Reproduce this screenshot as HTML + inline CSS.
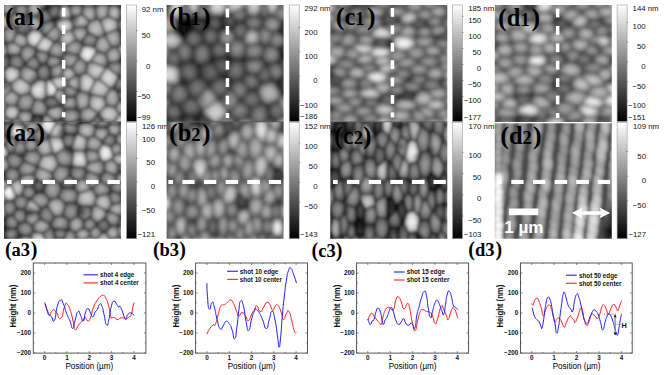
<!DOCTYPE html>
<html><head><meta charset="utf-8"><style>
html,body{margin:0;padding:0;background:#fff;}
svg{display:block;}
text{font-family:"Liberation Sans",sans-serif;}
.lab{font-family:"Liberation Serif",serif;font-weight:bold;font-size:24px;fill:#000;}
.cb{font-size:7.8px;fill:#111;}
.lab3{font-family:"Liberation Serif",serif;font-weight:bold;font-size:19px;fill:#000;}
</style></head><body>
<svg width="665" height="375" viewBox="0 0 665 375">
<defs>
<linearGradient id="cbg" x1="0" y1="0" x2="0" y2="1">
<stop offset="0" stop-color="#fff"/><stop offset="1" stop-color="#000"/>
</linearGradient>
<radialGradient id="gw"><stop offset="0" stop-color="#fff" stop-opacity="1"/><stop offset="0.5" stop-color="#fff" stop-opacity="0.7"/><stop offset="1" stop-color="#fff" stop-opacity="0"/></radialGradient>
<radialGradient id="gk"><stop offset="0" stop-color="#000" stop-opacity="1"/><stop offset="1" stop-color="#000" stop-opacity="0"/></radialGradient>
<filter id="bl" x="-5%" y="-5%" width="110%" height="110%"><feGaussianBlur stdDeviation="1.1"/></filter>
</defs>
<rect width="665" height="375" fill="#fff"/>

<text class="cb" x="150.4" y="12.0" text-anchor="end">92</text>
<text class="cb" x="150.4" y="12.0">&#160;nm</text>
<text class="cb" x="150.4" y="38.3" text-anchor="end">50</text>
<text class="cb" x="150.4" y="68.5" text-anchor="end">0</text>
<text class="cb" x="150.4" y="99.0" text-anchor="end">−50</text>
<text class="cb" x="150.4" y="120.0" text-anchor="end">−99</text>
<text class="cb" x="155.0" y="129.1" text-anchor="end">126</text>
<text class="cb" x="155.0" y="129.1">&#160;nm</text>
<text class="cb" x="155.0" y="142.0" text-anchor="end">100</text>
<text class="cb" x="155.0" y="165.3" text-anchor="end">50</text>
<text class="cb" x="155.0" y="189.0" text-anchor="end">0</text>
<text class="cb" x="155.0" y="212.8" text-anchor="end">−50</text>
<text class="cb" x="155.0" y="237.1" text-anchor="end">−121</text>
<text class="cb" x="317.5" y="11.4" text-anchor="end">292</text>
<text class="cb" x="317.5" y="11.4">&#160;nm</text>
<text class="cb" x="317.5" y="34.5" text-anchor="end">200</text>
<text class="cb" x="317.5" y="58.8" text-anchor="end">100</text>
<text class="cb" x="317.5" y="83.3" text-anchor="end">0</text>
<text class="cb" x="317.5" y="107.5" text-anchor="end">−100</text>
<text class="cb" x="317.5" y="119.1" text-anchor="end">−186</text>
<text class="cb" x="317.5" y="128.7" text-anchor="end">152</text>
<text class="cb" x="317.5" y="128.7">&#160;nm</text>
<text class="cb" x="317.5" y="149.1" text-anchor="end">100</text>
<text class="cb" x="317.5" y="169.2" text-anchor="end">50</text>
<text class="cb" x="317.5" y="189.1" text-anchor="end">0</text>
<text class="cb" x="317.5" y="209.1" text-anchor="end">−50</text>
<text class="cb" x="317.5" y="237.3" text-anchor="end">−143</text>
<text class="cb" x="481.2" y="11.4" text-anchor="end">185</text>
<text class="cb" x="481.2" y="11.4">&#160;nm</text>
<text class="cb" x="481.2" y="22.8" text-anchor="end">150</text>
<text class="cb" x="481.2" y="39.3" text-anchor="end">100</text>
<text class="cb" x="481.2" y="55.3" text-anchor="end">50</text>
<text class="cb" x="481.2" y="71.1" text-anchor="end">0</text>
<text class="cb" x="481.2" y="87.1" text-anchor="end">−50</text>
<text class="cb" x="481.2" y="102.8" text-anchor="end">−100</text>
<text class="cb" x="481.2" y="119.5" text-anchor="end">−177</text>
<text class="cb" x="481.4" y="128.7" text-anchor="end">170</text>
<text class="cb" x="481.4" y="128.7">&#160;nm</text>
<text class="cb" x="481.4" y="158.3" text-anchor="end">100</text>
<text class="cb" x="481.4" y="180.0" text-anchor="end">50</text>
<text class="cb" x="481.4" y="201.0" text-anchor="end">0</text>
<text class="cb" x="481.4" y="222.8" text-anchor="end">−50</text>
<text class="cb" x="481.4" y="236.9" text-anchor="end">−103</text>
<text class="cb" x="645.6" y="11.4" text-anchor="end">144</text>
<text class="cb" x="645.6" y="11.4">&#160;nm</text>
<text class="cb" x="645.6" y="28.8" text-anchor="end">100</text>
<text class="cb" x="645.6" y="48.8" text-anchor="end">50</text>
<text class="cb" x="645.6" y="68.9" text-anchor="end">0</text>
<text class="cb" x="645.6" y="88.8" text-anchor="end">−50</text>
<text class="cb" x="645.6" y="108.2" text-anchor="end">−100</text>
<text class="cb" x="645.6" y="119.6" text-anchor="end">−151</text>
<text class="cb" x="646.0" y="129.3" text-anchor="end">109</text>
<text class="cb" x="646.0" y="129.3">&#160;nm</text>
<text class="cb" x="646.0" y="159.3" text-anchor="end">50</text>
<text class="cb" x="646.0" y="183.3" text-anchor="end">0</text>
<text class="cb" x="646.0" y="208.1" text-anchor="end">−50</text>
<text class="cb" x="646.0" y="237.3" text-anchor="end">−127</text>
<rect x="126.6" y="5.0" width="10.0" height="116.5" fill="url(#cbg)" stroke="#999" stroke-width="0.6"/>
<path d="M136.0,30.6h1.6M136.0,61.1h1.6M136.0,91.6h1.6" stroke="#555" stroke-width="0.6"/>
<rect x="126.6" y="122.5" width="10.0" height="116.2" fill="url(#cbg)" stroke="#999" stroke-width="0.6"/>
<path d="M136.0,134.7h1.6M136.0,158.3h1.6M136.0,181.8h1.6M136.0,205.3h1.6" stroke="#555" stroke-width="0.6"/>
<rect x="289.2" y="5.0" width="10.0" height="116.5" fill="url(#cbg)" stroke="#999" stroke-width="0.6"/>
<path d="M298.6,27.4h1.6M298.6,51.8h1.6M298.6,76.2h1.6M298.6,100.5h1.6" stroke="#555" stroke-width="0.6"/>
<rect x="289.2" y="122.5" width="10.0" height="116.2" fill="url(#cbg)" stroke="#999" stroke-width="0.6"/>
<path d="M298.6,143.0h1.6M298.6,162.7h1.6M298.6,182.4h1.6M298.6,202.1h1.6" stroke="#555" stroke-width="0.6"/>
<rect x="452.5" y="5.0" width="10.0" height="116.5" fill="url(#cbg)" stroke="#999" stroke-width="0.6"/>
<path d="M461.9,16.3h1.6M461.9,32.4h1.6M461.9,48.4h1.6M461.9,64.5h1.6M461.9,80.6h1.6M461.9,96.7h1.6" stroke="#555" stroke-width="0.6"/>
<rect x="452.5" y="122.5" width="10.0" height="116.2" fill="url(#cbg)" stroke="#999" stroke-width="0.6"/>
<path d="M461.9,152.3h1.6M461.9,173.6h1.6M461.9,194.9h1.6M461.9,216.1h1.6" stroke="#555" stroke-width="0.6"/>
<rect x="617.1" y="5.0" width="10.0" height="116.5" fill="url(#cbg)" stroke="#999" stroke-width="0.6"/>
<path d="M626.5,22.4h1.6M626.5,42.1h1.6M626.5,61.9h1.6M626.5,81.6h1.6M626.5,101.4h1.6" stroke="#555" stroke-width="0.6"/>
<rect x="617.1" y="122.5" width="10.0" height="116.2" fill="url(#cbg)" stroke="#999" stroke-width="0.6"/>
<path d="M626.5,151.6h1.6M626.5,176.2h1.6M626.5,200.8h1.6" stroke="#555" stroke-width="0.6"/>
<clipPath id="cpa1"><rect x="4.0" y="5.0" width="117.0" height="117.0"/></clipPath>
<g clip-path="url(#cpa1)">
<filter id="bla1" x="-5%" y="-5%" width="110%" height="110%"><feGaussianBlur stdDeviation="1.7"/></filter>
<g filter="url(#bla1)" style="isolation:isolate">
<rect x="0.0" y="1.0" width="125.0" height="125.0" fill="rgb(87,87,87)"/>
<path d="M4.5,14.4L0.8,6.6L7.9,0.3L14.7,7.1L14.4,12.2L10.3,16.1Z" fill="url(#v80)" stroke="#000" stroke-opacity="0.72" stroke-width="1.3" stroke-linejoin="round"/>
<path d="M14.4,12.2L27.7,17.5L28.3,16.9L27.5,6.1L21.3,3.2L14.7,7.1Z" fill="url(#v74)" stroke="#000" stroke-opacity="0.72" stroke-width="1.3" stroke-linejoin="round"/>
<path d="M42.7,8.8L33.4,1.1L27.5,6.1L28.3,16.9L36.3,15.9Z" fill="url(#v86)" stroke="#000" stroke-opacity="0.72" stroke-width="1.3" stroke-linejoin="round"/>
<path d="M57.8,19.1L61.2,6.2L57.9,3.5L46.0,8.4L53.3,19.8L55.4,20.6Z" fill="url(#v64)" stroke="#000" stroke-opacity="0.72" stroke-width="1.3" stroke-linejoin="round"/>
<path d="M57.8,19.1L71.1,19.0L73.4,26.9L71.8,29.9L61.7,33.1L56.1,25.0L55.4,20.6Z" fill="url(#v104)" stroke="#000" stroke-opacity="0.72" stroke-width="1.3" stroke-linejoin="round"/>
<path d="M82.2,4.1L69.1,5.6L69.1,5.6L71.7,17.8L81.8,14.3L83.1,5.3Z" fill="url(#v80)" stroke="#000" stroke-opacity="0.72" stroke-width="1.3" stroke-linejoin="round"/>
<path d="M83.1,5.3L81.8,14.3L89.6,21.8L96.5,19.0L94.9,6.5L94.8,6.4Z" fill="url(#v86)" stroke="#000" stroke-opacity="0.72" stroke-width="1.3" stroke-linejoin="round"/>
<path d="M108.1,3.0L94.9,6.5L96.5,19.0L100.0,20.3L107.9,16.4L109.5,5.2Z" fill="url(#v86)" stroke="#000" stroke-opacity="0.72" stroke-width="1.3" stroke-linejoin="round"/>
<path d="M120.2,7.2L109.5,5.2L107.9,16.4L118.1,20.7L120.2,18.7Z" fill="url(#v92)" stroke="#000" stroke-opacity="0.72" stroke-width="1.3" stroke-linejoin="round"/>
<path d="M118.1,29.2L105.2,34.0L100.0,20.3L107.9,16.4L118.1,20.7Z" fill="url(#v98)" stroke="#000" stroke-opacity="0.72" stroke-width="1.3" stroke-linejoin="round"/>
<path d="M96.5,19.0L100.0,20.3L105.2,34.0L104.7,35.0L98.4,37.8L87.8,32.4L86.6,27.2L89.6,21.8Z" fill="url(#v92)" stroke="#000" stroke-opacity="0.72" stroke-width="1.3" stroke-linejoin="round"/>
<path d="M71.8,29.9L76.0,39.8L81.4,41.8L87.8,32.4L86.6,27.2L73.4,26.9Z" fill="url(#v86)" stroke="#000" stroke-opacity="0.72" stroke-width="1.3" stroke-linejoin="round"/>
<path d="M79.1,55.9L83.0,45.6L94.5,47.1L96.7,51.5L90.1,61.4L87.2,62.7L79.9,57.4Z" fill="url(#v115)" stroke="#000" stroke-opacity="0.72" stroke-width="1.3" stroke-linejoin="round"/>
<path d="M79.1,55.9L65.3,52.4L64.3,46.8L76.0,39.8L81.4,41.8L83.0,45.6Z" fill="url(#v80)" stroke="#000" stroke-opacity="0.72" stroke-width="1.3" stroke-linejoin="round"/>
<path d="M94.5,47.1L98.4,37.8L104.7,35.0L111.7,47.2L106.0,53.8L96.7,51.5Z" fill="url(#v86)" stroke="#000" stroke-opacity="0.72" stroke-width="1.3" stroke-linejoin="round"/>
<path d="M118.1,29.2L105.2,34.0L104.7,35.0L111.7,47.2L117.4,47.2L121.0,44.1L119.8,30.6Z" fill="url(#v86)" stroke="#000" stroke-opacity="0.72" stroke-width="1.3" stroke-linejoin="round"/>
<path d="M111.7,47.2L106.0,53.8L108.2,63.7L119.1,60.8L121.3,55.6L117.4,47.2Z" fill="url(#v86)" stroke="#000" stroke-opacity="0.72" stroke-width="1.3" stroke-linejoin="round"/>
<path d="M28.4,44.7L35.5,47.5L43.5,36.3L40.1,31.0L32.1,29.8L26.4,36.4Z" fill="url(#v109)" stroke="#000" stroke-opacity="0.72" stroke-width="1.3" stroke-linejoin="round"/>
<path d="M36.3,49.3L35.5,47.5L43.5,36.3L44.7,36.4L54.3,41.9L47.9,52.6Z" fill="url(#v104)" stroke="#000" stroke-opacity="0.72" stroke-width="1.3" stroke-linejoin="round"/>
<path d="M22.4,47.7L12.5,41.7L17.2,32.2L26.4,36.4L28.4,44.7Z" fill="url(#v86)" stroke="#000" stroke-opacity="0.72" stroke-width="1.3" stroke-linejoin="round"/>
<path d="M2.9,29.3L11.4,26.0L15.7,28.3L17.2,32.2L12.5,41.7L6.3,44.1L5.0,43.3Z" fill="url(#v80)" stroke="#000" stroke-opacity="0.72" stroke-width="1.3" stroke-linejoin="round"/>
<path d="M22.4,47.7L19.5,54.4L8.8,55.5L7.2,54.1L6.3,44.1L12.5,41.7Z" fill="url(#v86)" stroke="#000" stroke-opacity="0.72" stroke-width="1.3" stroke-linejoin="round"/>
<path d="M22.4,47.7L19.5,54.4L24.8,63.4L35.0,55.1L36.3,49.3L35.5,47.5L28.4,44.7Z" fill="url(#v80)" stroke="#000" stroke-opacity="0.72" stroke-width="1.3" stroke-linejoin="round"/>
<path d="M46.0,63.8L49.4,55.2L47.9,52.6L36.3,49.3L35.0,55.1L41.0,64.5Z" fill="url(#v74)" stroke="#000" stroke-opacity="0.72" stroke-width="1.3" stroke-linejoin="round"/>
<path d="M59.2,41.4L54.3,41.9L47.9,52.6L49.4,55.2L61.6,58.0L65.3,52.4L64.3,46.8Z" fill="url(#v80)" stroke="#000" stroke-opacity="0.72" stroke-width="1.3" stroke-linejoin="round"/>
<path d="M55.4,20.6L53.3,19.8L42.5,24.0L40.1,31.0L43.5,36.3L44.7,36.4L56.1,25.0Z" fill="url(#v74)" stroke="#000" stroke-opacity="0.72" stroke-width="1.3" stroke-linejoin="round"/>
<path d="M56.1,25.0L44.7,36.4L54.3,41.9L59.2,41.4L61.7,33.1Z" fill="url(#v80)" stroke="#000" stroke-opacity="0.72" stroke-width="1.3" stroke-linejoin="round"/>
<path d="M79.1,55.9L65.3,52.4L61.6,58.0L61.7,62.7L64.2,66.5L71.3,68.0L79.9,57.4Z" fill="url(#v80)" stroke="#000" stroke-opacity="0.72" stroke-width="1.3" stroke-linejoin="round"/>
<path d="M90.1,61.4L106.1,67.5L106.9,67.0L108.2,63.7L106.0,53.8L96.7,51.5Z" fill="url(#v86)" stroke="#000" stroke-opacity="0.72" stroke-width="1.3" stroke-linejoin="round"/>
<path d="M3.8,70.4L5.7,80.7L11.0,83.4L19.8,77.1L19.8,69.7L10.1,66.2Z" fill="url(#v104)" stroke="#000" stroke-opacity="0.72" stroke-width="1.3" stroke-linejoin="round"/>
<path d="M19.8,77.1L31.3,85.3L30.1,92.9L20.1,95.9L12.1,90.1L11.0,83.4Z" fill="url(#v98)" stroke="#000" stroke-opacity="0.72" stroke-width="1.3" stroke-linejoin="round"/>
<path d="M19.8,77.1L31.3,85.3L38.2,79.5L36.3,71.1L24.6,65.1L19.8,69.7Z" fill="url(#v86)" stroke="#000" stroke-opacity="0.72" stroke-width="1.3" stroke-linejoin="round"/>
<path d="M46.2,80.6L38.2,79.5L31.3,85.3L30.1,92.9L35.1,98.8L42.7,99.9L46.2,96.8Z" fill="url(#v109)" stroke="#000" stroke-opacity="0.72" stroke-width="1.3" stroke-linejoin="round"/>
<path d="M57.6,89.5L50.3,79.3L46.2,80.6L46.2,96.8L53.8,95.6Z" fill="url(#v115)" stroke="#000" stroke-opacity="0.72" stroke-width="1.3" stroke-linejoin="round"/>
<path d="M46.0,63.8L50.6,68.0L50.6,79.0L50.3,79.3L46.2,80.6L38.2,79.5L36.3,71.1L41.0,64.5Z" fill="url(#v68)" stroke="#000" stroke-opacity="0.72" stroke-width="1.3" stroke-linejoin="round"/>
<path d="M7.2,105.7L16.4,105.7L20.1,95.9L12.1,90.1L1.8,98.1Z" fill="url(#v86)" stroke="#000" stroke-opacity="0.72" stroke-width="1.3" stroke-linejoin="round"/>
<path d="M12.1,119.9L6.0,117.6L4.1,112.2L7.2,105.7L16.4,105.7L19.7,111.0L17.4,117.3Z" fill="url(#v98)" stroke="#000" stroke-opacity="0.72" stroke-width="1.3" stroke-linejoin="round"/>
<path d="M19.7,111.0L30.5,111.0L35.1,98.8L30.1,92.9L20.1,95.9L16.4,105.7Z" fill="url(#v80)" stroke="#000" stroke-opacity="0.72" stroke-width="1.3" stroke-linejoin="round"/>
<path d="M43.6,116.0L46.4,114.3L47.6,108.8L42.7,99.9L35.1,98.8L30.5,111.0L32.7,114.5Z" fill="url(#v80)" stroke="#000" stroke-opacity="0.72" stroke-width="1.3" stroke-linejoin="round"/>
<path d="M54.3,120.3L62.1,118.2L64.1,109.2L61.7,105.6L61.6,105.5L47.6,108.8L46.4,114.3Z" fill="url(#v86)" stroke="#000" stroke-opacity="0.72" stroke-width="1.3" stroke-linejoin="round"/>
<path d="M31.0,121.1L24.0,124.8L17.4,117.3L19.7,111.0L30.5,111.0L32.7,114.5Z" fill="url(#v86)" stroke="#000" stroke-opacity="0.72" stroke-width="1.3" stroke-linejoin="round"/>
<path d="M61.7,62.7L64.2,66.5L61.4,76.0L50.6,79.0L50.6,68.0Z" fill="url(#v80)" stroke="#000" stroke-opacity="0.72" stroke-width="1.3" stroke-linejoin="round"/>
<path d="M67.3,84.6L78.6,91.4L79.7,90.9L79.7,75.7L76.2,75.0L67.3,81.1Z" fill="url(#v86)" stroke="#000" stroke-opacity="0.72" stroke-width="1.3" stroke-linejoin="round"/>
<path d="M79.7,90.9L89.3,92.9L95.5,79.8L86.2,72.8L79.7,75.7Z" fill="url(#v104)" stroke="#000" stroke-opacity="0.72" stroke-width="1.3" stroke-linejoin="round"/>
<path d="M87.2,62.7L86.2,72.8L95.5,79.8L98.8,79.1L106.1,67.5L90.1,61.4Z" fill="url(#v98)" stroke="#000" stroke-opacity="0.72" stroke-width="1.3" stroke-linejoin="round"/>
<path d="M119.0,76.4L106.9,67.0L106.1,67.5L98.8,79.1L110.4,88.3L112.6,87.9Z" fill="url(#v104)" stroke="#000" stroke-opacity="0.72" stroke-width="1.3" stroke-linejoin="round"/>
<path d="M106.3,105.5L98.8,113.0L88.7,106.7L90.1,94.3L104.5,97.3Z" fill="url(#v98)" stroke="#000" stroke-opacity="0.72" stroke-width="1.3" stroke-linejoin="round"/>
<path d="M78.6,91.4L75.3,96.0L77.5,109.2L79.7,110.7L88.7,106.7L90.1,94.3L89.3,92.9L79.7,90.9Z" fill="url(#v86)" stroke="#000" stroke-opacity="0.72" stroke-width="1.3" stroke-linejoin="round"/>
<path d="M75.3,96.0L77.5,109.2L64.1,109.2L61.7,105.6L66.5,97.5Z" fill="url(#v80)" stroke="#000" stroke-opacity="0.72" stroke-width="1.3" stroke-linejoin="round"/>
<path d="M117.0,91.1L112.6,87.9L110.4,88.3L104.5,97.3L106.3,105.5L115.3,107.5L119.7,100.4Z" fill="url(#v86)" stroke="#000" stroke-opacity="0.72" stroke-width="1.3" stroke-linejoin="round"/>
<path d="M106.3,105.5L98.8,113.0L98.8,113.5L103.2,119.8L114.2,122.4L119.3,114.1L115.3,107.5Z" fill="url(#v98)" stroke="#000" stroke-opacity="0.72" stroke-width="1.3" stroke-linejoin="round"/>
<path d="M79.7,119.6L79.7,110.7L88.7,106.7L98.8,113.0L98.8,113.5L90.1,122.3L80.2,120.3Z" fill="url(#v86)" stroke="#000" stroke-opacity="0.72" stroke-width="1.3" stroke-linejoin="round"/>
<path d="M67.0,123.9L79.7,119.6L79.7,110.7L77.5,109.2L64.1,109.2L62.1,118.2Z" fill="url(#v80)" stroke="#000" stroke-opacity="0.72" stroke-width="1.3" stroke-linejoin="round"/>
<path d="M79.9,57.4L71.3,68.0L76.2,75.0L79.7,75.7L86.2,72.8L87.2,62.7Z" fill="url(#v80)" stroke="#000" stroke-opacity="0.72" stroke-width="1.3" stroke-linejoin="round"/>
<path d="M67.3,84.6L62.6,89.4L66.5,97.5L75.3,96.0L78.6,91.4Z" fill="url(#v74)" stroke="#000" stroke-opacity="0.72" stroke-width="1.3" stroke-linejoin="round"/>
<path d="M61.7,33.1L59.2,41.4L64.3,46.8L76.0,39.8L71.8,29.9Z" fill="url(#v95)" stroke="#000" stroke-opacity="0.72" stroke-width="1.3" stroke-linejoin="round"/>
<path d="M120.2,18.7L118.1,20.7L118.1,29.2L119.8,30.6L131.0,31.1L131.0,17.7Z" fill="url(#v78)" stroke="#000" stroke-opacity="0.72" stroke-width="1.3" stroke-linejoin="round"/>
<path d="M5.7,80.7L11.0,83.4L12.1,90.1L1.8,98.1L-6.0,96.3L-6.0,85.6Z" fill="url(#v95)" stroke="#000" stroke-opacity="0.72" stroke-width="1.3" stroke-linejoin="round"/>
<path d="M36.3,15.9L28.3,16.9L27.7,17.5L27.2,19.6L32.1,29.8L40.1,31.0L42.5,24.0Z" fill="url(#v85)" stroke="#000" stroke-opacity="0.72" stroke-width="1.3" stroke-linejoin="round"/>
<path d="M43.6,116.0L46.4,114.3L54.3,120.3L50.9,132.0L40.6,132.0Z" fill="url(#v88)" stroke="#000" stroke-opacity="0.72" stroke-width="1.3" stroke-linejoin="round"/>
<path d="M42.7,8.8L33.4,1.1L33.7,-5.0L46.2,-5.0L45.5,8.2Z" fill="url(#v89)" stroke="#000" stroke-opacity="0.72" stroke-width="1.3" stroke-linejoin="round"/>
<path d="M-6.0,22.0L4.5,14.4L10.3,16.1L11.4,26.0L2.9,29.3L-6.0,26.3Z" fill="url(#v89)" stroke="#000" stroke-opacity="0.72" stroke-width="1.3" stroke-linejoin="round"/>
<path d="M7.2,54.1L8.8,55.5L10.1,66.2L3.8,70.4L-6.0,67.0L-6.0,58.9Z" fill="url(#v65)" stroke="#000" stroke-opacity="0.72" stroke-width="1.3" stroke-linejoin="round"/>
<path d="M31.0,121.1L24.0,124.8L22.5,132.0L40.3,132.0Z" fill="url(#v68)" stroke="#000" stroke-opacity="0.72" stroke-width="1.3" stroke-linejoin="round"/>
<path d="M119.1,60.8L121.3,55.6L131.0,56.0L131.0,65.0L123.5,66.1Z" fill="url(#v44)" stroke="#000" stroke-opacity="0.72" stroke-width="1.3" stroke-linejoin="round"/>
<path d="M117.4,47.2L121.3,55.6L131.0,56.0L131.0,44.3L121.0,44.1Z" fill="url(#v92)" stroke="#000" stroke-opacity="0.72" stroke-width="1.3" stroke-linejoin="round"/>
<path d="M114.2,122.4L116.6,132.0L131.0,132.0L131.0,114.8L119.3,114.1Z" fill="url(#v104)" stroke="#000" stroke-opacity="0.72" stroke-width="1.3" stroke-linejoin="round"/>
<path d="M117.0,91.1L112.6,87.9L119.0,76.4L119.3,76.4L131.0,79.6L131.0,89.2Z" fill="url(#v66)" stroke="#000" stroke-opacity="0.72" stroke-width="1.3" stroke-linejoin="round"/>
<path d="M33.4,1.1L27.5,6.1L21.3,3.2L20.9,-5.0L33.7,-5.0Z" fill="url(#v79)" stroke="#000" stroke-opacity="0.72" stroke-width="1.3" stroke-linejoin="round"/>
<path d="M122.1,5.8L121.7,-5.0L108.6,-5.0L108.1,3.0L109.5,5.2L120.2,7.2Z" fill="url(#v63)" stroke="#000" stroke-opacity="0.72" stroke-width="1.3" stroke-linejoin="round"/>
<path d="M-6.0,111.8L-6.0,96.3L1.8,98.1L7.2,105.7L4.1,112.2Z" fill="url(#v82)" stroke="#000" stroke-opacity="0.72" stroke-width="1.3" stroke-linejoin="round"/>
<path d="M61.6,105.5L53.8,95.6L46.2,96.8L42.7,99.9L47.6,108.8Z" fill="url(#v60)" stroke="#000" stroke-opacity="0.72" stroke-width="1.3" stroke-linejoin="round"/>
<path d="M94.5,-5.0L94.8,6.4L83.1,5.3L82.2,4.1L82.3,-5.0Z" fill="url(#v92)" stroke="#000" stroke-opacity="0.72" stroke-width="1.3" stroke-linejoin="round"/>
<path d="M98.8,113.5L90.1,122.3L93.3,132.0L99.2,132.0L103.2,119.8Z" fill="url(#v61)" stroke="#000" stroke-opacity="0.72" stroke-width="1.3" stroke-linejoin="round"/>
<path d="M46.0,8.4L57.9,3.5L56.8,-5.0L46.2,-5.0L45.5,8.2Z" fill="url(#v67)" stroke="#000" stroke-opacity="0.72" stroke-width="1.3" stroke-linejoin="round"/>
<path d="M-6.0,129.7L6.0,117.6L12.1,119.9L11.6,132.0L-6.0,132.0Z" fill="url(#v86)" stroke="#000" stroke-opacity="0.72" stroke-width="1.3" stroke-linejoin="round"/>
<path d="M10.3,16.1L11.4,26.0L15.7,28.3L27.2,19.6L27.7,17.5L14.4,12.2Z" fill="url(#v82)" stroke="#000" stroke-opacity="0.72" stroke-width="1.3" stroke-linejoin="round"/>
<path d="M119.7,100.4L131.0,100.6L131.0,114.8L119.3,114.1L115.3,107.5Z" fill="url(#v89)" stroke="#000" stroke-opacity="0.72" stroke-width="1.3" stroke-linejoin="round"/>
<path d="M69.1,5.6L69.1,5.6L61.2,6.2L57.9,3.5L56.8,-5.0L69.4,-5.0Z" fill="url(#v84)" stroke="#000" stroke-opacity="0.72" stroke-width="1.3" stroke-linejoin="round"/>
<path d="M104.5,97.3L90.1,94.3L89.3,92.9L95.5,79.8L98.8,79.1L110.4,88.3Z" fill="url(#v98)" stroke="#000" stroke-opacity="0.72" stroke-width="1.3" stroke-linejoin="round"/>
<path d="M8.8,55.5L10.1,66.2L19.8,69.7L24.6,65.1L24.8,63.4L19.5,54.4Z" fill="url(#v69)" stroke="#000" stroke-opacity="0.72" stroke-width="1.3" stroke-linejoin="round"/>
<path d="M89.6,21.8L86.6,27.2L73.4,26.9L71.1,19.0L71.7,17.8L81.8,14.3Z" fill="url(#v91)" stroke="#000" stroke-opacity="0.72" stroke-width="1.3" stroke-linejoin="round"/>
<path d="M131.0,-5.0L131.0,6.7L122.1,5.8L121.7,-5.0Z" fill="url(#v78)" stroke="#000" stroke-opacity="0.72" stroke-width="1.3" stroke-linejoin="round"/>
<path d="M2.9,29.3L5.0,43.3L-6.0,43.7L-6.0,26.3Z" fill="url(#v93)" stroke="#000" stroke-opacity="0.72" stroke-width="1.3" stroke-linejoin="round"/>
<path d="M67.3,84.6L62.6,89.4L57.6,89.5L50.3,79.3L50.6,79.0L61.4,76.0L67.3,81.1Z" fill="url(#v100)" stroke="#000" stroke-opacity="0.72" stroke-width="1.3" stroke-linejoin="round"/>
<path d="M67.3,81.1L61.4,76.0L64.2,66.5L71.3,68.0L76.2,75.0Z" fill="url(#v90)" stroke="#000" stroke-opacity="0.72" stroke-width="1.3" stroke-linejoin="round"/>
<path d="M5.0,43.3L-6.0,43.7L-6.0,58.9L7.2,54.1L6.3,44.1Z" fill="url(#v91)" stroke="#000" stroke-opacity="0.72" stroke-width="1.3" stroke-linejoin="round"/>
<path d="M54.3,120.3L50.9,132.0L66.4,132.0L67.0,123.9L62.1,118.2Z" fill="url(#v54)" stroke="#000" stroke-opacity="0.72" stroke-width="1.3" stroke-linejoin="round"/>
<path d="M26.4,36.4L32.1,29.8L27.2,19.6L15.7,28.3L17.2,32.2Z" fill="url(#v68)" stroke="#000" stroke-opacity="0.72" stroke-width="1.3" stroke-linejoin="round"/>
<path d="M114.2,122.4L103.2,119.8L99.2,132.0L116.6,132.0Z" fill="url(#v102)" stroke="#000" stroke-opacity="0.72" stroke-width="1.3" stroke-linejoin="round"/>
<path d="M119.3,76.4L123.5,66.1L131.0,65.0L131.0,79.6Z" fill="url(#v85)" stroke="#000" stroke-opacity="0.72" stroke-width="1.3" stroke-linejoin="round"/>
<path d="M41.0,64.5L36.3,71.1L24.6,65.1L24.8,63.4L35.0,55.1Z" fill="url(#v69)" stroke="#000" stroke-opacity="0.72" stroke-width="1.3" stroke-linejoin="round"/>
<path d="M46.0,8.4L53.3,19.8L42.5,24.0L36.3,15.9L42.7,8.8L45.5,8.2Z" fill="url(#v65)" stroke="#000" stroke-opacity="0.72" stroke-width="1.3" stroke-linejoin="round"/>
<path d="M117.0,91.1L131.0,89.2L131.0,100.6L119.7,100.4Z" fill="url(#v67)" stroke="#000" stroke-opacity="0.72" stroke-width="1.3" stroke-linejoin="round"/>
<path d="M24.0,124.8L17.4,117.3L12.1,119.9L11.6,132.0L22.5,132.0Z" fill="url(#v79)" stroke="#000" stroke-opacity="0.72" stroke-width="1.3" stroke-linejoin="round"/>
<path d="M94.5,-5.0L108.6,-5.0L108.1,3.0L94.9,6.5L94.8,6.4Z" fill="url(#v84)" stroke="#000" stroke-opacity="0.72" stroke-width="1.3" stroke-linejoin="round"/>
<path d="M-6.0,-5.0L-6.0,5.8L0.8,6.6L7.9,0.3L8.0,-5.0Z" fill="url(#v55)" stroke="#000" stroke-opacity="0.72" stroke-width="1.3" stroke-linejoin="round"/>
<path d="M119.8,30.6L131.0,31.1L131.0,44.3L121.0,44.1Z" fill="url(#v61)" stroke="#000" stroke-opacity="0.72" stroke-width="1.3" stroke-linejoin="round"/>
<path d="M67.0,123.9L66.4,132.0L80.6,132.0L80.2,120.3L79.7,119.6Z" fill="url(#v76)" stroke="#000" stroke-opacity="0.72" stroke-width="1.3" stroke-linejoin="round"/>
<path d="M14.7,7.1L21.3,3.2L20.9,-5.0L8.0,-5.0L7.9,0.3Z" fill="url(#v82)" stroke="#000" stroke-opacity="0.72" stroke-width="1.3" stroke-linejoin="round"/>
<path d="M82.3,-5.0L69.4,-5.0L69.1,5.6L82.2,4.1Z" fill="url(#v69)" stroke="#000" stroke-opacity="0.72" stroke-width="1.3" stroke-linejoin="round"/>
<path d="M57.8,19.1L61.2,6.2L69.1,5.6L71.7,17.8L71.1,19.0Z" fill="url(#v95)" stroke="#000" stroke-opacity="0.72" stroke-width="1.3" stroke-linejoin="round"/>
<path d="M80.2,120.3L80.6,132.0L93.3,132.0L90.1,122.3Z" fill="url(#v71)" stroke="#000" stroke-opacity="0.72" stroke-width="1.3" stroke-linejoin="round"/>
<path d="M122.1,5.8L120.2,7.2L120.2,18.7L131.0,17.7L131.0,6.7Z" fill="url(#v84)" stroke="#000" stroke-opacity="0.72" stroke-width="1.3" stroke-linejoin="round"/>
<path d="M3.8,70.4L5.7,80.7L-6.0,85.6L-6.0,67.0Z" fill="url(#v59)" stroke="#000" stroke-opacity="0.72" stroke-width="1.3" stroke-linejoin="round"/>
<path d="M66.5,97.5L61.7,105.6L61.6,105.5L53.8,95.6L57.6,89.5L62.6,89.4Z" fill="url(#v96)" stroke="#000" stroke-opacity="0.72" stroke-width="1.3" stroke-linejoin="round"/>
<path d="M119.0,76.4L106.9,67.0L108.2,63.7L119.1,60.8L123.5,66.1L119.3,76.4Z" fill="url(#v74)" stroke="#000" stroke-opacity="0.72" stroke-width="1.3" stroke-linejoin="round"/>
<path d="M-6.0,129.7L-6.0,111.8L4.1,112.2L6.0,117.6Z" fill="url(#v85)" stroke="#000" stroke-opacity="0.72" stroke-width="1.3" stroke-linejoin="round"/>
<path d="M46.0,63.8L50.6,68.0L61.7,62.7L61.6,58.0L49.4,55.2Z" fill="url(#v76)" stroke="#000" stroke-opacity="0.72" stroke-width="1.3" stroke-linejoin="round"/>
<path d="M40.3,132.0L31.0,121.1L32.7,114.5L43.6,116.0L40.6,132.0Z" fill="url(#v49)" stroke="#000" stroke-opacity="0.72" stroke-width="1.3" stroke-linejoin="round"/>
<path d="M94.5,47.1L98.4,37.8L87.8,32.4L81.4,41.8L83.0,45.6Z" fill="url(#v71)" stroke="#000" stroke-opacity="0.72" stroke-width="1.3" stroke-linejoin="round"/>
<path d="M-6.0,22.0L4.5,14.4L0.8,6.6L-6.0,5.8Z" fill="url(#v74)" stroke="#000" stroke-opacity="0.72" stroke-width="1.3" stroke-linejoin="round"/>
<ellipse cx="48.0" cy="6.8" rx="8.0" ry="8.0" fill="url(#gk)" opacity="0.5"/>
<ellipse cx="56.8" cy="19.1" rx="6.9" ry="6.9" fill="url(#gk)" opacity="0.5"/>
<ellipse cx="74.4" cy="19.1" rx="6.9" ry="6.9" fill="url(#gk)" opacity="0.45"/>
<ellipse cx="25.1" cy="31.4" rx="6.9" ry="6.9" fill="url(#gk)" opacity="0.3"/>
<ellipse cx="4.0" cy="86.4" rx="8.0" ry="8.0" fill="url(#gk)" opacity="0.6"/>
<ellipse cx="33.9" cy="81.1" rx="6.9" ry="6.9" fill="url(#gk)" opacity="0.4"/>
<ellipse cx="62.1" cy="98.7" rx="6.9" ry="6.9" fill="url(#gk)" opacity="0.4"/>
</g></g>
<clipPath id="cpa2"><rect x="4.0" y="122.0" width="117.0" height="116.7"/></clipPath>
<g clip-path="url(#cpa2)">
<filter id="bla2" x="-5%" y="-5%" width="110%" height="110%"><feGaussianBlur stdDeviation="1.7"/></filter>
<g filter="url(#bla2)" style="isolation:isolate">
<rect x="0.0" y="118.0" width="125.0" height="124.7" fill="rgb(86,86,86)"/>
<path d="M40.4,124.9L40.5,127.4L49.0,135.5L56.4,123.1L49.0,112.5Z" fill="url(#v115)" stroke="#000" stroke-opacity="0.72" stroke-width="1.3" stroke-linejoin="round"/>
<path d="M65.1,147.7L54.3,154.5L53.2,154.0L48.5,137.6L49.1,136.3L61.4,137.9Z" fill="url(#v103)" stroke="#000" stroke-opacity="0.72" stroke-width="1.3" stroke-linejoin="round"/>
<path d="M37.8,142.6L36.9,150.2L42.0,156.3L53.2,154.0L48.5,137.6Z" fill="url(#v91)" stroke="#000" stroke-opacity="0.72" stroke-width="1.3" stroke-linejoin="round"/>
<path d="M86.0,149.3L84.3,151.0L73.5,151.0L71.1,148.6L76.5,134.5L77.9,133.4L87.4,138.2Z" fill="url(#v97)" stroke="#000" stroke-opacity="0.72" stroke-width="1.3" stroke-linejoin="round"/>
<path d="M78.3,124.1L77.9,124.7L77.9,133.4L87.4,138.2L93.6,135.5L95.4,127.4L94.7,125.8L89.8,122.6Z" fill="url(#v91)" stroke="#000" stroke-opacity="0.72" stroke-width="1.3" stroke-linejoin="round"/>
<path d="M101.8,141.3L109.4,133.5L107.7,127.5L95.4,127.4L93.6,135.5Z" fill="url(#v85)" stroke="#000" stroke-opacity="0.72" stroke-width="1.3" stroke-linejoin="round"/>
<path d="M107.7,127.5L109.9,123.6L120.3,124.1L120.6,132.9L115.9,135.9L109.4,133.5Z" fill="url(#v85)" stroke="#000" stroke-opacity="0.72" stroke-width="1.3" stroke-linejoin="round"/>
<path d="M102.5,143.9L110.2,146.9L113.3,156.0L111.8,158.8L104.3,162.2L100.7,159.8L98.3,151.2Z" fill="url(#v115)" stroke="#000" stroke-opacity="0.72" stroke-width="1.3" stroke-linejoin="round"/>
<path d="M87.4,163.7L85.2,167.6L71.6,166.1L73.5,151.0L84.3,151.0Z" fill="url(#v109)" stroke="#000" stroke-opacity="0.72" stroke-width="1.3" stroke-linejoin="round"/>
<path d="M101.8,141.3L93.6,135.5L87.4,138.2L86.0,149.3L98.3,151.2L102.5,143.9Z" fill="url(#v85)" stroke="#000" stroke-opacity="0.72" stroke-width="1.3" stroke-linejoin="round"/>
<path d="M71.1,148.6L73.5,151.0L71.6,166.1L70.0,167.2L58.5,164.9L54.3,154.5L65.1,147.7Z" fill="url(#v79)" stroke="#000" stroke-opacity="0.72" stroke-width="1.3" stroke-linejoin="round"/>
<path d="M58.5,164.9L52.3,173.1L37.4,166.7L37.4,166.7L42.0,156.3L53.2,154.0L54.3,154.5Z" fill="url(#v97)" stroke="#000" stroke-opacity="0.72" stroke-width="1.3" stroke-linejoin="round"/>
<path d="M36.9,150.2L26.9,151.7L22.9,156.9L23.7,160.9L37.4,166.7L42.0,156.3Z" fill="url(#v79)" stroke="#000" stroke-opacity="0.72" stroke-width="1.3" stroke-linejoin="round"/>
<path d="M9.4,166.9L5.8,157.0L8.1,153.8L13.3,152.7L22.9,156.9L23.7,160.9L17.9,169.0Z" fill="url(#v73)" stroke="#000" stroke-opacity="0.72" stroke-width="1.3" stroke-linejoin="round"/>
<path d="M17.9,169.0L23.7,160.9L37.4,166.7L37.4,166.7L34.4,173.9L20.3,176.3Z" fill="url(#v79)" stroke="#000" stroke-opacity="0.72" stroke-width="1.3" stroke-linejoin="round"/>
<path d="M10.1,183.6L19.5,178.7L20.3,176.3L17.9,169.0L9.4,166.9L4.8,171.6L5.6,179.3Z" fill="url(#v73)" stroke="#000" stroke-opacity="0.72" stroke-width="1.3" stroke-linejoin="round"/>
<path d="M70.0,167.2L58.5,164.9L52.3,173.1L52.7,178.9L60.0,184.2L70.0,174.5Z" fill="url(#v79)" stroke="#000" stroke-opacity="0.72" stroke-width="1.3" stroke-linejoin="round"/>
<path d="M71.6,166.1L85.2,167.6L86.4,170.6L84.3,178.3L76.2,181.4L70.0,174.5L70.0,167.2Z" fill="url(#v73)" stroke="#000" stroke-opacity="0.72" stroke-width="1.3" stroke-linejoin="round"/>
<path d="M104.3,162.2L100.7,159.8L87.4,163.7L85.2,167.6L86.4,170.6L100.2,175.7L104.3,171.1Z" fill="url(#v85)" stroke="#000" stroke-opacity="0.72" stroke-width="1.3" stroke-linejoin="round"/>
<path d="M116.1,175.6L104.3,171.1L104.3,162.2L111.8,158.8L118.6,165.2L118.2,173.3Z" fill="url(#v85)" stroke="#000" stroke-opacity="0.72" stroke-width="1.3" stroke-linejoin="round"/>
<path d="M116.3,142.3L122.8,146.2L120.3,153.4L113.3,156.0L110.2,146.9Z" fill="url(#v79)" stroke="#000" stroke-opacity="0.72" stroke-width="1.3" stroke-linejoin="round"/>
<path d="M64.9,122.8L62.2,124.3L64.4,133.6L76.5,134.5L77.9,133.4L77.9,124.7Z" fill="url(#v73)" stroke="#000" stroke-opacity="0.72" stroke-width="1.3" stroke-linejoin="round"/>
<path d="M32.0,137.6L23.9,142.4L26.9,151.7L36.9,150.2L37.8,142.6Z" fill="url(#v79)" stroke="#000" stroke-opacity="0.72" stroke-width="1.3" stroke-linejoin="round"/>
<path d="M4.8,146.2L8.1,153.8L13.3,152.7L17.9,140.1L16.6,138.1L10.0,135.8L8.8,136.0Z" fill="url(#v73)" stroke="#000" stroke-opacity="0.72" stroke-width="1.3" stroke-linejoin="round"/>
<path d="M10.1,183.9L16.1,196.4L13.1,200.2L7.0,200.5L1.5,192.0Z" fill="url(#v119)" stroke="#000" stroke-opacity="0.72" stroke-width="1.3" stroke-linejoin="round"/>
<path d="M95.1,204.7L92.0,206.6L79.3,205.4L76.6,202.4L78.4,193.7L91.4,188.8L92.2,189.0L96.4,196.6Z" fill="url(#v97)" stroke="#000" stroke-opacity="0.72" stroke-width="1.3" stroke-linejoin="round"/>
<path d="M55.1,217.0L47.1,205.7L50.1,199.8L58.5,197.5L65.5,203.5L62.5,215.4Z" fill="url(#v91)" stroke="#000" stroke-opacity="0.72" stroke-width="1.3" stroke-linejoin="round"/>
<path d="M30.6,199.1L35.9,192.8L43.6,192.3L50.1,199.8L47.1,205.7L40.8,208.5Z" fill="url(#v79)" stroke="#000" stroke-opacity="0.72" stroke-width="1.3" stroke-linejoin="round"/>
<path d="M16.1,196.4L21.8,195.0L29.4,199.3L24.7,209.8L16.7,208.7L13.1,200.2Z" fill="url(#v73)" stroke="#000" stroke-opacity="0.72" stroke-width="1.3" stroke-linejoin="round"/>
<path d="M6.6,215.8L12.4,215.1L16.7,208.7L13.1,200.2L7.0,200.5L2.0,205.7Z" fill="url(#v73)" stroke="#000" stroke-opacity="0.72" stroke-width="1.3" stroke-linejoin="round"/>
<path d="M24.7,209.8L16.7,208.7L12.4,215.1L19.2,223.6L25.4,221.3L26.7,212.8Z" fill="url(#v73)" stroke="#000" stroke-opacity="0.72" stroke-width="1.3" stroke-linejoin="round"/>
<path d="M5.6,217.2L5.5,228.6L16.8,228.6L19.2,223.6L12.4,215.1L6.6,215.8Z" fill="url(#v73)" stroke="#000" stroke-opacity="0.72" stroke-width="1.3" stroke-linejoin="round"/>
<path d="M29.4,199.3L21.8,195.0L24.2,185.6L32.1,185.7L35.9,192.8L30.6,199.1Z" fill="url(#v73)" stroke="#000" stroke-opacity="0.72" stroke-width="1.3" stroke-linejoin="round"/>
<path d="M61.4,188.1L58.5,197.5L50.1,199.8L43.6,192.3L45.8,183.5L52.7,178.9L60.0,184.2Z" fill="url(#v79)" stroke="#000" stroke-opacity="0.72" stroke-width="1.3" stroke-linejoin="round"/>
<path d="M61.4,188.1L58.5,197.5L65.5,203.5L76.6,202.4L78.4,193.7L74.6,188.5Z" fill="url(#v79)" stroke="#000" stroke-opacity="0.72" stroke-width="1.3" stroke-linejoin="round"/>
<path d="M110.5,190.9L108.4,193.8L96.4,196.6L92.2,189.0L100.0,180.6L110.1,187.1Z" fill="url(#v79)" stroke="#000" stroke-opacity="0.72" stroke-width="1.3" stroke-linejoin="round"/>
<path d="M110.5,190.9L108.4,193.8L111.7,204.8L122.6,201.9L120.0,193.8Z" fill="url(#v73)" stroke="#000" stroke-opacity="0.72" stroke-width="1.3" stroke-linejoin="round"/>
<path d="M106.5,210.9L95.1,204.7L92.0,206.6L91.0,217.7L96.5,223.0L105.1,217.6Z" fill="url(#v91)" stroke="#000" stroke-opacity="0.72" stroke-width="1.3" stroke-linejoin="round"/>
<path d="M107.9,210.3L106.5,210.9L105.1,217.6L111.0,225.9L117.8,225.9L117.8,225.9L120.3,216.9L120.1,216.4Z" fill="url(#v79)" stroke="#000" stroke-opacity="0.72" stroke-width="1.3" stroke-linejoin="round"/>
<path d="M77.5,216.2L69.1,221.0L69.1,229.1L75.3,232.5L83.5,228.2L83.4,220.6Z" fill="url(#v85)" stroke="#000" stroke-opacity="0.72" stroke-width="1.3" stroke-linejoin="round"/>
<path d="M69.1,221.0L62.5,215.4L55.1,217.0L50.6,224.4L50.8,226.7L53.2,228.8L67.8,230.0L69.1,229.1Z" fill="url(#v79)" stroke="#000" stroke-opacity="0.72" stroke-width="1.3" stroke-linejoin="round"/>
<path d="M34.0,232.0L42.6,233.5L50.8,226.7L50.6,224.4L39.7,218.7L32.6,225.6Z" fill="url(#v85)" stroke="#000" stroke-opacity="0.72" stroke-width="1.3" stroke-linejoin="round"/>
<path d="M34.0,232.0L30.9,235.9L19.6,236.3L16.8,228.6L19.2,223.6L25.4,221.3L32.6,225.6Z" fill="url(#v73)" stroke="#000" stroke-opacity="0.72" stroke-width="1.3" stroke-linejoin="round"/>
<path d="M17.3,240.6L19.6,236.3L16.8,228.6L5.5,228.6L5.1,229.0L5.2,238.5Z" fill="url(#v73)" stroke="#000" stroke-opacity="0.72" stroke-width="1.3" stroke-linejoin="round"/>
<path d="M53.2,228.8L50.8,226.7L42.6,233.5L47.4,248.7L47.6,248.7L55.4,239.2Z" fill="url(#v73)" stroke="#000" stroke-opacity="0.72" stroke-width="1.3" stroke-linejoin="round"/>
<path d="M90.0,236.4L89.0,231.0L96.3,225.6L102.5,232.6L95.7,240.6Z" fill="url(#v79)" stroke="#000" stroke-opacity="0.72" stroke-width="1.3" stroke-linejoin="round"/>
<path d="M117.8,225.9L119.3,236.2L110.9,240.3L105.7,232.7L111.0,225.9Z" fill="url(#v85)" stroke="#000" stroke-opacity="0.72" stroke-width="1.3" stroke-linejoin="round"/>
<path d="M77.5,216.2L79.3,205.4L76.6,202.4L65.5,203.5L62.5,215.4L69.1,221.0Z" fill="url(#v73)" stroke="#000" stroke-opacity="0.72" stroke-width="1.3" stroke-linejoin="round"/>
<path d="M4.8,171.6L9.4,166.9L5.8,157.0L-6.0,158.5L-6.0,169.4Z" fill="url(#v88)" stroke="#000" stroke-opacity="0.72" stroke-width="1.3" stroke-linejoin="round"/>
<path d="M63.4,239.5L55.4,239.2L47.6,248.7L67.8,248.7Z" fill="url(#v98)" stroke="#000" stroke-opacity="0.72" stroke-width="1.3" stroke-linejoin="round"/>
<path d="M50.6,224.4L55.1,217.0L47.1,205.7L40.8,208.5L38.9,211.9L39.7,218.7Z" fill="url(#v70)" stroke="#000" stroke-opacity="0.72" stroke-width="1.3" stroke-linejoin="round"/>
<path d="M69.1,229.1L67.8,230.0L63.4,239.5L67.8,248.7L70.6,248.7L76.8,237.6L75.3,232.5Z" fill="url(#v78)" stroke="#000" stroke-opacity="0.72" stroke-width="1.3" stroke-linejoin="round"/>
<path d="M32.6,225.6L25.4,221.3L26.7,212.8L38.9,211.9L39.7,218.7Z" fill="url(#v81)" stroke="#000" stroke-opacity="0.72" stroke-width="1.3" stroke-linejoin="round"/>
<path d="M5.6,217.2L-6.0,218.1L-6.0,205.8L2.0,205.7L6.6,215.8Z" fill="url(#v89)" stroke="#000" stroke-opacity="0.72" stroke-width="1.3" stroke-linejoin="round"/>
<path d="M45.8,183.5L52.7,178.9L52.3,173.1L37.4,166.7L34.4,173.9L35.9,178.6Z" fill="url(#v87)" stroke="#000" stroke-opacity="0.72" stroke-width="1.3" stroke-linejoin="round"/>
<path d="M98.3,151.2L100.7,159.8L87.4,163.7L84.3,151.0L86.0,149.3Z" fill="url(#v80)" stroke="#000" stroke-opacity="0.72" stroke-width="1.3" stroke-linejoin="round"/>
<path d="M109.9,123.6L106.5,112.0L118.7,112.0L120.9,123.5L120.3,124.1Z" fill="url(#v85)" stroke="#000" stroke-opacity="0.72" stroke-width="1.3" stroke-linejoin="round"/>
<path d="M107.7,127.5L109.9,123.6L106.5,112.0L103.6,112.0L94.7,125.8L95.4,127.4Z" fill="url(#v75)" stroke="#000" stroke-opacity="0.72" stroke-width="1.3" stroke-linejoin="round"/>
<path d="M11.9,122.2L5.0,121.1L2.1,127.1L6.3,134.9L8.8,136.0L10.0,135.8L13.2,124.1Z" fill="url(#v61)" stroke="#000" stroke-opacity="0.72" stroke-width="1.3" stroke-linejoin="round"/>
<path d="M100.2,175.7L86.4,170.6L84.3,178.3L91.4,188.8L92.2,189.0L100.0,180.6Z" fill="url(#v80)" stroke="#000" stroke-opacity="0.72" stroke-width="1.3" stroke-linejoin="round"/>
<path d="M70.0,174.5L60.0,184.2L61.4,188.1L74.6,188.5L76.2,181.4Z" fill="url(#v65)" stroke="#000" stroke-opacity="0.72" stroke-width="1.3" stroke-linejoin="round"/>
<path d="M110.5,190.9L120.0,193.8L126.0,185.9L116.5,179.8L110.1,187.1Z" fill="url(#v72)" stroke="#000" stroke-opacity="0.72" stroke-width="1.3" stroke-linejoin="round"/>
<path d="M131.0,203.6L131.0,218.5L120.3,216.9L120.1,216.4L125.6,203.6Z" fill="url(#v100)" stroke="#000" stroke-opacity="0.72" stroke-width="1.3" stroke-linejoin="round"/>
<path d="M-6.0,144.4L-6.0,158.5L5.8,157.0L8.1,153.8L4.8,146.2Z" fill="url(#v114)" stroke="#000" stroke-opacity="0.72" stroke-width="1.3" stroke-linejoin="round"/>
<path d="M117.8,225.9L131.0,227.6L131.0,218.5L120.3,216.9Z" fill="url(#v68)" stroke="#000" stroke-opacity="0.72" stroke-width="1.3" stroke-linejoin="round"/>
<path d="M120.3,124.1L120.9,123.5L131.0,121.9L131.0,137.0L120.6,132.9Z" fill="url(#v98)" stroke="#000" stroke-opacity="0.72" stroke-width="1.3" stroke-linejoin="round"/>
<path d="M10.1,183.9L10.1,183.6L5.6,179.3L-6.0,182.0L-6.0,190.8L1.5,192.0Z" fill="url(#v83)" stroke="#000" stroke-opacity="0.72" stroke-width="1.3" stroke-linejoin="round"/>
<path d="M131.0,172.9L118.2,173.3L118.6,165.2L130.8,160.8L131.0,160.8Z" fill="url(#v71)" stroke="#000" stroke-opacity="0.72" stroke-width="1.3" stroke-linejoin="round"/>
<path d="M17.3,240.6L18.0,248.7L33.6,248.7L30.9,235.9L19.6,236.3Z" fill="url(#v83)" stroke="#000" stroke-opacity="0.72" stroke-width="1.3" stroke-linejoin="round"/>
<path d="M10.1,183.9L10.1,183.6L19.5,178.7L24.2,185.6L21.8,195.0L16.1,196.4Z" fill="url(#v95)" stroke="#000" stroke-opacity="0.72" stroke-width="1.3" stroke-linejoin="round"/>
<path d="M2.1,127.1L6.3,134.9L-6.0,137.8L-6.0,127.3Z" fill="url(#v74)" stroke="#000" stroke-opacity="0.72" stroke-width="1.3" stroke-linejoin="round"/>
<path d="M13.2,124.1L10.0,135.8L16.6,138.1L24.6,127.2L24.5,126.7L23.2,125.4Z" fill="url(#v115)" stroke="#000" stroke-opacity="0.72" stroke-width="1.3" stroke-linejoin="round"/>
<path d="M40.4,124.9L40.5,127.4L31.9,133.4L24.6,127.2L24.5,126.7L32.4,120.7Z" fill="url(#v81)" stroke="#000" stroke-opacity="0.72" stroke-width="1.3" stroke-linejoin="round"/>
<path d="M110.1,187.1L100.0,180.6L100.2,175.7L104.3,171.1L116.1,175.6L116.5,179.8Z" fill="url(#v76)" stroke="#000" stroke-opacity="0.72" stroke-width="1.3" stroke-linejoin="round"/>
<path d="M116.5,179.8L116.1,175.6L118.2,173.3L131.0,172.9L131.0,185.2L126.0,185.9Z" fill="url(#v87)" stroke="#000" stroke-opacity="0.72" stroke-width="1.3" stroke-linejoin="round"/>
<path d="M115.9,135.9L116.3,142.3L122.8,146.2L131.0,143.1L131.0,137.0L120.6,132.9Z" fill="url(#v86)" stroke="#000" stroke-opacity="0.72" stroke-width="1.3" stroke-linejoin="round"/>
<path d="M120.9,123.5L118.7,112.0L131.0,112.0L131.0,121.9Z" fill="url(#v68)" stroke="#000" stroke-opacity="0.72" stroke-width="1.3" stroke-linejoin="round"/>
<path d="M11.9,122.2L5.0,121.1L-0.3,112.0L16.2,112.0Z" fill="url(#v70)" stroke="#000" stroke-opacity="0.72" stroke-width="1.3" stroke-linejoin="round"/>
<path d="M122.6,201.9L125.6,203.6L120.1,216.4L107.9,210.3L111.7,204.8Z" fill="url(#v85)" stroke="#000" stroke-opacity="0.72" stroke-width="1.3" stroke-linejoin="round"/>
<path d="M19.5,178.7L24.2,185.6L32.1,185.7L35.9,178.6L34.4,173.9L20.3,176.3Z" fill="url(#v85)" stroke="#000" stroke-opacity="0.72" stroke-width="1.3" stroke-linejoin="round"/>
<path d="M108.4,193.8L96.4,196.6L95.1,204.7L106.5,210.9L107.9,210.3L111.7,204.8Z" fill="url(#v94)" stroke="#000" stroke-opacity="0.72" stroke-width="1.3" stroke-linejoin="round"/>
<path d="M-0.3,112.0L5.0,121.1L2.1,127.1L-6.0,127.3L-6.0,112.0Z" fill="url(#v54)" stroke="#000" stroke-opacity="0.72" stroke-width="1.3" stroke-linejoin="round"/>
<path d="M29.4,199.3L24.7,209.8L26.7,212.8L38.9,211.9L40.8,208.5L30.6,199.1Z" fill="url(#v92)" stroke="#000" stroke-opacity="0.72" stroke-width="1.3" stroke-linejoin="round"/>
<path d="M76.8,237.6L83.2,240.7L84.7,248.7L70.6,248.7Z" fill="url(#v90)" stroke="#000" stroke-opacity="0.72" stroke-width="1.3" stroke-linejoin="round"/>
<path d="M4.3,239.5L-6.0,239.7L-6.0,228.2L5.1,229.0L5.2,238.5Z" fill="url(#v56)" stroke="#000" stroke-opacity="0.72" stroke-width="1.3" stroke-linejoin="round"/>
<path d="M77.6,112.0L89.8,112.0L89.8,122.6L78.3,124.1Z" fill="url(#v22)" stroke="#000" stroke-opacity="0.72" stroke-width="1.3" stroke-linejoin="round"/>
<path d="M64.9,122.8L67.2,112.0L48.9,112.0L49.0,112.5L56.4,123.1L62.2,124.3Z" fill="url(#v83)" stroke="#000" stroke-opacity="0.72" stroke-width="1.3" stroke-linejoin="round"/>
<path d="M121.1,237.2L123.9,248.7L108.9,248.7L110.9,240.3L119.3,236.2Z" fill="url(#v80)" stroke="#000" stroke-opacity="0.72" stroke-width="1.3" stroke-linejoin="round"/>
<path d="M34.0,232.0L30.9,235.9L33.6,248.7L47.4,248.7L42.6,233.5Z" fill="url(#v103)" stroke="#000" stroke-opacity="0.72" stroke-width="1.3" stroke-linejoin="round"/>
<path d="M32.4,120.7L24.5,126.7L23.2,125.4L21.6,112.0L31.7,112.0Z" fill="url(#v83)" stroke="#000" stroke-opacity="0.72" stroke-width="1.3" stroke-linejoin="round"/>
<path d="M64.4,133.6L61.4,137.9L65.1,147.7L71.1,148.6L76.5,134.5Z" fill="url(#v68)" stroke="#000" stroke-opacity="0.72" stroke-width="1.3" stroke-linejoin="round"/>
<path d="M40.5,127.4L31.9,133.4L32.0,137.6L37.8,142.6L48.5,137.6L49.1,136.3L49.0,135.5Z" fill="url(#v71)" stroke="#000" stroke-opacity="0.72" stroke-width="1.3" stroke-linejoin="round"/>
<path d="M118.6,165.2L130.8,160.8L120.3,153.4L113.3,156.0L111.8,158.8Z" fill="url(#v94)" stroke="#000" stroke-opacity="0.72" stroke-width="1.3" stroke-linejoin="round"/>
<path d="M67.8,230.0L53.2,228.8L55.4,239.2L63.4,239.5Z" fill="url(#v68)" stroke="#000" stroke-opacity="0.72" stroke-width="1.3" stroke-linejoin="round"/>
<path d="M84.7,248.7L83.2,240.7L90.0,236.4L95.7,240.6L97.4,248.7Z" fill="url(#v90)" stroke="#000" stroke-opacity="0.72" stroke-width="1.3" stroke-linejoin="round"/>
<path d="M5.6,179.3L-6.0,182.0L-6.0,169.4L4.8,171.6Z" fill="url(#v39)" stroke="#000" stroke-opacity="0.72" stroke-width="1.3" stroke-linejoin="round"/>
<path d="M5.6,217.2L5.5,228.6L5.1,229.0L-6.0,228.2L-6.0,218.1Z" fill="url(#v52)" stroke="#000" stroke-opacity="0.72" stroke-width="1.3" stroke-linejoin="round"/>
<path d="M78.3,124.1L77.9,124.7L64.9,122.8L67.2,112.0L77.6,112.0Z" fill="url(#v89)" stroke="#000" stroke-opacity="0.72" stroke-width="1.3" stroke-linejoin="round"/>
<path d="M131.0,248.7L131.0,234.8L121.1,237.2L123.9,248.7Z" fill="url(#v67)" stroke="#000" stroke-opacity="0.72" stroke-width="1.3" stroke-linejoin="round"/>
<path d="M4.5,248.7L-6.0,248.7L-6.0,239.7L4.3,239.5Z" fill="url(#v85)" stroke="#000" stroke-opacity="0.72" stroke-width="1.3" stroke-linejoin="round"/>
<path d="M105.7,232.7L102.5,232.6L95.7,240.6L97.4,248.7L108.9,248.7L110.9,240.3Z" fill="url(#v94)" stroke="#000" stroke-opacity="0.72" stroke-width="1.3" stroke-linejoin="round"/>
<path d="M120.0,193.8L122.6,201.9L125.6,203.6L131.0,203.6L131.0,185.2L126.0,185.9Z" fill="url(#v64)" stroke="#000" stroke-opacity="0.72" stroke-width="1.3" stroke-linejoin="round"/>
<path d="M26.9,151.7L22.9,156.9L13.3,152.7L17.9,140.1L23.9,142.4Z" fill="url(#v78)" stroke="#000" stroke-opacity="0.72" stroke-width="1.3" stroke-linejoin="round"/>
<path d="M62.2,124.3L56.4,123.1L49.0,135.5L49.1,136.3L61.4,137.9L64.4,133.6Z" fill="url(#v99)" stroke="#000" stroke-opacity="0.72" stroke-width="1.3" stroke-linejoin="round"/>
<path d="M101.8,141.3L109.4,133.5L115.9,135.9L116.3,142.3L110.2,146.9L102.5,143.9Z" fill="url(#v69)" stroke="#000" stroke-opacity="0.72" stroke-width="1.3" stroke-linejoin="round"/>
<path d="M131.0,160.8L131.0,143.1L122.8,146.2L120.3,153.4L130.8,160.8Z" fill="url(#v95)" stroke="#000" stroke-opacity="0.72" stroke-width="1.3" stroke-linejoin="round"/>
<path d="M83.4,220.6L91.0,217.7L96.5,223.0L96.3,225.6L89.0,231.0L83.5,228.2Z" fill="url(#v75)" stroke="#000" stroke-opacity="0.72" stroke-width="1.3" stroke-linejoin="round"/>
<path d="M4.3,239.5L5.2,238.5L17.3,240.6L18.0,248.7L4.5,248.7Z" fill="url(#v55)" stroke="#000" stroke-opacity="0.72" stroke-width="1.3" stroke-linejoin="round"/>
<path d="M2.0,205.7L7.0,200.5L1.5,192.0L-6.0,190.8L-6.0,205.8Z" fill="url(#v80)" stroke="#000" stroke-opacity="0.72" stroke-width="1.3" stroke-linejoin="round"/>
<path d="M35.9,192.8L32.1,185.7L35.9,178.6L45.8,183.5L43.6,192.3Z" fill="url(#v54)" stroke="#000" stroke-opacity="0.72" stroke-width="1.3" stroke-linejoin="round"/>
<path d="M121.1,237.2L119.3,236.2L117.8,225.9L117.8,225.9L131.0,227.6L131.0,234.8Z" fill="url(#v94)" stroke="#000" stroke-opacity="0.72" stroke-width="1.3" stroke-linejoin="round"/>
<path d="M83.5,228.2L89.0,231.0L90.0,236.4L83.2,240.7L76.8,237.6L75.3,232.5Z" fill="url(#v86)" stroke="#000" stroke-opacity="0.72" stroke-width="1.3" stroke-linejoin="round"/>
<path d="M31.9,133.4L24.6,127.2L16.6,138.1L17.9,140.1L23.9,142.4L32.0,137.6Z" fill="url(#v95)" stroke="#000" stroke-opacity="0.72" stroke-width="1.3" stroke-linejoin="round"/>
<path d="M77.5,216.2L79.3,205.4L92.0,206.6L91.0,217.7L83.4,220.6Z" fill="url(#v75)" stroke="#000" stroke-opacity="0.72" stroke-width="1.3" stroke-linejoin="round"/>
<path d="M76.2,181.4L74.6,188.5L78.4,193.7L91.4,188.8L84.3,178.3Z" fill="url(#v87)" stroke="#000" stroke-opacity="0.72" stroke-width="1.3" stroke-linejoin="round"/>
<path d="M32.4,120.7L40.4,124.9L49.0,112.5L48.9,112.0L31.7,112.0Z" fill="url(#v88)" stroke="#000" stroke-opacity="0.72" stroke-width="1.3" stroke-linejoin="round"/>
<path d="M111.0,225.9L105.7,232.7L102.5,232.6L96.3,225.6L96.5,223.0L105.1,217.6Z" fill="url(#v60)" stroke="#000" stroke-opacity="0.72" stroke-width="1.3" stroke-linejoin="round"/>
<path d="M89.8,122.6L94.7,125.8L103.6,112.0L89.8,112.0Z" fill="url(#v92)" stroke="#000" stroke-opacity="0.72" stroke-width="1.3" stroke-linejoin="round"/>
<path d="M-6.0,137.8L6.3,134.9L8.8,136.0L4.8,146.2L-6.0,144.4Z" fill="url(#v69)" stroke="#000" stroke-opacity="0.72" stroke-width="1.3" stroke-linejoin="round"/>
<path d="M21.6,112.0L16.2,112.0L11.9,122.2L13.2,124.1L23.2,125.4Z" fill="url(#v82)" stroke="#000" stroke-opacity="0.72" stroke-width="1.3" stroke-linejoin="round"/>
<ellipse cx="62.1" cy="132.6" rx="6.9" ry="6.9" fill="url(#gk)" opacity="0.5"/>
<ellipse cx="21.6" cy="153.7" rx="6.9" ry="6.9" fill="url(#gk)" opacity="0.45"/>
<ellipse cx="69.1" cy="150.1" rx="6.9" ry="6.9" fill="url(#gk)" opacity="0.45"/>
<ellipse cx="81.4" cy="211.9" rx="6.9" ry="6.9" fill="url(#gk)" opacity="0.55"/>
<ellipse cx="30.4" cy="211.9" rx="6.9" ry="6.9" fill="url(#gk)" opacity="0.45"/>
<ellipse cx="18.1" cy="236.5" rx="6.9" ry="6.9" fill="url(#gk)" opacity="0.45"/>
</g></g>
<clipPath id="cpb1"><rect x="166.6" y="5.0" width="117.0" height="117.0"/></clipPath>
<g clip-path="url(#cpb1)">
<filter id="blb1" x="-5%" y="-5%" width="110%" height="110%"><feGaussianBlur stdDeviation="2.2"/></filter>
<g filter="url(#blb1)" style="isolation:isolate">
<rect x="162.6" y="1.0" width="125.0" height="125.0" fill="rgb(47,47,47)"/>
<path d="M177.2,-5.0L166.7,13.8L177.6,19.3L180.6,18.4L185.1,-4.0L185.1,-5.0Z" fill="url(#v105)" stroke="#000" stroke-opacity="0.72" stroke-width="1.3" stroke-linejoin="round"/>
<path d="M199.9,4.4L193.1,-5.0L185.1,-5.0L185.1,-4.0L193.9,18.1Z" fill="url(#v101)" stroke="#000" stroke-opacity="0.72" stroke-width="1.3" stroke-linejoin="round"/>
<path d="M229.9,13.7L226.3,11.6L226.7,-5.0L245.8,-5.0L245.8,6.5Z" fill="url(#v101)" stroke="#000" stroke-opacity="0.72" stroke-width="1.3" stroke-linejoin="round"/>
<path d="M247.9,15.4L258.6,15.4L262.7,-5.0L245.8,-5.0L245.8,6.5Z" fill="url(#v101)" stroke="#000" stroke-opacity="0.72" stroke-width="1.3" stroke-linejoin="round"/>
<path d="M272.3,16.3L270.8,16.3L264.4,-5.0L274.9,-5.0L279.1,3.8Z" fill="url(#v101)" stroke="#000" stroke-opacity="0.72" stroke-width="1.3" stroke-linejoin="round"/>
<path d="M169.7,49.3L175.7,48.7L183.4,40.9L183.4,40.4L174.8,31.7L156.6,36.2L156.6,38.3Z" fill="url(#v98)" stroke="#000" stroke-opacity="0.72" stroke-width="1.3" stroke-linejoin="round"/>
<path d="M226.3,11.6L221.6,15.4L210.5,15.2L207.9,6.8L217.7,-5.0L226.7,-5.0Z" fill="url(#v107)" stroke="#000" stroke-opacity="0.72" stroke-width="1.3" stroke-linejoin="round"/>
<path d="M193.9,18.1L190.8,20.8L180.6,18.4L185.1,-4.0L193.9,18.1Z" fill="url(#v65)" stroke="#000" stroke-opacity="0.72" stroke-width="1.3" stroke-linejoin="round"/>
<path d="M207.9,6.8L210.5,15.2L207.4,19.1L193.9,18.1L193.9,18.1L199.9,4.4Z" fill="url(#v65)" stroke="#000" stroke-opacity="0.72" stroke-width="1.3" stroke-linejoin="round"/>
<path d="M229.9,13.7L245.8,6.5L247.9,15.4L244.0,21.3L238.0,21.9Z" fill="url(#v65)" stroke="#000" stroke-opacity="0.72" stroke-width="1.3" stroke-linejoin="round"/>
<path d="M257.9,30.5L263.1,25.9L263.7,19.8L258.6,15.4L247.9,15.4L244.0,21.3L248.9,29.2Z" fill="url(#v65)" stroke="#000" stroke-opacity="0.72" stroke-width="1.3" stroke-linejoin="round"/>
<path d="M282.0,21.8L277.3,31.4L273.3,32.8L263.1,25.9L263.7,19.8L270.8,16.3L272.3,16.3Z" fill="url(#v77)" stroke="#000" stroke-opacity="0.72" stroke-width="1.3" stroke-linejoin="round"/>
<path d="M282.0,21.8L293.6,17.6L293.6,13.9L279.1,3.8L272.3,16.3Z" fill="url(#v71)" stroke="#000" stroke-opacity="0.72" stroke-width="1.3" stroke-linejoin="round"/>
<path d="M263.7,19.8L258.6,15.4L262.7,-5.0L264.4,-5.0L270.8,16.3Z" fill="url(#v65)" stroke="#000" stroke-opacity="0.72" stroke-width="1.3" stroke-linejoin="round"/>
<path d="M243.6,40.4L235.8,38.7L232.3,29.9L238.0,21.9L244.0,21.3L248.9,29.2Z" fill="url(#v59)" stroke="#000" stroke-opacity="0.72" stroke-width="1.3" stroke-linejoin="round"/>
<path d="M260.0,42.9L257.9,30.5L263.1,25.9L273.3,32.8L268.2,44.7L264.7,46.0Z" fill="url(#v71)" stroke="#000" stroke-opacity="0.72" stroke-width="1.3" stroke-linejoin="round"/>
<path d="M268.2,44.7L277.9,48.4L287.0,40.6L277.3,31.4L273.3,32.8Z" fill="url(#v71)" stroke="#000" stroke-opacity="0.72" stroke-width="1.3" stroke-linejoin="round"/>
<path d="M208.7,27.1L219.4,31.6L218.5,40.9L210.0,45.6L204.0,42.6L202.0,33.8Z" fill="url(#v59)" stroke="#000" stroke-opacity="0.72" stroke-width="1.3" stroke-linejoin="round"/>
<path d="M183.4,40.9L193.0,48.1L204.0,42.6L202.0,33.8L192.6,29.4L183.4,40.4Z" fill="url(#v59)" stroke="#000" stroke-opacity="0.72" stroke-width="1.3" stroke-linejoin="round"/>
<path d="M183.4,40.9L193.0,48.1L193.0,61.1L182.8,63.0L175.7,48.7Z" fill="url(#v65)" stroke="#000" stroke-opacity="0.72" stroke-width="1.3" stroke-linejoin="round"/>
<path d="M210.0,45.6L211.3,59.0L210.5,60.5L199.1,65.5L193.0,61.1L193.0,48.1L204.0,42.6Z" fill="url(#v65)" stroke="#000" stroke-opacity="0.72" stroke-width="1.3" stroke-linejoin="round"/>
<path d="M227.6,46.1L218.5,40.9L210.0,45.6L211.3,59.0L229.5,55.6Z" fill="url(#v59)" stroke="#000" stroke-opacity="0.72" stroke-width="1.3" stroke-linejoin="round"/>
<path d="M246.6,45.0L243.8,58.9L233.1,58.9L229.5,55.6L227.6,46.1L235.8,38.7L243.6,40.4Z" fill="url(#v71)" stroke="#000" stroke-opacity="0.72" stroke-width="1.3" stroke-linejoin="round"/>
<path d="M260.0,42.9L246.6,45.0L243.8,58.9L262.1,58.9L264.7,46.0Z" fill="url(#v71)" stroke="#000" stroke-opacity="0.72" stroke-width="1.3" stroke-linejoin="round"/>
<path d="M264.7,46.0L268.2,44.7L277.9,48.4L280.6,57.3L278.1,61.5L266.2,64.1L265.7,63.9L262.1,58.9Z" fill="url(#v71)" stroke="#000" stroke-opacity="0.72" stroke-width="1.3" stroke-linejoin="round"/>
<path d="M164.0,64.2L178.3,67.3L182.8,63.0L175.7,48.7L169.7,49.3Z" fill="url(#v59)" stroke="#000" stroke-opacity="0.72" stroke-width="1.3" stroke-linejoin="round"/>
<path d="M229.9,13.7L226.3,11.6L221.6,15.4L222.1,29.3L232.3,29.9L238.0,21.9Z" fill="url(#v47)" stroke="#000" stroke-opacity="0.72" stroke-width="1.3" stroke-linejoin="round"/>
<path d="M156.6,78.8L174.1,84.5L179.9,82.5L178.3,67.3L164.0,64.2L156.6,67.4Z" fill="url(#v107)" stroke="#000" stroke-opacity="0.72" stroke-width="1.3" stroke-linejoin="round"/>
<path d="M218.1,100.0L202.7,110.1L202.5,112.1L215.7,124.1L228.2,112.8L228.2,111.8Z" fill="url(#v101)" stroke="#000" stroke-opacity="0.72" stroke-width="1.3" stroke-linejoin="round"/>
<path d="M275.5,82.2L273.5,81.5L261.1,85.0L257.8,90.1L262.8,102.5L267.7,104.4L277.5,100.4L281.1,95.4Z" fill="url(#v89)" stroke="#000" stroke-opacity="0.72" stroke-width="1.3" stroke-linejoin="round"/>
<path d="M262.1,58.9L265.7,63.9L256.3,74.7L246.6,72.7L243.8,58.9Z" fill="url(#v71)" stroke="#000" stroke-opacity="0.72" stroke-width="1.3" stroke-linejoin="round"/>
<path d="M230.5,81.7L225.3,76.5L233.1,58.9L243.8,58.9L246.6,72.7L241.6,79.7Z" fill="url(#v59)" stroke="#000" stroke-opacity="0.72" stroke-width="1.3" stroke-linejoin="round"/>
<path d="M208.8,83.6L222.3,76.2L210.5,60.5L199.1,65.5L199.1,76.1Z" fill="url(#v53)" stroke="#000" stroke-opacity="0.72" stroke-width="1.3" stroke-linejoin="round"/>
<path d="M199.1,76.1L199.1,65.5L193.0,61.1L182.8,63.0L178.3,67.3L179.9,82.5L185.6,85.2Z" fill="url(#v59)" stroke="#000" stroke-opacity="0.72" stroke-width="1.3" stroke-linejoin="round"/>
<path d="M189.4,96.8L185.6,85.2L199.1,76.1L208.8,83.6L208.8,87.2L195.6,99.4Z" fill="url(#v59)" stroke="#000" stroke-opacity="0.72" stroke-width="1.3" stroke-linejoin="round"/>
<path d="M171.1,103.1L180.2,104.9L189.4,96.8L185.6,85.2L179.9,82.5L174.1,84.5L169.0,98.2Z" fill="url(#v65)" stroke="#000" stroke-opacity="0.72" stroke-width="1.3" stroke-linejoin="round"/>
<path d="M230.5,81.7L225.3,76.5L222.3,76.2L208.8,83.6L208.8,87.2L218.1,99.2L229.9,88.9Z" fill="url(#v59)" stroke="#000" stroke-opacity="0.72" stroke-width="1.3" stroke-linejoin="round"/>
<path d="M230.5,81.7L241.6,79.7L249.5,89.8L240.6,100.4L239.8,100.4L229.9,88.9Z" fill="url(#v65)" stroke="#000" stroke-opacity="0.72" stroke-width="1.3" stroke-linejoin="round"/>
<path d="M197.8,115.9L202.5,112.1L202.7,110.1L195.6,99.4L189.4,96.8L180.2,104.9L182.5,115.3Z" fill="url(#v59)" stroke="#000" stroke-opacity="0.72" stroke-width="1.3" stroke-linejoin="round"/>
<path d="M171.2,120.2L163.7,111.7L171.1,103.1L180.2,104.9L182.5,115.3L180.8,118.2Z" fill="url(#v59)" stroke="#000" stroke-opacity="0.72" stroke-width="1.3" stroke-linejoin="round"/>
<path d="M239.8,100.4L228.2,111.8L228.2,112.8L237.1,120.2L249.3,117.5L250.8,109.2L240.6,100.4Z" fill="url(#v65)" stroke="#000" stroke-opacity="0.72" stroke-width="1.3" stroke-linejoin="round"/>
<path d="M262.8,102.5L250.8,109.2L249.3,117.5L257.1,127.2L269.0,117.5L267.7,104.4Z" fill="url(#v65)" stroke="#000" stroke-opacity="0.72" stroke-width="1.3" stroke-linejoin="round"/>
<path d="M267.7,104.4L269.0,117.5L275.2,120.7L286.7,116.1L277.5,100.4Z" fill="url(#v59)" stroke="#000" stroke-opacity="0.72" stroke-width="1.3" stroke-linejoin="round"/>
<path d="M285.6,73.6L278.1,61.5L266.2,64.1L273.5,81.5L275.5,82.2Z" fill="url(#v65)" stroke="#000" stroke-opacity="0.72" stroke-width="1.3" stroke-linejoin="round"/>
<path d="M249.5,89.8L257.8,90.1L262.8,102.5L250.8,109.2L240.6,100.4Z" fill="url(#v59)" stroke="#000" stroke-opacity="0.72" stroke-width="1.3" stroke-linejoin="round"/>
<path d="M156.6,36.2L156.6,14.8L166.7,13.8L177.6,19.3L174.8,31.7Z" fill="url(#v83)" stroke="#000" stroke-opacity="0.72" stroke-width="1.3" stroke-linejoin="round"/>
<path d="M257.1,132.0L257.1,127.2L249.3,117.5L237.1,120.2L235.7,132.0Z" fill="url(#v78)" stroke="#000" stroke-opacity="0.72" stroke-width="1.3" stroke-linejoin="round"/>
<path d="M183.4,40.4L192.6,29.4L190.8,20.8L180.6,18.4L177.6,19.3L174.8,31.7Z" fill="url(#v15)" stroke="#000" stroke-opacity="0.72" stroke-width="1.3" stroke-linejoin="round"/>
<path d="M156.6,67.4L156.6,38.3L169.7,49.3L164.0,64.2Z" fill="url(#v85)" stroke="#000" stroke-opacity="0.72" stroke-width="1.3" stroke-linejoin="round"/>
<path d="M269.0,117.5L275.2,120.7L277.3,132.0L257.1,132.0L257.1,127.2Z" fill="url(#v57)" stroke="#000" stroke-opacity="0.72" stroke-width="1.3" stroke-linejoin="round"/>
<path d="M171.2,120.2L163.7,111.7L156.6,112.6L156.6,132.0L167.2,132.0Z" fill="url(#v43)" stroke="#000" stroke-opacity="0.72" stroke-width="1.3" stroke-linejoin="round"/>
<path d="M228.2,112.8L237.1,120.2L235.7,132.0L215.7,132.0L215.7,124.1Z" fill="url(#v66)" stroke="#000" stroke-opacity="0.72" stroke-width="1.3" stroke-linejoin="round"/>
<path d="M229.9,88.9L218.1,99.2L218.1,100.0L228.2,111.8L239.8,100.4Z" fill="url(#v74)" stroke="#000" stroke-opacity="0.72" stroke-width="1.3" stroke-linejoin="round"/>
<path d="M287.0,40.6L277.9,48.4L280.6,57.3L293.6,56.0L293.6,40.6Z" fill="url(#v35)" stroke="#000" stroke-opacity="0.72" stroke-width="1.3" stroke-linejoin="round"/>
<path d="M293.6,73.7L293.6,94.8L281.1,95.4L275.5,82.2L285.6,73.6Z" fill="url(#v40)" stroke="#000" stroke-opacity="0.72" stroke-width="1.3" stroke-linejoin="round"/>
<path d="M169.0,98.2L171.1,103.1L163.7,111.7L156.6,112.6L156.6,94.3Z" fill="url(#v70)" stroke="#000" stroke-opacity="0.72" stroke-width="1.3" stroke-linejoin="round"/>
<path d="M180.8,118.2L182.5,115.3L197.8,115.9L193.6,132.0L185.3,132.0Z" fill="url(#v50)" stroke="#000" stroke-opacity="0.72" stroke-width="1.3" stroke-linejoin="round"/>
<path d="M281.1,95.4L293.6,94.8L293.6,118.3L286.7,116.1L277.5,100.4Z" fill="url(#v82)" stroke="#000" stroke-opacity="0.72" stroke-width="1.3" stroke-linejoin="round"/>
<path d="M241.6,79.7L246.6,72.7L256.3,74.7L261.1,85.0L257.8,90.1L249.5,89.8Z" fill="url(#v62)" stroke="#000" stroke-opacity="0.72" stroke-width="1.3" stroke-linejoin="round"/>
<path d="M233.1,58.9L229.5,55.6L211.3,59.0L210.5,60.5L222.3,76.2L225.3,76.5Z" fill="url(#v50)" stroke="#000" stroke-opacity="0.72" stroke-width="1.3" stroke-linejoin="round"/>
<path d="M177.2,-5.0L166.7,13.8L156.6,14.8L156.6,-5.0Z" fill="url(#v38)" stroke="#000" stroke-opacity="0.72" stroke-width="1.3" stroke-linejoin="round"/>
<path d="M156.6,94.3L169.0,98.2L174.1,84.5L156.6,78.8Z" fill="url(#v68)" stroke="#000" stroke-opacity="0.72" stroke-width="1.3" stroke-linejoin="round"/>
<path d="M282.0,21.8L277.3,31.4L287.0,40.6L293.6,40.6L293.6,17.6Z" fill="url(#v32)" stroke="#000" stroke-opacity="0.72" stroke-width="1.3" stroke-linejoin="round"/>
<path d="M197.8,115.9L193.6,132.0L215.7,132.0L215.7,124.1L202.5,112.1Z" fill="url(#v39)" stroke="#000" stroke-opacity="0.72" stroke-width="1.3" stroke-linejoin="round"/>
<path d="M193.9,18.1L190.8,20.8L192.6,29.4L202.0,33.8L208.7,27.1L207.4,19.1Z" fill="url(#v39)" stroke="#000" stroke-opacity="0.72" stroke-width="1.3" stroke-linejoin="round"/>
<path d="M286.7,116.1L275.2,120.7L277.3,132.0L293.6,132.0L293.6,118.3Z" fill="url(#v85)" stroke="#000" stroke-opacity="0.72" stroke-width="1.3" stroke-linejoin="round"/>
<path d="M218.1,100.0L202.7,110.1L195.6,99.4L208.8,87.2L218.1,99.2Z" fill="url(#v85)" stroke="#000" stroke-opacity="0.72" stroke-width="1.3" stroke-linejoin="round"/>
<path d="M171.2,120.2L180.8,118.2L185.3,132.0L167.2,132.0Z" fill="url(#v56)" stroke="#000" stroke-opacity="0.72" stroke-width="1.3" stroke-linejoin="round"/>
<path d="M222.1,29.3L219.4,31.6L208.7,27.1L207.4,19.1L210.5,15.2L221.6,15.4Z" fill="url(#v53)" stroke="#000" stroke-opacity="0.72" stroke-width="1.3" stroke-linejoin="round"/>
<path d="M279.1,3.8L293.6,13.9L293.6,-5.0L274.9,-5.0Z" fill="url(#v70)" stroke="#000" stroke-opacity="0.72" stroke-width="1.3" stroke-linejoin="round"/>
<path d="M207.9,6.8L217.7,-5.0L193.1,-5.0L199.9,4.4Z" fill="url(#v78)" stroke="#000" stroke-opacity="0.72" stroke-width="1.3" stroke-linejoin="round"/>
<path d="M285.6,73.6L293.6,73.7L293.6,56.0L280.6,57.3L278.1,61.5Z" fill="url(#v46)" stroke="#000" stroke-opacity="0.72" stroke-width="1.3" stroke-linejoin="round"/>
<path d="M260.0,42.9L257.9,30.5L248.9,29.2L243.6,40.4L246.6,45.0Z" fill="url(#v93)" stroke="#000" stroke-opacity="0.72" stroke-width="1.3" stroke-linejoin="round"/>
<path d="M261.1,85.0L256.3,74.7L265.7,63.9L266.2,64.1L273.5,81.5Z" fill="url(#v56)" stroke="#000" stroke-opacity="0.72" stroke-width="1.3" stroke-linejoin="round"/>
<path d="M227.6,46.1L218.5,40.9L219.4,31.6L222.1,29.3L232.3,29.9L235.8,38.7Z" fill="url(#v77)" stroke="#000" stroke-opacity="0.72" stroke-width="1.3" stroke-linejoin="round"/>
<ellipse cx="184.2" cy="81.1" rx="8.0" ry="8.0" fill="url(#gk)" opacity="0.5"/>
<ellipse cx="224.7" cy="98.7" rx="6.9" ry="6.9" fill="url(#gk)" opacity="0.5"/>
<ellipse cx="279.2" cy="84.6" rx="8.0" ry="8.0" fill="url(#gk)" opacity="0.5"/>
<ellipse cx="201.8" cy="98.7" rx="6.9" ry="6.9" fill="url(#gk)" opacity="0.3"/>
</g></g>
<clipPath id="cpb2"><rect x="166.6" y="122.0" width="117.0" height="116.7"/></clipPath>
<g clip-path="url(#cpb2)">
<filter id="blb2" x="-5%" y="-5%" width="110%" height="110%"><feGaussianBlur stdDeviation="1.9"/></filter>
<g filter="url(#blb2)" style="isolation:isolate">
<rect x="162.6" y="118.0" width="125.0" height="124.7" fill="rgb(89,89,89)"/>
<path d="M259.9,115.4L254.4,125.9L254.8,134.5L263.9,143.7L268.5,126.5Z" fill="url(#v110)" stroke="#000" stroke-opacity="0.72" stroke-width="1.3" stroke-linejoin="round"/>
<path d="M268.5,126.5L263.9,143.7L264.0,144.0L276.2,144.0L278.3,132.3L268.7,126.4Z" fill="url(#v98)" stroke="#000" stroke-opacity="0.72" stroke-width="1.3" stroke-linejoin="round"/>
<path d="M254.4,125.9L247.4,121.8L241.9,125.6L239.6,131.7L241.2,137.9L247.7,142.4L254.8,134.5Z" fill="url(#v87)" stroke="#000" stroke-opacity="0.72" stroke-width="1.3" stroke-linejoin="round"/>
<path d="M234.2,152.3L230.7,150.1L226.6,137.5L234.2,129.7L239.6,131.7L241.2,137.9L234.4,152.2Z" fill="url(#v93)" stroke="#000" stroke-opacity="0.72" stroke-width="1.3" stroke-linejoin="round"/>
<path d="M225.2,136.8L223.0,124.5L219.5,121.9L212.5,130.2L213.1,137.2L217.0,142.1Z" fill="url(#v81)" stroke="#000" stroke-opacity="0.72" stroke-width="1.3" stroke-linejoin="round"/>
<path d="M217.2,151.7L207.1,161.2L204.9,158.4L206.1,142.6L213.1,137.2L217.0,142.1Z" fill="url(#v81)" stroke="#000" stroke-opacity="0.72" stroke-width="1.3" stroke-linejoin="round"/>
<path d="M194.5,143.0L196.4,157.6L192.7,162.6L181.8,150.9L188.1,139.8Z" fill="url(#v87)" stroke="#000" stroke-opacity="0.72" stroke-width="1.3" stroke-linejoin="round"/>
<path d="M174.8,143.8L168.3,151.3L167.5,158.3L168.5,161.1L177.6,164.0L181.0,151.2Z" fill="url(#v87)" stroke="#000" stroke-opacity="0.72" stroke-width="1.3" stroke-linejoin="round"/>
<path d="M181.0,151.2L181.8,150.9L192.7,162.6L192.1,165.8L185.9,173.9L178.4,167.5L177.6,164.0Z" fill="url(#v81)" stroke="#000" stroke-opacity="0.72" stroke-width="1.3" stroke-linejoin="round"/>
<path d="M192.7,162.6L192.1,165.8L200.2,181.8L207.9,165.6L207.1,161.2L204.9,158.4L196.4,157.6Z" fill="url(#v104)" stroke="#000" stroke-opacity="0.72" stroke-width="1.3" stroke-linejoin="round"/>
<path d="M222.1,163.9L221.8,157.7L217.2,151.7L207.1,161.2L207.9,165.6L210.2,168.6L219.5,168.6Z" fill="url(#v81)" stroke="#000" stroke-opacity="0.72" stroke-width="1.3" stroke-linejoin="round"/>
<path d="M234.2,152.3L230.7,150.1L221.8,157.7L222.1,163.9L228.9,169.6L232.5,166.1Z" fill="url(#v87)" stroke="#000" stroke-opacity="0.72" stroke-width="1.3" stroke-linejoin="round"/>
<path d="M244.8,160.8L249.5,157.8L247.7,142.4L241.2,137.9L234.4,152.2Z" fill="url(#v81)" stroke="#000" stroke-opacity="0.72" stroke-width="1.3" stroke-linejoin="round"/>
<path d="M253.7,160.9L262.9,153.2L264.0,144.0L263.9,143.7L254.8,134.5L247.7,142.4L249.5,157.8Z" fill="url(#v87)" stroke="#000" stroke-opacity="0.72" stroke-width="1.3" stroke-linejoin="round"/>
<path d="M272.1,163.5L278.8,149.9L276.2,144.0L264.0,144.0L262.9,153.2L268.6,162.7Z" fill="url(#v93)" stroke="#000" stroke-opacity="0.72" stroke-width="1.3" stroke-linejoin="round"/>
<path d="M273.9,166.7L281.6,168.6L284.8,159.9L280.0,150.4L278.8,149.9L272.1,163.5Z" fill="url(#v93)" stroke="#000" stroke-opacity="0.72" stroke-width="1.3" stroke-linejoin="round"/>
<path d="M268.6,162.7L262.9,153.2L253.7,160.9L255.2,175.7L259.5,178.6L264.1,176.2Z" fill="url(#v98)" stroke="#000" stroke-opacity="0.72" stroke-width="1.3" stroke-linejoin="round"/>
<path d="M240.6,174.0L241.2,179.8L250.3,181.8L255.2,175.7L253.7,160.9L249.5,157.8L244.8,160.8Z" fill="url(#v81)" stroke="#000" stroke-opacity="0.72" stroke-width="1.3" stroke-linejoin="round"/>
<path d="M168.5,161.1L166.2,173.1L170.5,180.1L172.4,180.1L178.4,167.5L177.6,164.0Z" fill="url(#v81)" stroke="#000" stroke-opacity="0.72" stroke-width="1.3" stroke-linejoin="round"/>
<path d="M240.6,174.0L241.2,179.8L237.4,187.1L228.2,182.9L228.9,169.6L232.5,166.1Z" fill="url(#v75)" stroke="#000" stroke-opacity="0.72" stroke-width="1.3" stroke-linejoin="round"/>
<path d="M220.1,177.8L215.0,183.8L212.7,181.9L210.2,168.6L219.5,168.6Z" fill="url(#v81)" stroke="#000" stroke-opacity="0.72" stroke-width="1.3" stroke-linejoin="round"/>
<path d="M199.7,127.7L199.4,136.0L194.5,143.0L188.1,139.8L186.8,133.5L192.4,124.4L198.7,125.7Z" fill="url(#v75)" stroke="#000" stroke-opacity="0.72" stroke-width="1.3" stroke-linejoin="round"/>
<path d="M282.1,221.4L283.2,228.7L280.4,235.6L276.9,236.9L271.9,231.1L272.7,220.4L279.4,218.6Z" fill="url(#v119)" stroke="#000" stroke-opacity="0.72" stroke-width="1.3" stroke-linejoin="round"/>
<path d="M237.4,187.1L237.7,191.1L234.8,201.2L225.5,205.5L221.8,198.4L227.9,183.2L228.2,182.9Z" fill="url(#v98)" stroke="#000" stroke-opacity="0.72" stroke-width="1.3" stroke-linejoin="round"/>
<path d="M225.2,213.8L225.5,205.5L221.8,198.4L217.8,197.1L212.2,201.8L213.1,216.3L218.1,219.8Z" fill="url(#v93)" stroke="#000" stroke-opacity="0.72" stroke-width="1.3" stroke-linejoin="round"/>
<path d="M248.5,208.7L251.2,216.5L244.1,225.8L238.5,224.3L236.6,218.3L238.6,210.4Z" fill="url(#v93)" stroke="#000" stroke-opacity="0.72" stroke-width="1.3" stroke-linejoin="round"/>
<path d="M208.6,200.6L204.3,187.9L200.2,184.7L198.2,187.1L196.1,202.8L200.4,209.6Z" fill="url(#v87)" stroke="#000" stroke-opacity="0.72" stroke-width="1.3" stroke-linejoin="round"/>
<path d="M185.8,178.5L189.7,186.5L185.3,202.4L178.4,195.5L177.9,187.9Z" fill="url(#v81)" stroke="#000" stroke-opacity="0.72" stroke-width="1.3" stroke-linejoin="round"/>
<path d="M165.2,192.5L171.3,201.4L178.4,195.5L177.9,187.9L172.4,180.1L170.5,180.1Z" fill="url(#v75)" stroke="#000" stroke-opacity="0.72" stroke-width="1.3" stroke-linejoin="round"/>
<path d="M176.7,218.1L170.7,206.7L171.3,201.4L178.4,195.5L185.3,202.4L185.8,204.0L184.3,214.9Z" fill="url(#v75)" stroke="#000" stroke-opacity="0.72" stroke-width="1.3" stroke-linejoin="round"/>
<path d="M200.4,209.6L196.1,202.8L185.8,204.0L184.3,214.9L186.9,219.9L195.3,221.7L200.5,212.5Z" fill="url(#v75)" stroke="#000" stroke-opacity="0.72" stroke-width="1.3" stroke-linejoin="round"/>
<path d="M185.7,232.4L186.9,219.9L184.3,214.9L176.7,218.1L174.6,223.4L177.4,234.9L180.6,236.7Z" fill="url(#v93)" stroke="#000" stroke-opacity="0.72" stroke-width="1.3" stroke-linejoin="round"/>
<path d="M207.7,221.5L200.5,212.5L195.3,221.7L197.9,233.0L198.9,233.7L207.3,229.8Z" fill="url(#v81)" stroke="#000" stroke-opacity="0.72" stroke-width="1.3" stroke-linejoin="round"/>
<path d="M225.2,213.8L218.1,219.8L218.0,234.7L224.2,236.6L228.1,232.0L227.5,217.7Z" fill="url(#v81)" stroke="#000" stroke-opacity="0.72" stroke-width="1.3" stroke-linejoin="round"/>
<path d="M238.5,224.3L234.4,234.3L237.8,244.7L245.4,236.7L244.1,225.8Z" fill="url(#v75)" stroke="#000" stroke-opacity="0.72" stroke-width="1.3" stroke-linejoin="round"/>
<path d="M251.3,216.6L260.3,214.7L262.4,218.6L262.6,231.4L257.8,234.8L254.4,232.2Z" fill="url(#v81)" stroke="#000" stroke-opacity="0.72" stroke-width="1.3" stroke-linejoin="round"/>
<path d="M248.9,201.8L248.5,208.7L251.2,216.5L251.3,216.6L260.3,214.7L263.7,202.9L262.6,197.2L261.9,196.5L251.6,196.8Z" fill="url(#v87)" stroke="#000" stroke-opacity="0.72" stroke-width="1.3" stroke-linejoin="round"/>
<path d="M262.6,197.2L263.7,202.9L271.2,206.3L277.3,200.2L272.4,186.6Z" fill="url(#v87)" stroke="#000" stroke-opacity="0.72" stroke-width="1.3" stroke-linejoin="round"/>
<path d="M241.2,179.8L250.3,181.8L251.6,196.8L248.9,201.8L237.7,191.1L237.4,187.1Z" fill="url(#v81)" stroke="#000" stroke-opacity="0.72" stroke-width="1.3" stroke-linejoin="round"/>
<path d="M272.5,185.7L272.4,186.6L262.6,197.2L261.9,196.5L259.5,178.6L264.1,176.2Z" fill="url(#v81)" stroke="#000" stroke-opacity="0.72" stroke-width="1.3" stroke-linejoin="round"/>
<path d="M168.7,225.6L174.6,223.4L177.4,234.9L170.1,243.7L166.7,235.4Z" fill="url(#v75)" stroke="#000" stroke-opacity="0.72" stroke-width="1.3" stroke-linejoin="round"/>
<path d="M210.8,235.6L204.6,251.7L216.2,251.7L215.9,236.7Z" fill="url(#v94)" stroke="#000" stroke-opacity="0.72" stroke-width="1.3" stroke-linejoin="round"/>
<path d="M192.4,124.4L187.7,112.1L180.9,125.6L180.8,127.8L186.8,133.5Z" fill="url(#v53)" stroke="#000" stroke-opacity="0.72" stroke-width="1.3" stroke-linejoin="round"/>
<path d="M258.0,251.7L257.8,234.8L262.6,231.4L266.8,234.9L266.7,251.7Z" fill="url(#v71)" stroke="#000" stroke-opacity="0.72" stroke-width="1.3" stroke-linejoin="round"/>
<path d="M259.9,115.4L259.9,109.0L247.1,109.0L247.4,121.8L254.4,125.9Z" fill="url(#v74)" stroke="#000" stroke-opacity="0.72" stroke-width="1.3" stroke-linejoin="round"/>
<path d="M170.6,132.0L174.0,135.3L174.8,143.8L168.3,151.3L158.4,139.3L158.4,138.1Z" fill="url(#v71)" stroke="#000" stroke-opacity="0.72" stroke-width="1.3" stroke-linejoin="round"/>
<path d="M170.6,132.0L174.0,135.3L180.8,127.8L180.9,125.6L172.9,109.6L168.9,120.9Z" fill="url(#v87)" stroke="#000" stroke-opacity="0.72" stroke-width="1.3" stroke-linejoin="round"/>
<path d="M168.5,161.1L166.2,173.1L158.4,174.2L158.4,159.2L167.5,158.3Z" fill="url(#v90)" stroke="#000" stroke-opacity="0.72" stroke-width="1.3" stroke-linejoin="round"/>
<path d="M273.8,183.7L281.6,181.4L284.3,190.5L279.9,201.3L277.3,200.2L272.4,186.6L272.5,185.7Z" fill="url(#v78)" stroke="#000" stroke-opacity="0.72" stroke-width="1.3" stroke-linejoin="round"/>
<path d="M160.9,215.5L170.7,206.7L176.7,218.1L174.6,223.4L168.7,225.6Z" fill="url(#v74)" stroke="#000" stroke-opacity="0.72" stroke-width="1.3" stroke-linejoin="round"/>
<path d="M248.6,238.5L254.4,232.2L257.8,234.8L258.0,251.7L251.7,251.7Z" fill="url(#v83)" stroke="#000" stroke-opacity="0.72" stroke-width="1.3" stroke-linejoin="round"/>
<path d="M279.0,131.6L281.4,116.9L291.8,124.3L291.8,137.5Z" fill="url(#v44)" stroke="#000" stroke-opacity="0.72" stroke-width="1.3" stroke-linejoin="round"/>
<path d="M219.5,121.9L217.7,109.0L209.6,109.0L209.0,125.1L212.5,130.2Z" fill="url(#v74)" stroke="#000" stroke-opacity="0.72" stroke-width="1.3" stroke-linejoin="round"/>
<path d="M191.1,239.6L197.9,233.0L198.9,233.7L202.6,251.7L190.3,251.7Z" fill="url(#v79)" stroke="#000" stroke-opacity="0.72" stroke-width="1.3" stroke-linejoin="round"/>
<path d="M230.2,117.1L234.2,129.7L239.6,131.7L241.9,125.6L237.4,109.0L231.3,109.0Z" fill="url(#v59)" stroke="#000" stroke-opacity="0.72" stroke-width="1.3" stroke-linejoin="round"/>
<path d="M199.4,136.0L206.1,142.6L204.9,158.4L196.4,157.6L194.5,143.0Z" fill="url(#v90)" stroke="#000" stroke-opacity="0.72" stroke-width="1.3" stroke-linejoin="round"/>
<path d="M186.8,133.5L180.8,127.8L174.0,135.3L174.8,143.8L181.0,151.2L181.8,150.9L188.1,139.8Z" fill="url(#v75)" stroke="#000" stroke-opacity="0.72" stroke-width="1.3" stroke-linejoin="round"/>
<path d="M282.1,221.4L291.8,212.1L291.8,208.0L280.1,201.7L279.4,218.6Z" fill="url(#v86)" stroke="#000" stroke-opacity="0.72" stroke-width="1.3" stroke-linejoin="round"/>
<path d="M158.4,138.1L170.6,132.0L168.9,120.9L158.4,120.1Z" fill="url(#v56)" stroke="#000" stroke-opacity="0.72" stroke-width="1.3" stroke-linejoin="round"/>
<path d="M280.4,235.6L288.8,251.7L274.0,251.7L276.9,236.9Z" fill="url(#v59)" stroke="#000" stroke-opacity="0.72" stroke-width="1.3" stroke-linejoin="round"/>
<path d="M280.0,150.4L291.8,138.6L291.8,159.2L284.8,159.9Z" fill="url(#v83)" stroke="#000" stroke-opacity="0.72" stroke-width="1.3" stroke-linejoin="round"/>
<path d="M230.7,150.1L226.6,137.5L225.2,136.8L217.0,142.1L217.2,151.7L221.8,157.7Z" fill="url(#v78)" stroke="#000" stroke-opacity="0.72" stroke-width="1.3" stroke-linejoin="round"/>
<path d="M284.3,190.5L281.6,181.4L283.7,175.8L291.8,176.2L291.8,190.6Z" fill="url(#v72)" stroke="#000" stroke-opacity="0.72" stroke-width="1.3" stroke-linejoin="round"/>
<path d="M166.7,235.4L170.1,243.7L169.7,251.7L158.4,251.7L158.4,235.1Z" fill="url(#v80)" stroke="#000" stroke-opacity="0.72" stroke-width="1.3" stroke-linejoin="round"/>
<path d="M185.7,232.4L191.1,239.6L190.3,251.7L182.1,251.7L180.6,236.7Z" fill="url(#v87)" stroke="#000" stroke-opacity="0.72" stroke-width="1.3" stroke-linejoin="round"/>
<path d="M268.7,126.4L276.6,109.0L279.3,109.0L281.4,116.9L279.0,131.6L278.3,132.3Z" fill="url(#v90)" stroke="#000" stroke-opacity="0.72" stroke-width="1.3" stroke-linejoin="round"/>
<path d="M215.0,183.8L217.8,197.1L212.2,201.8L208.6,200.6L204.3,187.9L212.7,181.9Z" fill="url(#v65)" stroke="#000" stroke-opacity="0.72" stroke-width="1.3" stroke-linejoin="round"/>
<path d="M199.7,127.7L209.0,125.1L212.5,130.2L213.1,137.2L206.1,142.6L199.4,136.0Z" fill="url(#v90)" stroke="#000" stroke-opacity="0.72" stroke-width="1.3" stroke-linejoin="round"/>
<path d="M280.4,235.6L288.8,251.7L291.8,251.7L291.8,231.9L283.2,228.7Z" fill="url(#v80)" stroke="#000" stroke-opacity="0.72" stroke-width="1.3" stroke-linejoin="round"/>
<path d="M185.8,178.5L189.7,186.5L198.2,187.1L200.2,184.7L200.2,181.8L192.1,165.8L185.9,173.9Z" fill="url(#v64)" stroke="#000" stroke-opacity="0.72" stroke-width="1.3" stroke-linejoin="round"/>
<path d="M165.2,192.5L158.4,193.2L158.4,215.2L160.9,215.5L170.7,206.7L171.3,201.4Z" fill="url(#v109)" stroke="#000" stroke-opacity="0.72" stroke-width="1.3" stroke-linejoin="round"/>
<path d="M260.3,214.7L263.7,202.9L271.2,206.3L272.4,219.9L262.4,218.6Z" fill="url(#v87)" stroke="#000" stroke-opacity="0.72" stroke-width="1.3" stroke-linejoin="round"/>
<path d="M251.6,196.8L261.9,196.5L259.5,178.6L255.2,175.7L250.3,181.8Z" fill="url(#v108)" stroke="#000" stroke-opacity="0.72" stroke-width="1.3" stroke-linejoin="round"/>
<path d="M223.0,124.5L219.5,121.9L217.7,109.0L231.3,109.0L230.2,117.1Z" fill="url(#v69)" stroke="#000" stroke-opacity="0.72" stroke-width="1.3" stroke-linejoin="round"/>
<path d="M225.2,213.8L225.5,205.5L234.8,201.2L238.6,210.4L236.6,218.3L227.5,217.7Z" fill="url(#v73)" stroke="#000" stroke-opacity="0.72" stroke-width="1.3" stroke-linejoin="round"/>
<path d="M228.1,232.0L234.4,234.3L237.8,244.7L237.2,251.7L226.8,251.7L224.2,236.6Z" fill="url(#v73)" stroke="#000" stroke-opacity="0.72" stroke-width="1.3" stroke-linejoin="round"/>
<path d="M160.9,215.5L168.7,225.6L166.7,235.4L158.4,235.1L158.4,215.2Z" fill="url(#v73)" stroke="#000" stroke-opacity="0.72" stroke-width="1.3" stroke-linejoin="round"/>
<path d="M273.9,166.7L273.8,183.7L272.5,185.7L264.1,176.2L268.6,162.7L272.1,163.5Z" fill="url(#v67)" stroke="#000" stroke-opacity="0.72" stroke-width="1.3" stroke-linejoin="round"/>
<path d="M228.9,169.6L222.1,163.9L219.5,168.6L220.1,177.8L227.9,183.2L228.2,182.9Z" fill="url(#v85)" stroke="#000" stroke-opacity="0.72" stroke-width="1.3" stroke-linejoin="round"/>
<path d="M166.2,173.1L170.5,180.1L165.2,192.5L158.4,193.2L158.4,174.2Z" fill="url(#v54)" stroke="#000" stroke-opacity="0.72" stroke-width="1.3" stroke-linejoin="round"/>
<path d="M224.2,236.6L226.8,251.7L216.2,251.7L215.9,236.7L218.0,234.7Z" fill="url(#v87)" stroke="#000" stroke-opacity="0.72" stroke-width="1.3" stroke-linejoin="round"/>
<path d="M198.7,125.7L200.1,109.0L187.8,109.0L187.7,112.1L192.4,124.4Z" fill="url(#v44)" stroke="#000" stroke-opacity="0.72" stroke-width="1.3" stroke-linejoin="round"/>
<path d="M280.0,150.4L291.8,138.6L291.8,137.5L279.0,131.6L278.3,132.3L276.2,144.0L278.8,149.9Z" fill="url(#v104)" stroke="#000" stroke-opacity="0.72" stroke-width="1.3" stroke-linejoin="round"/>
<path d="M218.1,219.8L213.1,216.3L207.7,221.5L207.3,229.8L210.8,235.6L215.9,236.7L218.0,234.7Z" fill="url(#v59)" stroke="#000" stroke-opacity="0.72" stroke-width="1.3" stroke-linejoin="round"/>
<path d="M240.6,174.0L232.5,166.1L234.2,152.3L234.4,152.2L244.8,160.8Z" fill="url(#v86)" stroke="#000" stroke-opacity="0.72" stroke-width="1.3" stroke-linejoin="round"/>
<path d="M185.8,178.5L177.9,187.9L172.4,180.1L178.4,167.5L185.9,173.9Z" fill="url(#v72)" stroke="#000" stroke-opacity="0.72" stroke-width="1.3" stroke-linejoin="round"/>
<path d="M280.1,201.7L291.8,208.0L291.8,190.6L284.3,190.5L279.9,201.3Z" fill="url(#v63)" stroke="#000" stroke-opacity="0.72" stroke-width="1.3" stroke-linejoin="round"/>
<path d="M273.9,166.7L281.6,168.6L283.7,175.8L281.6,181.4L273.8,183.7Z" fill="url(#v40)" stroke="#000" stroke-opacity="0.72" stroke-width="1.3" stroke-linejoin="round"/>
<path d="M207.7,221.5L200.5,212.5L200.4,209.6L208.6,200.6L212.2,201.8L213.1,216.3Z" fill="url(#v92)" stroke="#000" stroke-opacity="0.72" stroke-width="1.3" stroke-linejoin="round"/>
<path d="M244.1,225.8L245.4,236.7L248.6,238.5L254.4,232.2L251.3,216.6L251.2,216.5Z" fill="url(#v85)" stroke="#000" stroke-opacity="0.72" stroke-width="1.3" stroke-linejoin="round"/>
<path d="M198.2,187.1L196.1,202.8L185.8,204.0L185.3,202.4L189.7,186.5Z" fill="url(#v75)" stroke="#000" stroke-opacity="0.72" stroke-width="1.3" stroke-linejoin="round"/>
<path d="M207.3,229.8L198.9,233.7L202.6,251.7L204.6,251.7L210.8,235.6Z" fill="url(#v87)" stroke="#000" stroke-opacity="0.72" stroke-width="1.3" stroke-linejoin="round"/>
<path d="M199.7,127.7L209.0,125.1L209.6,109.0L200.1,109.0L198.7,125.7Z" fill="url(#v49)" stroke="#000" stroke-opacity="0.72" stroke-width="1.3" stroke-linejoin="round"/>
<path d="M227.9,183.2L221.8,198.4L217.8,197.1L215.0,183.8L220.1,177.8Z" fill="url(#v78)" stroke="#000" stroke-opacity="0.72" stroke-width="1.3" stroke-linejoin="round"/>
<path d="M248.9,201.8L248.5,208.7L238.6,210.4L234.8,201.2L237.7,191.1Z" fill="url(#v43)" stroke="#000" stroke-opacity="0.72" stroke-width="1.3" stroke-linejoin="round"/>
<path d="M227.5,217.7L236.6,218.3L238.5,224.3L234.4,234.3L228.1,232.0Z" fill="url(#v79)" stroke="#000" stroke-opacity="0.72" stroke-width="1.3" stroke-linejoin="round"/>
<path d="M284.8,159.9L291.8,159.2L291.8,176.2L283.7,175.8L281.6,168.6Z" fill="url(#v75)" stroke="#000" stroke-opacity="0.72" stroke-width="1.3" stroke-linejoin="round"/>
<path d="M262.4,218.6L262.6,231.4L266.8,234.9L271.9,231.1L272.7,220.4L272.4,219.9Z" fill="url(#v72)" stroke="#000" stroke-opacity="0.72" stroke-width="1.3" stroke-linejoin="round"/>
<path d="M259.9,115.4L268.5,126.5L268.7,126.4L276.6,109.0L259.9,109.0Z" fill="url(#v79)" stroke="#000" stroke-opacity="0.72" stroke-width="1.3" stroke-linejoin="round"/>
<path d="M167.5,158.3L158.4,159.2L158.4,139.3L168.3,151.3Z" fill="url(#v89)" stroke="#000" stroke-opacity="0.72" stroke-width="1.3" stroke-linejoin="round"/>
<path d="M180.6,236.7L177.4,234.9L170.1,243.7L169.7,251.7L182.1,251.7Z" fill="url(#v49)" stroke="#000" stroke-opacity="0.72" stroke-width="1.3" stroke-linejoin="round"/>
<path d="M282.1,221.4L283.2,228.7L291.8,231.9L291.8,212.1Z" fill="url(#v28)" stroke="#000" stroke-opacity="0.72" stroke-width="1.3" stroke-linejoin="round"/>
<path d="M185.7,232.4L186.9,219.9L195.3,221.7L197.9,233.0L191.1,239.6Z" fill="url(#v69)" stroke="#000" stroke-opacity="0.72" stroke-width="1.3" stroke-linejoin="round"/>
<path d="M247.4,121.8L241.9,125.6L237.4,109.0L247.1,109.0Z" fill="url(#v67)" stroke="#000" stroke-opacity="0.72" stroke-width="1.3" stroke-linejoin="round"/>
<path d="M237.8,244.7L245.4,236.7L248.6,238.5L251.7,251.7L237.2,251.7Z" fill="url(#v87)" stroke="#000" stroke-opacity="0.72" stroke-width="1.3" stroke-linejoin="round"/>
<path d="M276.9,236.9L274.0,251.7L266.7,251.7L266.8,234.9L271.9,231.1Z" fill="url(#v62)" stroke="#000" stroke-opacity="0.72" stroke-width="1.3" stroke-linejoin="round"/>
<path d="M281.4,116.9L279.3,109.0L291.8,109.0L291.8,124.3Z" fill="url(#v74)" stroke="#000" stroke-opacity="0.72" stroke-width="1.3" stroke-linejoin="round"/>
<path d="M279.4,218.6L272.7,220.4L272.4,219.9L271.2,206.3L277.3,200.2L279.9,201.3L280.1,201.7Z" fill="url(#v71)" stroke="#000" stroke-opacity="0.72" stroke-width="1.3" stroke-linejoin="round"/>
<path d="M210.2,168.6L207.9,165.6L200.2,181.8L200.2,184.7L204.3,187.9L212.7,181.9Z" fill="url(#v77)" stroke="#000" stroke-opacity="0.72" stroke-width="1.3" stroke-linejoin="round"/>
<path d="M168.9,120.9L172.9,109.6L172.9,109.0L158.4,109.0L158.4,120.1Z" fill="url(#v65)" stroke="#000" stroke-opacity="0.72" stroke-width="1.3" stroke-linejoin="round"/>
<path d="M225.2,136.8L223.0,124.5L230.2,117.1L234.2,129.7L226.6,137.5Z" fill="url(#v48)" stroke="#000" stroke-opacity="0.72" stroke-width="1.3" stroke-linejoin="round"/>
<path d="M187.7,112.1L187.8,109.0L172.9,109.0L172.9,109.6L180.9,125.6Z" fill="url(#v75)" stroke="#000" stroke-opacity="0.72" stroke-width="1.3" stroke-linejoin="round"/>
<ellipse cx="219.4" cy="136.1" rx="6.9" ry="6.9" fill="url(#gk)" opacity="0.5"/>
<ellipse cx="229.9" cy="151.9" rx="6.9" ry="6.9" fill="url(#gk)" opacity="0.5"/>
<ellipse cx="237.0" cy="166.0" rx="6.9" ry="6.9" fill="url(#gk)" opacity="0.45"/>
<ellipse cx="194.7" cy="220.7" rx="6.9" ry="6.9" fill="url(#gk)" opacity="0.5"/>
<ellipse cx="275.7" cy="203.1" rx="6.9" ry="6.9" fill="url(#gk)" opacity="0.45"/>
</g></g>
<clipPath id="cpc1"><rect x="330.3" y="5.0" width="117.0" height="117.0"/></clipPath>
<g clip-path="url(#cpc1)">
<filter id="blc1" x="-5%" y="-5%" width="110%" height="110%"><feGaussianBlur stdDeviation="1.9"/></filter>
<g filter="url(#blc1)" style="isolation:isolate">
<rect x="326.3" y="1.0" width="125.0" height="125.0" fill="rgb(83,83,83)"/>
<path d="M393.0,48.5L393.0,38.2L395.7,36.1L397.4,35.8L414.0,38.1L415.0,46.0L404.7,50.6L393.2,48.7Z" fill="url(#v119)" stroke="#000" stroke-opacity="0.72" stroke-width="1.3" stroke-linejoin="round"/>
<path d="M393.0,38.2L395.7,36.1L382.2,26.7L376.0,28.1L370.3,34.7L375.2,38.5Z" fill="url(#v110)" stroke="#000" stroke-opacity="0.72" stroke-width="1.3" stroke-linejoin="round"/>
<path d="M369.1,53.7L374.4,47.2L393.0,48.5L393.2,48.7L386.9,56.1L375.1,57.4Z" fill="url(#v116)" stroke="#000" stroke-opacity="0.72" stroke-width="1.3" stroke-linejoin="round"/>
<path d="M408.3,11.1L399.6,17.3L401.1,22.1L406.7,24.4L408.3,24.4L418.2,18.7L415.8,12.1Z" fill="url(#v98)" stroke="#000" stroke-opacity="0.72" stroke-width="1.3" stroke-linejoin="round"/>
<path d="M415.8,12.1L418.2,18.7L427.0,20.2L434.6,16.6L428.7,9.3L425.1,9.0Z" fill="url(#v80)" stroke="#000" stroke-opacity="0.72" stroke-width="1.3" stroke-linejoin="round"/>
<path d="M442.6,17.7L434.6,16.6L428.7,9.3L440.5,5.2L447.2,8.4L446.9,16.5Z" fill="url(#v86)" stroke="#000" stroke-opacity="0.72" stroke-width="1.3" stroke-linejoin="round"/>
<path d="M404.6,8.0L393.3,6.2L385.7,10.2L385.7,13.2L399.6,17.3L408.3,11.1Z" fill="url(#v80)" stroke="#000" stroke-opacity="0.72" stroke-width="1.3" stroke-linejoin="round"/>
<path d="M371.7,5.8L385.7,10.2L385.7,13.2L379.9,17.3L366.2,16.4L365.0,8.5Z" fill="url(#v86)" stroke="#000" stroke-opacity="0.72" stroke-width="1.3" stroke-linejoin="round"/>
<path d="M347.6,32.1L347.7,32.2L350.9,32.3L362.1,23.7L360.4,19.5L348.7,17.8L341.5,19.7Z" fill="url(#v74)" stroke="#000" stroke-opacity="0.72" stroke-width="1.3" stroke-linejoin="round"/>
<path d="M318.3,36.3L337.8,44.3L347.7,32.2L347.6,32.1L330.4,31.3Z" fill="url(#v74)" stroke="#000" stroke-opacity="0.72" stroke-width="1.3" stroke-linejoin="round"/>
<path d="M338.0,44.7L347.4,47.5L351.2,47.2L357.6,44.0L357.6,35.1L350.9,32.3L347.7,32.2L337.8,44.3Z" fill="url(#v80)" stroke="#000" stroke-opacity="0.72" stroke-width="1.3" stroke-linejoin="round"/>
<path d="M371.9,44.8L357.6,44.0L357.6,35.1L370.3,34.7L375.2,38.5Z" fill="url(#v86)" stroke="#000" stroke-opacity="0.72" stroke-width="1.3" stroke-linejoin="round"/>
<path d="M339.2,59.5L343.4,58.5L347.4,47.5L338.0,44.7L325.0,52.2Z" fill="url(#v86)" stroke="#000" stroke-opacity="0.72" stroke-width="1.3" stroke-linejoin="round"/>
<path d="M351.2,47.2L363.1,54.1L354.7,60.5L343.4,58.5L347.4,47.5Z" fill="url(#v80)" stroke="#000" stroke-opacity="0.72" stroke-width="1.3" stroke-linejoin="round"/>
<path d="M416.5,28.0L416.5,37.0L433.0,36.3L429.1,26.8Z" fill="url(#v80)" stroke="#000" stroke-opacity="0.72" stroke-width="1.3" stroke-linejoin="round"/>
<path d="M450.2,29.5L434.7,36.9L433.0,36.3L429.1,26.8L429.4,26.4L441.3,25.2Z" fill="url(#v80)" stroke="#000" stroke-opacity="0.72" stroke-width="1.3" stroke-linejoin="round"/>
<path d="M423.7,47.7L426.9,55.6L417.7,59.9L408.6,56.3L404.7,50.6L415.0,46.0Z" fill="url(#v80)" stroke="#000" stroke-opacity="0.72" stroke-width="1.3" stroke-linejoin="round"/>
<path d="M442.4,49.4L433.2,45.2L423.7,47.7L426.9,55.6L436.4,56.0L442.5,53.2Z" fill="url(#v86)" stroke="#000" stroke-opacity="0.72" stroke-width="1.3" stroke-linejoin="round"/>
<path d="M435.5,37.8L433.2,45.2L442.4,49.4L458.0,42.8Z" fill="url(#v74)" stroke="#000" stroke-opacity="0.72" stroke-width="1.3" stroke-linejoin="round"/>
<path d="M416.5,28.0L408.3,24.4L406.7,24.4L397.4,35.8L414.0,38.1L416.5,37.0Z" fill="url(#v86)" stroke="#000" stroke-opacity="0.72" stroke-width="1.3" stroke-linejoin="round"/>
<path d="M395.7,36.1L382.2,26.7L383.5,25.2L401.1,22.1L406.7,24.4L397.4,35.8Z" fill="url(#v74)" stroke="#000" stroke-opacity="0.72" stroke-width="1.3" stroke-linejoin="round"/>
<path d="M364.8,77.0L375.6,83.4L385.5,81.5L388.4,74.7L377.9,71.2L367.3,73.7Z" fill="url(#v116)" stroke="#000" stroke-opacity="0.72" stroke-width="1.3" stroke-linejoin="round"/>
<path d="M373.3,87.9L359.3,89.8L359.3,96.0L364.2,98.4L378.1,98.0L381.8,94.2Z" fill="url(#v104)" stroke="#000" stroke-opacity="0.72" stroke-width="1.3" stroke-linejoin="round"/>
<path d="M364.8,77.0L358.2,78.7L347.9,77.5L347.9,69.7L358.2,66.2L367.3,73.7Z" fill="url(#v92)" stroke="#000" stroke-opacity="0.72" stroke-width="1.3" stroke-linejoin="round"/>
<path d="M334.4,66.2L347.9,69.7L347.9,77.5L343.8,78.6L330.0,73.7Z" fill="url(#v80)" stroke="#000" stroke-opacity="0.72" stroke-width="1.3" stroke-linejoin="round"/>
<path d="M318.6,95.1L333.2,85.7L338.9,85.5L343.2,88.4L340.6,95.6L324.1,96.6Z" fill="url(#v74)" stroke="#000" stroke-opacity="0.72" stroke-width="1.3" stroke-linejoin="round"/>
<path d="M346.1,99.0L340.6,95.6L343.2,88.4L357.5,88.9L359.3,89.8L359.3,96.0Z" fill="url(#v86)" stroke="#000" stroke-opacity="0.72" stroke-width="1.3" stroke-linejoin="round"/>
<path d="M375.3,113.3L373.6,108.1L380.9,103.2L393.1,106.0L396.5,110.1L390.4,115.6L381.2,115.7Z" fill="url(#v98)" stroke="#000" stroke-opacity="0.72" stroke-width="1.3" stroke-linejoin="round"/>
<path d="M358.9,116.6L352.8,113.1L355.7,107.9L361.5,106.0L373.6,108.1L375.3,113.3Z" fill="url(#v80)" stroke="#000" stroke-opacity="0.72" stroke-width="1.3" stroke-linejoin="round"/>
<path d="M345.5,101.8L333.1,106.4L332.3,107.9L333.7,110.0L346.2,113.8L352.8,113.1L355.7,107.9Z" fill="url(#v80)" stroke="#000" stroke-opacity="0.72" stroke-width="1.3" stroke-linejoin="round"/>
<path d="M326.3,117.0L333.7,110.0L346.2,113.8L339.8,120.6L331.4,120.7Z" fill="url(#v74)" stroke="#000" stroke-opacity="0.72" stroke-width="1.3" stroke-linejoin="round"/>
<path d="M416.7,108.2L418.6,106.6L413.2,100.5L399.8,99.1L393.1,106.0L396.5,110.1L411.1,110.2Z" fill="url(#v92)" stroke="#000" stroke-opacity="0.72" stroke-width="1.3" stroke-linejoin="round"/>
<path d="M424.1,106.0L434.9,99.2L426.3,91.3L423.2,90.7L418.4,92.2L413.2,100.5L418.6,106.6Z" fill="url(#v92)" stroke="#000" stroke-opacity="0.72" stroke-width="1.3" stroke-linejoin="round"/>
<path d="M434.9,99.2L426.3,91.3L442.9,87.1L444.5,87.7L449.0,95.9L440.7,99.6Z" fill="url(#v86)" stroke="#000" stroke-opacity="0.72" stroke-width="1.3" stroke-linejoin="round"/>
<path d="M429.1,78.7L441.6,80.1L443.5,79.0L445.2,71.4L437.9,67.0L429.9,67.9L425.5,74.7Z" fill="url(#v86)" stroke="#000" stroke-opacity="0.72" stroke-width="1.3" stroke-linejoin="round"/>
<path d="M425.5,74.7L429.9,67.9L418.5,63.3L408.1,68.5L413.2,74.7Z" fill="url(#v80)" stroke="#000" stroke-opacity="0.72" stroke-width="1.3" stroke-linejoin="round"/>
<path d="M413.2,74.7L408.1,68.5L399.5,68.2L392.8,73.9L407.1,80.3Z" fill="url(#v74)" stroke="#000" stroke-opacity="0.72" stroke-width="1.3" stroke-linejoin="round"/>
<path d="M401.4,84.7L407.1,80.4L421.4,84.5L423.2,90.7L418.4,92.2L406.1,90.5Z" fill="url(#v74)" stroke="#000" stroke-opacity="0.72" stroke-width="1.3" stroke-linejoin="round"/>
<path d="M435.9,118.4L428.7,119.3L416.7,108.2L418.6,106.6L424.1,106.0L435.9,110.1Z" fill="url(#v86)" stroke="#000" stroke-opacity="0.72" stroke-width="1.3" stroke-linejoin="round"/>
<path d="M435.9,118.4L435.9,110.1L445.8,107.7L453.3,115.5L441.1,119.5Z" fill="url(#v80)" stroke="#000" stroke-opacity="0.72" stroke-width="1.3" stroke-linejoin="round"/>
<path d="M392.9,85.1L387.3,93.4L396.9,95.6L406.1,90.5L401.4,84.7Z" fill="url(#v74)" stroke="#000" stroke-opacity="0.72" stroke-width="1.3" stroke-linejoin="round"/>
<path d="M416.7,108.2L428.7,119.3L421.6,123.1L411.2,119.8L411.1,110.2Z" fill="url(#v80)" stroke="#000" stroke-opacity="0.72" stroke-width="1.3" stroke-linejoin="round"/>
<path d="M442.5,53.2L436.4,56.0L439.9,64.8L460.3,59.9L460.3,58.0Z" fill="url(#v79)" stroke="#000" stroke-opacity="0.72" stroke-width="1.3" stroke-linejoin="round"/>
<path d="M333.8,65.1L334.4,66.2L347.9,69.7L358.2,66.2L358.7,64.5L354.7,60.5L343.4,58.5L339.2,59.5Z" fill="url(#v73)" stroke="#000" stroke-opacity="0.72" stroke-width="1.3" stroke-linejoin="round"/>
<path d="M404.6,8.0L414.4,-2.2L417.1,-2.2L425.1,9.0L415.8,12.1L408.3,11.1Z" fill="url(#v82)" stroke="#000" stroke-opacity="0.72" stroke-width="1.3" stroke-linejoin="round"/>
<path d="M441.1,119.5L446.5,129.2L460.3,129.2L460.3,115.9L453.3,115.5Z" fill="url(#v102)" stroke="#000" stroke-opacity="0.72" stroke-width="1.3" stroke-linejoin="round"/>
<path d="M352.7,6.7L352.5,-2.2L334.1,-2.2L332.6,3.0L337.7,7.2L349.4,8.0Z" fill="url(#v78)" stroke="#000" stroke-opacity="0.72" stroke-width="1.3" stroke-linejoin="round"/>
<path d="M333.8,65.1L317.3,63.1L317.3,52.6L325.0,52.2L339.2,59.5Z" fill="url(#v103)" stroke="#000" stroke-opacity="0.72" stroke-width="1.3" stroke-linejoin="round"/>
<path d="M350.9,32.3L362.1,23.7L376.0,28.1L370.3,34.7L357.6,35.1Z" fill="url(#v73)" stroke="#000" stroke-opacity="0.72" stroke-width="1.3" stroke-linejoin="round"/>
<path d="M329.4,22.8L330.4,31.3L318.3,36.3L317.3,36.3L317.3,21.9Z" fill="url(#v112)" stroke="#000" stroke-opacity="0.72" stroke-width="1.3" stroke-linejoin="round"/>
<path d="M458.0,42.8L442.4,49.4L442.5,53.2L460.3,58.0L460.3,42.6Z" fill="url(#v81)" stroke="#000" stroke-opacity="0.72" stroke-width="1.3" stroke-linejoin="round"/>
<path d="M330.0,73.7L343.8,78.6L338.9,85.5L333.2,85.7L317.3,78.4L317.3,77.1Z" fill="url(#v62)" stroke="#000" stroke-opacity="0.72" stroke-width="1.3" stroke-linejoin="round"/>
<path d="M393.3,62.8L386.9,56.1L393.2,48.7L404.7,50.6L408.6,56.3L394.2,63.0Z" fill="url(#v79)" stroke="#000" stroke-opacity="0.72" stroke-width="1.3" stroke-linejoin="round"/>
<path d="M460.3,104.3L460.3,96.9L449.0,95.9L440.7,99.6L446.8,106.4Z" fill="url(#v75)" stroke="#000" stroke-opacity="0.72" stroke-width="1.3" stroke-linejoin="round"/>
<path d="M331.4,120.7L324.5,129.2L349.8,129.2L349.9,128.6L339.8,120.6Z" fill="url(#v101)" stroke="#000" stroke-opacity="0.72" stroke-width="1.3" stroke-linejoin="round"/>
<path d="M416.5,37.0L414.0,38.1L415.0,46.0L423.7,47.7L433.2,45.2L435.5,37.8L434.7,36.9L433.0,36.3Z" fill="url(#v82)" stroke="#000" stroke-opacity="0.72" stroke-width="1.3" stroke-linejoin="round"/>
<path d="M358.9,116.6L352.8,113.1L346.2,113.8L339.8,120.6L349.9,128.6L359.8,120.6Z" fill="url(#v83)" stroke="#000" stroke-opacity="0.72" stroke-width="1.3" stroke-linejoin="round"/>
<path d="M443.5,79.0L441.6,80.1L442.9,87.1L444.5,87.7L460.3,86.5L460.3,79.4Z" fill="url(#v92)" stroke="#000" stroke-opacity="0.72" stroke-width="1.3" stroke-linejoin="round"/>
<path d="M359.8,120.6L349.9,128.6L349.8,129.2L377.8,129.2L374.0,123.9Z" fill="url(#v65)" stroke="#000" stroke-opacity="0.72" stroke-width="1.3" stroke-linejoin="round"/>
<path d="M411.1,110.2L396.5,110.1L390.4,115.6L394.4,119.8L401.2,121.6L411.2,119.8Z" fill="url(#v90)" stroke="#000" stroke-opacity="0.72" stroke-width="1.3" stroke-linejoin="round"/>
<path d="M394.2,63.0L408.6,56.3L417.7,59.9L418.5,63.3L408.1,68.5L399.5,68.2Z" fill="url(#v80)" stroke="#000" stroke-opacity="0.72" stroke-width="1.3" stroke-linejoin="round"/>
<path d="M329.4,22.8L317.3,21.9L317.3,12.2L331.3,13.5L337.6,19.4Z" fill="url(#v89)" stroke="#000" stroke-opacity="0.72" stroke-width="1.3" stroke-linejoin="round"/>
<path d="M371.7,5.8L385.7,10.2L393.3,6.2L391.2,-2.2L373.4,-2.2Z" fill="url(#v71)" stroke="#000" stroke-opacity="0.72" stroke-width="1.3" stroke-linejoin="round"/>
<path d="M369.1,53.7L363.1,54.1L351.2,47.2L357.6,44.0L371.9,44.8L374.4,47.2Z" fill="url(#v106)" stroke="#000" stroke-opacity="0.72" stroke-width="1.3" stroke-linejoin="round"/>
<path d="M445.2,71.4L460.3,70.2L460.3,59.9L439.9,64.8L437.9,67.0Z" fill="url(#v86)" stroke="#000" stroke-opacity="0.72" stroke-width="1.3" stroke-linejoin="round"/>
<path d="M365.0,8.5L366.2,16.4L360.4,19.5L348.7,17.8L349.4,8.0L352.7,6.7Z" fill="url(#v70)" stroke="#000" stroke-opacity="0.72" stroke-width="1.3" stroke-linejoin="round"/>
<path d="M435.9,118.4L428.7,119.3L421.6,123.1L421.5,129.2L446.5,129.2L441.1,119.5Z" fill="url(#v87)" stroke="#000" stroke-opacity="0.72" stroke-width="1.3" stroke-linejoin="round"/>
<path d="M369.1,53.7L363.1,54.1L354.7,60.5L358.7,64.5L373.6,62.2L375.1,57.4Z" fill="url(#v92)" stroke="#000" stroke-opacity="0.72" stroke-width="1.3" stroke-linejoin="round"/>
<path d="M414.4,-2.2L404.6,8.0L393.3,6.2L391.2,-2.2Z" fill="url(#v63)" stroke="#000" stroke-opacity="0.72" stroke-width="1.3" stroke-linejoin="round"/>
<path d="M318.3,36.3L317.3,36.3L317.3,52.6L325.0,52.2L338.0,44.7L337.8,44.3Z" fill="url(#v77)" stroke="#000" stroke-opacity="0.72" stroke-width="1.3" stroke-linejoin="round"/>
<path d="M440.5,5.2L441.4,-2.2L460.3,-2.2L460.3,7.3L447.2,8.4Z" fill="url(#v70)" stroke="#000" stroke-opacity="0.72" stroke-width="1.3" stroke-linejoin="round"/>
<path d="M373.4,-2.2L352.5,-2.2L352.7,6.7L365.0,8.5L371.7,5.8Z" fill="url(#v51)" stroke="#000" stroke-opacity="0.72" stroke-width="1.3" stroke-linejoin="round"/>
<path d="M332.6,3.0L337.7,7.2L331.3,13.5L317.3,12.2L317.3,6.2Z" fill="url(#v101)" stroke="#000" stroke-opacity="0.72" stroke-width="1.3" stroke-linejoin="round"/>
<path d="M392.9,85.1L385.5,81.5L388.4,74.7L392.8,73.9L407.1,80.3L407.1,80.4L401.4,84.7Z" fill="url(#v81)" stroke="#000" stroke-opacity="0.72" stroke-width="1.3" stroke-linejoin="round"/>
<path d="M411.2,119.8L401.2,121.6L403.3,129.2L421.5,129.2L421.6,123.1Z" fill="url(#v85)" stroke="#000" stroke-opacity="0.72" stroke-width="1.3" stroke-linejoin="round"/>
<path d="M357.5,88.9L343.2,88.4L338.9,85.5L343.8,78.6L347.9,77.5L358.2,78.7Z" fill="url(#v81)" stroke="#000" stroke-opacity="0.72" stroke-width="1.3" stroke-linejoin="round"/>
<path d="M377.9,71.2L379.1,66.0L393.3,62.8L394.2,63.0L399.5,68.2L392.8,73.9L388.4,74.7Z" fill="url(#v104)" stroke="#000" stroke-opacity="0.72" stroke-width="1.3" stroke-linejoin="round"/>
<path d="M423.2,90.7L421.4,84.5L429.1,78.7L441.6,80.1L442.9,87.1L426.3,91.3Z" fill="url(#v68)" stroke="#000" stroke-opacity="0.72" stroke-width="1.3" stroke-linejoin="round"/>
<path d="M382.2,26.7L376.0,28.1L362.1,23.7L360.4,19.5L366.2,16.4L379.9,17.3L383.5,25.2Z" fill="url(#v81)" stroke="#000" stroke-opacity="0.72" stroke-width="1.3" stroke-linejoin="round"/>
<path d="M437.9,67.0L439.9,64.8L436.4,56.0L426.9,55.6L417.7,59.9L418.5,63.3L429.9,67.9Z" fill="url(#v76)" stroke="#000" stroke-opacity="0.72" stroke-width="1.3" stroke-linejoin="round"/>
<path d="M332.3,107.9L317.3,108.0L317.3,95.1L318.6,95.1L324.1,96.6L333.1,106.4Z" fill="url(#v52)" stroke="#000" stroke-opacity="0.72" stroke-width="1.3" stroke-linejoin="round"/>
<path d="M381.2,115.7L390.4,115.6L394.4,119.8L383.9,129.2L377.8,129.2L374.0,123.9Z" fill="url(#v92)" stroke="#000" stroke-opacity="0.72" stroke-width="1.3" stroke-linejoin="round"/>
<path d="M337.6,19.4L331.3,13.5L337.7,7.2L349.4,8.0L348.7,17.8L341.5,19.7Z" fill="url(#v74)" stroke="#000" stroke-opacity="0.72" stroke-width="1.3" stroke-linejoin="round"/>
<path d="M387.3,93.4L381.8,94.2L378.1,98.0L380.9,103.2L393.1,106.0L399.8,99.1L396.9,95.6Z" fill="url(#v58)" stroke="#000" stroke-opacity="0.72" stroke-width="1.3" stroke-linejoin="round"/>
<path d="M425.1,9.0L417.1,-2.2L441.4,-2.2L440.5,5.2L428.7,9.3Z" fill="url(#v79)" stroke="#000" stroke-opacity="0.72" stroke-width="1.3" stroke-linejoin="round"/>
<path d="M345.5,101.8L333.1,106.4L324.1,96.6L340.6,95.6L346.1,99.0Z" fill="url(#v84)" stroke="#000" stroke-opacity="0.72" stroke-width="1.3" stroke-linejoin="round"/>
<path d="M345.5,101.8L355.7,107.9L361.5,106.0L364.2,98.4L359.3,96.0L346.1,99.0Z" fill="url(#v77)" stroke="#000" stroke-opacity="0.72" stroke-width="1.3" stroke-linejoin="round"/>
<path d="M442.6,17.7L441.3,25.2L450.2,29.5L460.3,29.6L460.3,18.9L446.9,16.5Z" fill="url(#v70)" stroke="#000" stroke-opacity="0.72" stroke-width="1.3" stroke-linejoin="round"/>
<path d="M333.8,65.1L334.4,66.2L330.0,73.7L317.3,77.1L317.3,63.1Z" fill="url(#v50)" stroke="#000" stroke-opacity="0.72" stroke-width="1.3" stroke-linejoin="round"/>
<path d="M445.8,107.7L446.8,106.4L440.7,99.6L434.9,99.2L424.1,106.0L435.9,110.1Z" fill="url(#v98)" stroke="#000" stroke-opacity="0.72" stroke-width="1.3" stroke-linejoin="round"/>
<path d="M450.2,29.5L434.7,36.9L435.5,37.8L458.0,42.8L460.3,42.6L460.3,29.6Z" fill="url(#v49)" stroke="#000" stroke-opacity="0.72" stroke-width="1.3" stroke-linejoin="round"/>
<path d="M367.3,73.7L358.2,66.2L358.7,64.5L373.6,62.2L379.1,66.0L377.9,71.2Z" fill="url(#v70)" stroke="#000" stroke-opacity="0.72" stroke-width="1.3" stroke-linejoin="round"/>
<path d="M334.1,-2.2L317.3,-2.2L317.3,6.2L332.6,3.0Z" fill="url(#v82)" stroke="#000" stroke-opacity="0.72" stroke-width="1.3" stroke-linejoin="round"/>
<path d="M460.3,70.2L445.2,71.4L443.5,79.0L460.3,79.4Z" fill="url(#v106)" stroke="#000" stroke-opacity="0.72" stroke-width="1.3" stroke-linejoin="round"/>
<path d="M364.8,77.0L358.2,78.7L357.5,88.9L359.3,89.8L373.3,87.9L375.6,83.4Z" fill="url(#v71)" stroke="#000" stroke-opacity="0.72" stroke-width="1.3" stroke-linejoin="round"/>
<path d="M317.3,129.2L324.5,129.2L331.4,120.7L326.3,117.0L317.3,116.9Z" fill="url(#v86)" stroke="#000" stroke-opacity="0.72" stroke-width="1.3" stroke-linejoin="round"/>
<path d="M392.9,85.1L385.5,81.5L375.6,83.4L373.3,87.9L381.8,94.2L387.3,93.4Z" fill="url(#v89)" stroke="#000" stroke-opacity="0.72" stroke-width="1.3" stroke-linejoin="round"/>
<path d="M385.7,13.2L379.9,17.3L383.5,25.2L401.1,22.1L399.6,17.3Z" fill="url(#v53)" stroke="#000" stroke-opacity="0.72" stroke-width="1.3" stroke-linejoin="round"/>
<path d="M446.9,16.5L447.2,8.4L460.3,7.3L460.3,18.9Z" fill="url(#v69)" stroke="#000" stroke-opacity="0.72" stroke-width="1.3" stroke-linejoin="round"/>
<path d="M460.3,96.9L460.3,86.5L444.5,87.7L449.0,95.9Z" fill="url(#v81)" stroke="#000" stroke-opacity="0.72" stroke-width="1.3" stroke-linejoin="round"/>
<path d="M329.4,22.8L337.6,19.4L341.5,19.7L347.6,32.1L330.4,31.3Z" fill="url(#v85)" stroke="#000" stroke-opacity="0.72" stroke-width="1.3" stroke-linejoin="round"/>
<path d="M326.3,117.0L317.3,116.9L317.3,108.0L332.3,107.9L333.7,110.0Z" fill="url(#v61)" stroke="#000" stroke-opacity="0.72" stroke-width="1.3" stroke-linejoin="round"/>
<path d="M374.4,47.2L371.9,44.8L375.2,38.5L393.0,38.2L393.0,48.5Z" fill="url(#v54)" stroke="#000" stroke-opacity="0.72" stroke-width="1.3" stroke-linejoin="round"/>
<path d="M429.1,78.7L421.4,84.5L407.1,80.4L407.1,80.3L413.2,74.7L425.5,74.7Z" fill="url(#v71)" stroke="#000" stroke-opacity="0.72" stroke-width="1.3" stroke-linejoin="round"/>
<path d="M358.9,116.6L375.3,113.3L381.2,115.7L374.0,123.9L359.8,120.6Z" fill="url(#v74)" stroke="#000" stroke-opacity="0.72" stroke-width="1.3" stroke-linejoin="round"/>
<path d="M361.5,106.0L373.6,108.1L380.9,103.2L378.1,98.0L364.2,98.4Z" fill="url(#v66)" stroke="#000" stroke-opacity="0.72" stroke-width="1.3" stroke-linejoin="round"/>
<path d="M396.9,95.6L399.8,99.1L413.2,100.5L418.4,92.2L406.1,90.5Z" fill="url(#v41)" stroke="#000" stroke-opacity="0.72" stroke-width="1.3" stroke-linejoin="round"/>
<path d="M379.1,66.0L373.6,62.2L375.1,57.4L386.9,56.1L393.3,62.8Z" fill="url(#v98)" stroke="#000" stroke-opacity="0.72" stroke-width="1.3" stroke-linejoin="round"/>
<path d="M416.5,28.0L408.3,24.4L418.2,18.7L427.0,20.2L429.4,26.4L429.1,26.8Z" fill="url(#v54)" stroke="#000" stroke-opacity="0.72" stroke-width="1.3" stroke-linejoin="round"/>
<path d="M401.2,121.6L394.4,119.8L383.9,129.2L403.3,129.2Z" fill="url(#v102)" stroke="#000" stroke-opacity="0.72" stroke-width="1.3" stroke-linejoin="round"/>
<path d="M442.6,17.7L434.6,16.6L427.0,20.2L429.4,26.4L441.3,25.2Z" fill="url(#v78)" stroke="#000" stroke-opacity="0.72" stroke-width="1.3" stroke-linejoin="round"/>
<path d="M445.8,107.7L446.8,106.4L460.3,104.3L460.3,115.9L453.3,115.5Z" fill="url(#v85)" stroke="#000" stroke-opacity="0.72" stroke-width="1.3" stroke-linejoin="round"/>
<path d="M318.6,95.1L333.2,85.7L317.3,78.4L317.3,95.1Z" fill="url(#v84)" stroke="#000" stroke-opacity="0.72" stroke-width="1.3" stroke-linejoin="round"/>
<ellipse cx="332.1" cy="31.4" rx="8.0" ry="8.0" fill="url(#gk)" opacity="0.5"/>
<ellipse cx="390.1" cy="45.5" rx="6.9" ry="6.9" fill="url(#gk)" opacity="0.45"/>
<ellipse cx="330.3" cy="77.6" rx="9.1" ry="9.1" fill="url(#gk)" opacity="0.6"/>
<ellipse cx="391.9" cy="72.3" rx="6.9" ry="6.9" fill="url(#gk)" opacity="0.5"/>
<ellipse cx="409.5" cy="79.3" rx="6.9" ry="6.9" fill="url(#gk)" opacity="0.45"/>
<ellipse cx="442.9" cy="81.1" rx="6.9" ry="6.9" fill="url(#gk)" opacity="0.45"/>
</g></g>
<clipPath id="cpc2"><rect x="330.3" y="122.0" width="117.0" height="116.7"/></clipPath>
<g clip-path="url(#cpc2)">
<filter id="blc2" x="-5%" y="-5%" width="110%" height="110%"><feGaussianBlur stdDeviation="1.6"/></filter>
<g filter="url(#blc2)" style="isolation:isolate">
<rect x="326.3" y="118.0" width="125.0" height="124.7" fill="rgb(51,51,51)"/>
<path d="M408.2,143.0L405.0,157.8L409.2,163.8L417.7,161.1L419.4,153.2L416.0,141.2L411.4,139.9Z" fill="url(#v114)" stroke="#000" stroke-opacity="0.72" stroke-width="1.3" stroke-linejoin="round"/>
<path d="M389.1,135.9L392.3,125.2L390.3,107.5L383.3,107.5L382.1,129.7Z" fill="url(#v102)" stroke="#000" stroke-opacity="0.72" stroke-width="1.3" stroke-linejoin="round"/>
<path d="M400.5,129.4L392.3,125.2L389.1,135.9L389.3,137.7L396.3,146.3L400.8,135.8Z" fill="url(#v73)" stroke="#000" stroke-opacity="0.72" stroke-width="1.3" stroke-linejoin="round"/>
<path d="M389.3,137.7L384.5,150.3L376.9,144.1L375.6,136.9L382.1,129.7L389.1,135.9Z" fill="url(#v67)" stroke="#000" stroke-opacity="0.72" stroke-width="1.3" stroke-linejoin="round"/>
<path d="M364.9,158.1L373.8,158.1L376.9,144.1L375.6,136.9L373.7,134.8L373.4,134.8L366.8,142.2Z" fill="url(#v67)" stroke="#000" stroke-opacity="0.72" stroke-width="1.3" stroke-linejoin="round"/>
<path d="M364.5,158.6L363.7,162.6L365.1,174.9L373.7,180.6L376.4,176.5L377.1,167.1L373.8,158.1L364.9,158.1Z" fill="url(#v73)" stroke="#000" stroke-opacity="0.72" stroke-width="1.3" stroke-linejoin="round"/>
<path d="M376.4,176.5L383.3,181.6L386.8,177.4L387.6,161.7L385.9,159.6L377.1,167.1Z" fill="url(#v96)" stroke="#000" stroke-opacity="0.72" stroke-width="1.3" stroke-linejoin="round"/>
<path d="M403.3,158.2L397.9,175.9L391.2,161.2L396.6,150.2Z" fill="url(#v67)" stroke="#000" stroke-opacity="0.72" stroke-width="1.3" stroke-linejoin="round"/>
<path d="M364.5,158.6L363.7,162.6L352.6,167.2L349.9,158.5L350.1,155.3L352.5,149.7L357.5,148.0Z" fill="url(#v67)" stroke="#000" stroke-opacity="0.72" stroke-width="1.3" stroke-linejoin="round"/>
<path d="M342.2,179.6L341.1,178.2L339.7,170.1L341.0,164.5L349.9,158.5L352.6,167.2L351.9,176.0Z" fill="url(#v73)" stroke="#000" stroke-opacity="0.72" stroke-width="1.3" stroke-linejoin="round"/>
<path d="M330.8,167.5L339.7,170.1L341.0,164.5L338.3,152.2L332.1,150.3Z" fill="url(#v61)" stroke="#000" stroke-opacity="0.72" stroke-width="1.3" stroke-linejoin="round"/>
<path d="M363.7,162.6L352.6,167.2L351.9,176.0L354.8,184.6L359.3,188.2L365.1,174.9Z" fill="url(#v67)" stroke="#000" stroke-opacity="0.72" stroke-width="1.3" stroke-linejoin="round"/>
<path d="M429.0,150.7L430.3,133.3L421.0,125.6L420.7,125.9L416.0,141.2L419.4,153.2Z" fill="url(#v73)" stroke="#000" stroke-opacity="0.72" stroke-width="1.3" stroke-linejoin="round"/>
<path d="M443.1,139.7L442.8,138.2L432.5,130.5L430.3,133.3L429.0,150.7L432.2,156.6L438.1,155.1Z" fill="url(#v79)" stroke="#000" stroke-opacity="0.72" stroke-width="1.3" stroke-linejoin="round"/>
<path d="M426.6,178.0L431.0,171.5L432.2,156.6L429.0,150.7L419.4,153.2L417.7,161.1L420.7,176.6Z" fill="url(#v73)" stroke="#000" stroke-opacity="0.72" stroke-width="1.3" stroke-linejoin="round"/>
<path d="M443.9,165.9L443.7,170.5L438.7,179.3L431.0,171.5L432.2,156.6L438.1,155.1Z" fill="url(#v79)" stroke="#000" stroke-opacity="0.72" stroke-width="1.3" stroke-linejoin="round"/>
<path d="M454.8,153.1L443.9,165.9L438.1,155.1L443.1,139.7L454.8,150.4Z" fill="url(#v67)" stroke="#000" stroke-opacity="0.72" stroke-width="1.3" stroke-linejoin="round"/>
<path d="M409.3,181.3L408.2,178.2L409.2,163.8L417.7,161.1L420.7,176.6L419.1,180.1Z" fill="url(#v67)" stroke="#000" stroke-opacity="0.72" stroke-width="1.3" stroke-linejoin="round"/>
<path d="M400.5,129.4L400.8,135.8L408.2,143.0L411.4,139.9L408.2,123.1L401.9,125.6Z" fill="url(#v67)" stroke="#000" stroke-opacity="0.72" stroke-width="1.3" stroke-linejoin="round"/>
<path d="M435.8,107.5L432.5,130.5L442.8,138.2L445.1,126.6L439.0,107.5Z" fill="url(#v67)" stroke="#000" stroke-opacity="0.72" stroke-width="1.3" stroke-linejoin="round"/>
<path d="M342.5,137.4L345.7,131.9L350.6,134.0L352.5,149.7L350.1,155.3L342.4,144.0Z" fill="url(#v61)" stroke="#000" stroke-opacity="0.72" stroke-width="1.3" stroke-linejoin="round"/>
<path d="M404.3,223.4L408.9,232.8L417.2,231.3L419.5,219.8L418.7,216.5L413.8,210.6L407.2,213.0Z" fill="url(#v114)" stroke="#000" stroke-opacity="0.72" stroke-width="1.3" stroke-linejoin="round"/>
<path d="M360.2,199.0L360.6,194.3L373.2,194.3L375.3,202.3L375.1,205.1L365.5,209.6Z" fill="url(#v96)" stroke="#000" stroke-opacity="0.72" stroke-width="1.3" stroke-linejoin="round"/>
<path d="M375.1,205.1L377.0,216.5L387.0,219.4L387.3,198.2L384.4,195.5L375.3,202.3Z" fill="url(#v79)" stroke="#000" stroke-opacity="0.72" stroke-width="1.3" stroke-linejoin="round"/>
<path d="M365.5,209.6L375.1,205.1L377.0,216.5L374.6,224.2L364.9,224.2L364.3,222.3Z" fill="url(#v73)" stroke="#000" stroke-opacity="0.72" stroke-width="1.3" stroke-linejoin="round"/>
<path d="M333.1,188.3L341.1,178.2L342.2,179.6L345.2,201.1L345.0,202.7L334.3,199.1Z" fill="url(#v67)" stroke="#000" stroke-opacity="0.72" stroke-width="1.3" stroke-linejoin="round"/>
<path d="M334.3,199.1L345.0,202.7L345.3,204.0L344.5,211.7L339.5,220.0L333.0,217.6L330.1,208.8Z" fill="url(#v67)" stroke="#000" stroke-opacity="0.72" stroke-width="1.3" stroke-linejoin="round"/>
<path d="M339.5,220.0L340.4,234.5L334.4,239.5L330.7,229.3L333.0,217.6Z" fill="url(#v85)" stroke="#000" stroke-opacity="0.72" stroke-width="1.3" stroke-linejoin="round"/>
<path d="M360.2,199.0L360.6,194.3L359.3,188.2L354.8,184.6L345.2,201.1L345.0,202.7L345.3,204.0L355.8,207.9Z" fill="url(#v73)" stroke="#000" stroke-opacity="0.72" stroke-width="1.3" stroke-linejoin="round"/>
<path d="M348.9,223.3L344.5,211.7L345.3,204.0L355.8,207.9L356.6,218.3L354.5,223.3Z" fill="url(#v67)" stroke="#000" stroke-opacity="0.72" stroke-width="1.3" stroke-linejoin="round"/>
<path d="M356.0,235.6L354.5,223.3L348.9,223.3L346.6,234.3L351.0,240.1Z" fill="url(#v61)" stroke="#000" stroke-opacity="0.72" stroke-width="1.3" stroke-linejoin="round"/>
<path d="M387.0,219.4L387.6,220.4L388.8,226.6L388.1,232.0L383.0,241.1L375.4,233.9L374.6,224.2L377.0,216.5Z" fill="url(#v67)" stroke="#000" stroke-opacity="0.72" stroke-width="1.3" stroke-linejoin="round"/>
<path d="M401.6,223.7L398.5,228.4L388.8,226.6L387.6,220.4L396.5,208.9Z" fill="url(#v61)" stroke="#000" stroke-opacity="0.72" stroke-width="1.3" stroke-linejoin="round"/>
<path d="M403.3,198.5L403.5,197.6L397.1,180.4L394.1,183.5L391.4,195.7L396.8,205.2Z" fill="url(#v73)" stroke="#000" stroke-opacity="0.72" stroke-width="1.3" stroke-linejoin="round"/>
<path d="M408.1,192.3L403.5,197.6L403.3,198.5L407.2,213.0L413.8,210.6L413.2,197.6Z" fill="url(#v67)" stroke="#000" stroke-opacity="0.72" stroke-width="1.3" stroke-linejoin="round"/>
<path d="M419.1,180.1L420.7,176.6L426.6,178.0L428.8,189.7L426.6,198.7L422.4,200.3L418.4,191.8Z" fill="url(#v73)" stroke="#000" stroke-opacity="0.72" stroke-width="1.3" stroke-linejoin="round"/>
<path d="M426.6,198.7L432.3,212.0L429.2,219.8L419.5,219.8L418.7,216.5L422.4,200.3Z" fill="url(#v73)" stroke="#000" stroke-opacity="0.72" stroke-width="1.3" stroke-linejoin="round"/>
<path d="M437.6,234.5L441.2,229.3L441.9,223.0L434.3,210.8L432.3,212.0L429.2,219.8L431.3,231.6Z" fill="url(#v73)" stroke="#000" stroke-opacity="0.72" stroke-width="1.3" stroke-linejoin="round"/>
<path d="M439.0,186.3L435.5,192.2L435.6,207.2L444.4,202.3L444.6,193.4Z" fill="url(#v67)" stroke="#000" stroke-opacity="0.72" stroke-width="1.3" stroke-linejoin="round"/>
<path d="M431.3,231.6L429.2,219.8L419.5,219.8L417.2,231.3L417.7,233.0L427.5,242.4Z" fill="url(#v67)" stroke="#000" stroke-opacity="0.72" stroke-width="1.3" stroke-linejoin="round"/>
<path d="M375.3,202.3L384.4,195.5L383.3,181.6L376.4,176.5L373.7,180.6L373.2,194.3Z" fill="url(#v67)" stroke="#000" stroke-opacity="0.72" stroke-width="1.3" stroke-linejoin="round"/>
<path d="M360.6,194.3L359.3,188.2L365.1,174.9L373.7,180.6L373.2,194.3Z" fill="url(#v79)" stroke="#000" stroke-opacity="0.72" stroke-width="1.3" stroke-linejoin="round"/>
<path d="M446.7,238.1L444.1,253.2L438.6,253.2L437.6,234.5L441.2,229.3Z" fill="url(#v69)" stroke="#000" stroke-opacity="0.72" stroke-width="1.3" stroke-linejoin="round"/>
<path d="M333.9,132.0L334.3,131.3L334.6,123.6L328.6,107.5L322.8,107.5L322.8,131.8Z" fill="url(#v53)" stroke="#000" stroke-opacity="0.72" stroke-width="1.3" stroke-linejoin="round"/>
<path d="M373.7,134.8L373.4,134.8L365.7,122.2L369.3,107.5L375.7,107.5Z" fill="url(#v45)" stroke="#000" stroke-opacity="0.72" stroke-width="1.3" stroke-linejoin="round"/>
<path d="M342.5,137.4L345.7,131.9L345.0,123.3L341.1,117.7L334.6,123.6L334.3,131.3Z" fill="url(#v32)" stroke="#000" stroke-opacity="0.72" stroke-width="1.3" stroke-linejoin="round"/>
<path d="M359.5,136.5L353.6,130.7L355.7,114.9L363.2,123.7L361.3,135.1Z" fill="url(#v60)" stroke="#000" stroke-opacity="0.72" stroke-width="1.3" stroke-linejoin="round"/>
<path d="M398.5,228.4L388.8,226.6L388.1,232.0L396.8,253.2L398.5,253.2Z" fill="url(#v50)" stroke="#000" stroke-opacity="0.72" stroke-width="1.3" stroke-linejoin="round"/>
<path d="M351.0,240.1L350.5,253.2L343.8,253.2L342.6,236.4L346.6,234.3Z" fill="url(#v70)" stroke="#000" stroke-opacity="0.72" stroke-width="1.3" stroke-linejoin="round"/>
<path d="M408.9,232.8L417.2,231.3L417.7,233.0L416.5,253.2L404.8,253.2Z" fill="url(#v60)" stroke="#000" stroke-opacity="0.72" stroke-width="1.3" stroke-linejoin="round"/>
<path d="M355.7,114.9L354.2,107.5L353.6,107.5L345.0,123.3L345.7,131.9L350.6,134.0L353.6,130.7Z" fill="url(#v43)" stroke="#000" stroke-opacity="0.72" stroke-width="1.3" stroke-linejoin="round"/>
<path d="M363.4,234.9L364.9,224.2L374.6,224.2L375.4,233.9L370.4,245.8Z" fill="url(#v61)" stroke="#000" stroke-opacity="0.72" stroke-width="1.3" stroke-linejoin="round"/>
<path d="M423.3,107.5L409.9,107.5L410.4,116.9L420.7,125.9L421.0,125.6Z" fill="url(#v69)" stroke="#000" stroke-opacity="0.72" stroke-width="1.3" stroke-linejoin="round"/>
<path d="M331.9,150.0L333.9,132.0L334.3,131.3L342.5,137.4L342.4,144.0L338.3,152.2L332.1,150.3Z" fill="url(#v41)" stroke="#000" stroke-opacity="0.72" stroke-width="1.3" stroke-linejoin="round"/>
<path d="M356.0,235.6L354.5,223.3L356.6,218.3L364.3,222.3L364.9,224.2L363.4,234.9L359.4,238.6Z" fill="url(#v33)" stroke="#000" stroke-opacity="0.72" stroke-width="1.3" stroke-linejoin="round"/>
<path d="M454.8,184.5L452.1,184.4L444.6,193.4L444.4,202.3L445.4,204.5L454.8,207.0Z" fill="url(#v71)" stroke="#000" stroke-opacity="0.72" stroke-width="1.3" stroke-linejoin="round"/>
<path d="M348.9,223.3L344.5,211.7L339.5,220.0L340.4,234.5L342.6,236.4L346.6,234.3Z" fill="url(#v64)" stroke="#000" stroke-opacity="0.72" stroke-width="1.3" stroke-linejoin="round"/>
<path d="M331.7,186.5L322.8,190.0L322.8,208.1L330.1,208.8L334.3,199.1L333.1,188.3Z" fill="url(#v73)" stroke="#000" stroke-opacity="0.72" stroke-width="1.3" stroke-linejoin="round"/>
<path d="M384.5,150.3L385.9,159.6L377.1,167.1L373.8,158.1L376.9,144.1Z" fill="url(#v56)" stroke="#000" stroke-opacity="0.72" stroke-width="1.3" stroke-linejoin="round"/>
<path d="M409.3,181.3L408.2,178.2L397.9,177.0L397.1,180.4L403.5,197.6L408.1,192.3Z" fill="url(#v58)" stroke="#000" stroke-opacity="0.72" stroke-width="1.3" stroke-linejoin="round"/>
<path d="M454.8,253.2L444.1,253.2L446.7,238.1L454.8,233.5Z" fill="url(#v75)" stroke="#000" stroke-opacity="0.72" stroke-width="1.3" stroke-linejoin="round"/>
<path d="M408.2,178.2L409.2,163.8L405.0,157.8L403.3,158.2L397.9,175.9L397.9,177.0Z" fill="url(#v87)" stroke="#000" stroke-opacity="0.72" stroke-width="1.3" stroke-linejoin="round"/>
<path d="M404.3,223.4L408.9,232.8L404.8,253.2L398.5,253.2L398.5,228.4L401.6,223.7Z" fill="url(#v58)" stroke="#000" stroke-opacity="0.72" stroke-width="1.3" stroke-linejoin="round"/>
<path d="M454.8,207.0L454.8,223.4L444.6,219.9L445.4,204.5Z" fill="url(#v85)" stroke="#000" stroke-opacity="0.72" stroke-width="1.3" stroke-linejoin="round"/>
<path d="M329.1,169.9L331.7,186.5L333.1,188.3L341.1,178.2L339.7,170.1L330.8,167.5Z" fill="url(#v42)" stroke="#000" stroke-opacity="0.72" stroke-width="1.3" stroke-linejoin="round"/>
<path d="M394.1,183.5L386.8,177.4L383.3,181.6L384.4,195.5L387.3,198.2L391.4,195.7Z" fill="url(#v64)" stroke="#000" stroke-opacity="0.72" stroke-width="1.3" stroke-linejoin="round"/>
<path d="M445.1,126.6L454.8,121.1L454.8,107.5L439.0,107.5Z" fill="url(#v65)" stroke="#000" stroke-opacity="0.72" stroke-width="1.3" stroke-linejoin="round"/>
<path d="M389.3,137.7L396.3,146.3L396.6,150.2L391.2,161.2L387.6,161.7L385.9,159.6L384.5,150.3Z" fill="url(#v68)" stroke="#000" stroke-opacity="0.72" stroke-width="1.3" stroke-linejoin="round"/>
<path d="M383.0,241.1L388.1,232.0L396.8,253.2L383.1,253.2Z" fill="url(#v42)" stroke="#000" stroke-opacity="0.72" stroke-width="1.3" stroke-linejoin="round"/>
<path d="M411.4,139.9L416.0,141.2L420.7,125.9L410.4,116.9L408.2,123.1Z" fill="url(#v89)" stroke="#000" stroke-opacity="0.72" stroke-width="1.3" stroke-linejoin="round"/>
<path d="M329.1,169.9L322.8,169.4L322.8,147.0L331.9,150.0L332.1,150.3L330.8,167.5Z" fill="url(#v65)" stroke="#000" stroke-opacity="0.72" stroke-width="1.3" stroke-linejoin="round"/>
<path d="M443.9,165.9L443.7,170.5L452.1,184.4L454.8,184.5L454.8,153.1Z" fill="url(#v54)" stroke="#000" stroke-opacity="0.72" stroke-width="1.3" stroke-linejoin="round"/>
<path d="M443.1,139.7L442.8,138.2L445.1,126.6L454.8,121.1L454.8,150.4Z" fill="url(#v82)" stroke="#000" stroke-opacity="0.72" stroke-width="1.3" stroke-linejoin="round"/>
<path d="M334.4,239.5L340.4,234.5L342.6,236.4L343.8,253.2L331.6,253.2Z" fill="url(#v54)" stroke="#000" stroke-opacity="0.72" stroke-width="1.3" stroke-linejoin="round"/>
<path d="M446.7,238.1L454.8,233.5L454.8,223.4L444.6,219.9L441.9,223.0L441.2,229.3Z" fill="url(#v69)" stroke="#000" stroke-opacity="0.72" stroke-width="1.3" stroke-linejoin="round"/>
<path d="M438.7,179.3L431.0,171.5L426.6,178.0L428.8,189.7L435.5,192.2L439.0,186.3Z" fill="url(#v32)" stroke="#000" stroke-opacity="0.72" stroke-width="1.3" stroke-linejoin="round"/>
<path d="M432.5,130.5L430.3,133.3L421.0,125.6L423.3,107.5L435.8,107.5Z" fill="url(#v59)" stroke="#000" stroke-opacity="0.72" stroke-width="1.3" stroke-linejoin="round"/>
<path d="M329.1,169.9L322.8,169.4L322.8,190.0L331.7,186.5Z" fill="url(#v67)" stroke="#000" stroke-opacity="0.72" stroke-width="1.3" stroke-linejoin="round"/>
<path d="M401.9,125.6L400.5,129.4L392.3,125.2L390.3,107.5L399.0,107.5Z" fill="url(#v44)" stroke="#000" stroke-opacity="0.72" stroke-width="1.3" stroke-linejoin="round"/>
<path d="M331.9,150.0L333.9,132.0L322.8,131.8L322.8,147.0Z" fill="url(#v55)" stroke="#000" stroke-opacity="0.72" stroke-width="1.3" stroke-linejoin="round"/>
<path d="M437.6,234.5L438.6,253.2L428.3,253.2L427.5,242.4L431.3,231.6Z" fill="url(#v53)" stroke="#000" stroke-opacity="0.72" stroke-width="1.3" stroke-linejoin="round"/>
<path d="M370.4,245.8L370.5,253.2L383.1,253.2L383.0,241.1L375.4,233.9Z" fill="url(#v66)" stroke="#000" stroke-opacity="0.72" stroke-width="1.3" stroke-linejoin="round"/>
<path d="M401.9,125.6L399.0,107.5L409.9,107.5L410.4,116.9L408.2,123.1Z" fill="url(#v66)" stroke="#000" stroke-opacity="0.72" stroke-width="1.3" stroke-linejoin="round"/>
<path d="M359.5,136.5L357.5,148.0L364.5,158.6L364.9,158.1L366.8,142.2L361.3,135.1Z" fill="url(#v71)" stroke="#000" stroke-opacity="0.72" stroke-width="1.3" stroke-linejoin="round"/>
<path d="M356.0,235.6L351.0,240.1L350.5,253.2L359.1,253.2L359.4,238.6Z" fill="url(#v80)" stroke="#000" stroke-opacity="0.72" stroke-width="1.3" stroke-linejoin="round"/>
<path d="M322.8,253.2L322.8,230.5L330.7,229.3L334.4,239.5L331.6,253.2Z" fill="url(#v23)" stroke="#000" stroke-opacity="0.72" stroke-width="1.3" stroke-linejoin="round"/>
<path d="M330.1,208.8L333.0,217.6L330.7,229.3L322.8,230.5L322.8,208.1Z" fill="url(#v40)" stroke="#000" stroke-opacity="0.72" stroke-width="1.3" stroke-linejoin="round"/>
<path d="M363.2,123.7L365.7,122.2L369.3,107.5L354.2,107.5L355.7,114.9Z" fill="url(#v60)" stroke="#000" stroke-opacity="0.72" stroke-width="1.3" stroke-linejoin="round"/>
<path d="M427.5,242.4L417.7,233.0L416.5,253.2L428.3,253.2Z" fill="url(#v37)" stroke="#000" stroke-opacity="0.72" stroke-width="1.3" stroke-linejoin="round"/>
<path d="M359.4,238.6L363.4,234.9L370.4,245.8L370.5,253.2L359.1,253.2Z" fill="url(#v65)" stroke="#000" stroke-opacity="0.72" stroke-width="1.3" stroke-linejoin="round"/>
<path d="M382.1,129.7L383.3,107.5L375.7,107.5L373.7,134.8L375.6,136.9Z" fill="url(#v39)" stroke="#000" stroke-opacity="0.72" stroke-width="1.3" stroke-linejoin="round"/>
<path d="M397.1,180.4L394.1,183.5L386.8,177.4L387.6,161.7L391.2,161.2L397.9,175.9L397.9,177.0Z" fill="url(#v56)" stroke="#000" stroke-opacity="0.72" stroke-width="1.3" stroke-linejoin="round"/>
<path d="M334.6,123.6L328.6,107.5L341.1,107.5L341.1,117.7Z" fill="url(#v52)" stroke="#000" stroke-opacity="0.72" stroke-width="1.3" stroke-linejoin="round"/>
<path d="M408.2,143.0L405.0,157.8L403.3,158.2L396.6,150.2L396.3,146.3L400.8,135.8Z" fill="url(#v76)" stroke="#000" stroke-opacity="0.72" stroke-width="1.3" stroke-linejoin="round"/>
<path d="M409.3,181.3L419.1,180.1L418.4,191.8L413.2,197.6L408.1,192.3Z" fill="url(#v56)" stroke="#000" stroke-opacity="0.72" stroke-width="1.3" stroke-linejoin="round"/>
<path d="M438.7,179.3L443.7,170.5L452.1,184.4L444.6,193.4L439.0,186.3Z" fill="url(#v44)" stroke="#000" stroke-opacity="0.72" stroke-width="1.3" stroke-linejoin="round"/>
<path d="M360.2,199.0L365.5,209.6L364.3,222.3L356.6,218.3L355.8,207.9Z" fill="url(#v39)" stroke="#000" stroke-opacity="0.72" stroke-width="1.3" stroke-linejoin="round"/>
<path d="M361.3,135.1L363.2,123.7L365.7,122.2L373.4,134.8L366.8,142.2Z" fill="url(#v90)" stroke="#000" stroke-opacity="0.72" stroke-width="1.3" stroke-linejoin="round"/>
<path d="M359.5,136.5L353.6,130.7L350.6,134.0L352.5,149.7L357.5,148.0Z" fill="url(#v79)" stroke="#000" stroke-opacity="0.72" stroke-width="1.3" stroke-linejoin="round"/>
<path d="M434.3,210.8L441.9,223.0L444.6,219.9L445.4,204.5L444.4,202.3L435.6,207.2Z" fill="url(#v51)" stroke="#000" stroke-opacity="0.72" stroke-width="1.3" stroke-linejoin="round"/>
<path d="M404.3,223.4L407.2,213.0L403.3,198.5L396.8,205.2L396.5,208.9L401.6,223.7Z" fill="url(#v37)" stroke="#000" stroke-opacity="0.72" stroke-width="1.3" stroke-linejoin="round"/>
<path d="M342.4,144.0L350.1,155.3L349.9,158.5L341.0,164.5L338.3,152.2Z" fill="url(#v69)" stroke="#000" stroke-opacity="0.72" stroke-width="1.3" stroke-linejoin="round"/>
<path d="M342.2,179.6L351.9,176.0L354.8,184.6L345.2,201.1Z" fill="url(#v58)" stroke="#000" stroke-opacity="0.72" stroke-width="1.3" stroke-linejoin="round"/>
<path d="M413.2,197.6L413.8,210.6L418.7,216.5L422.4,200.3L418.4,191.8Z" fill="url(#v76)" stroke="#000" stroke-opacity="0.72" stroke-width="1.3" stroke-linejoin="round"/>
<path d="M426.6,198.7L432.3,212.0L434.3,210.8L435.6,207.2L435.5,192.2L428.8,189.7Z" fill="url(#v65)" stroke="#000" stroke-opacity="0.72" stroke-width="1.3" stroke-linejoin="round"/>
<path d="M341.1,117.7L345.0,123.3L353.6,107.5L341.1,107.5Z" fill="url(#v40)" stroke="#000" stroke-opacity="0.72" stroke-width="1.3" stroke-linejoin="round"/>
<path d="M396.8,205.2L391.4,195.7L387.3,198.2L387.0,219.4L387.6,220.4L396.5,208.9Z" fill="url(#v36)" stroke="#000" stroke-opacity="0.72" stroke-width="1.3" stroke-linejoin="round"/>
<ellipse cx="340.9" cy="148.4" rx="5.7" ry="5.7" fill="url(#gk)" opacity="0.4"/>
<ellipse cx="363.7" cy="143.1" rx="5.7" ry="5.7" fill="url(#gk)" opacity="0.45"/>
<ellipse cx="400.7" cy="146.6" rx="5.7" ry="5.7" fill="url(#gk)" opacity="0.45"/>
<ellipse cx="418.3" cy="157.2" rx="5.7" ry="5.7" fill="url(#gk)" opacity="0.45"/>
<ellipse cx="430.6" cy="150.1" rx="5.7" ry="5.7" fill="url(#gk)" opacity="0.4"/>
<ellipse cx="442.9" cy="139.6" rx="5.7" ry="5.7" fill="url(#gk)" opacity="0.4"/>
<ellipse cx="358.4" cy="225.9" rx="6.9" ry="6.9" fill="url(#gk)" opacity="0.6"/>
<ellipse cx="391.9" cy="206.6" rx="6.9" ry="6.9" fill="url(#gk)" opacity="0.5"/>
<ellipse cx="346.1" cy="211.9" rx="5.7" ry="5.7" fill="url(#gk)" opacity="0.4"/>
</g></g>
<clipPath id="cpd1"><rect x="494.8" y="5.0" width="117.0" height="117.0"/></clipPath>
<g clip-path="url(#cpd1)">
<filter id="bld1" x="-5%" y="-5%" width="110%" height="110%"><feGaussianBlur stdDeviation="1.9"/></filter>
<g filter="url(#bld1)" style="isolation:isolate">
<rect x="490.8" y="1.0" width="125.0" height="125.0" fill="rgb(95,95,95)"/>
<path d="M534.5,9.6L538.3,12.3L548.6,12.1L554.6,2.8L550.8,-2.8L542.7,-2.8Z" fill="url(#v113)" stroke="#000" stroke-opacity="0.72" stroke-width="1.3" stroke-linejoin="round"/>
<path d="M541.0,45.1L530.3,43.3L527.3,41.2L529.6,35.3L538.8,31.8L548.5,34.3L548.8,41.4Z" fill="url(#v113)" stroke="#000" stroke-opacity="0.72" stroke-width="1.3" stroke-linejoin="round"/>
<path d="M529.6,35.3L518.2,27.6L525.9,21.6L534.8,21.3L538.8,23.6L538.8,31.8Z" fill="url(#v96)" stroke="#000" stroke-opacity="0.72" stroke-width="1.3" stroke-linejoin="round"/>
<path d="M527.3,41.2L511.7,42.7L508.5,31.4L513.1,27.9L518.2,27.6L529.6,35.3Z" fill="url(#v90)" stroke="#000" stroke-opacity="0.72" stroke-width="1.3" stroke-linejoin="round"/>
<path d="M511.7,42.7L508.5,31.4L497.2,31.6L492.2,37.1L499.9,44.1L511.3,43.0Z" fill="url(#v84)" stroke="#000" stroke-opacity="0.72" stroke-width="1.3" stroke-linejoin="round"/>
<path d="M510.3,56.7L502.1,56.5L494.2,48.7L499.9,44.1L511.3,43.0L514.3,53.6Z" fill="url(#v90)" stroke="#000" stroke-opacity="0.72" stroke-width="1.3" stroke-linejoin="round"/>
<path d="M530.3,43.3L527.0,53.8L514.3,53.6L511.3,43.0L511.7,42.7L527.3,41.2Z" fill="url(#v84)" stroke="#000" stroke-opacity="0.72" stroke-width="1.3" stroke-linejoin="round"/>
<path d="M546.4,54.6L546.0,55.0L530.0,56.0L527.0,53.8L530.3,43.3L541.0,45.1Z" fill="url(#v84)" stroke="#000" stroke-opacity="0.72" stroke-width="1.3" stroke-linejoin="round"/>
<path d="M558.1,53.1L558.1,43.7L548.8,41.4L541.0,45.1L546.4,54.6Z" fill="url(#v90)" stroke="#000" stroke-opacity="0.72" stroke-width="1.3" stroke-linejoin="round"/>
<path d="M548.5,34.3L557.8,31.1L557.8,31.0L551.3,22.2L538.8,23.6L538.8,31.8Z" fill="url(#v84)" stroke="#000" stroke-opacity="0.72" stroke-width="1.3" stroke-linejoin="round"/>
<path d="M570.7,22.1L581.9,13.4L581.9,11.0L572.8,7.7L569.4,8.1L559.5,17.1Z" fill="url(#v84)" stroke="#000" stroke-opacity="0.72" stroke-width="1.3" stroke-linejoin="round"/>
<path d="M577.5,28.0L572.2,26.0L570.7,22.1L581.9,13.4L589.1,20.0L584.6,26.8Z" fill="url(#v96)" stroke="#000" stroke-opacity="0.72" stroke-width="1.3" stroke-linejoin="round"/>
<path d="M602.8,18.3L602.0,19.6L589.1,20.0L581.9,13.4L581.9,11.0L592.9,7.4L595.1,7.8Z" fill="url(#v84)" stroke="#000" stroke-opacity="0.72" stroke-width="1.3" stroke-linejoin="round"/>
<path d="M621.3,11.8L605.0,5.9L595.1,7.8L602.8,18.3Z" fill="url(#v90)" stroke="#000" stroke-opacity="0.72" stroke-width="1.3" stroke-linejoin="round"/>
<path d="M570.3,40.5L577.5,38.1L577.5,28.0L572.2,26.0L557.8,31.0L557.8,31.1L567.8,40.3Z" fill="url(#v78)" stroke="#000" stroke-opacity="0.72" stroke-width="1.3" stroke-linejoin="round"/>
<path d="M589.4,40.8L595.3,36.2L593.5,29.8L584.6,26.8L577.5,28.0L577.5,38.1Z" fill="url(#v90)" stroke="#000" stroke-opacity="0.72" stroke-width="1.3" stroke-linejoin="round"/>
<path d="M608.5,36.2L609.9,35.1L608.0,25.9L604.9,24.8L593.5,29.8L595.3,36.2Z" fill="url(#v78)" stroke="#000" stroke-opacity="0.72" stroke-width="1.3" stroke-linejoin="round"/>
<path d="M561.4,54.0L558.1,53.1L558.1,43.7L567.8,40.3L570.3,40.5L573.1,49.1Z" fill="url(#v78)" stroke="#000" stroke-opacity="0.72" stroke-width="1.3" stroke-linejoin="round"/>
<path d="M582.8,51.8L590.8,43.4L589.4,40.8L577.5,38.1L570.3,40.5L573.1,49.1Z" fill="url(#v90)" stroke="#000" stroke-opacity="0.72" stroke-width="1.3" stroke-linejoin="round"/>
<path d="M582.8,51.8L593.9,56.5L600.4,53.9L600.4,46.8L590.8,43.4L582.8,51.8Z" fill="url(#v78)" stroke="#000" stroke-opacity="0.72" stroke-width="1.3" stroke-linejoin="round"/>
<path d="M600.4,53.9L600.4,46.8L610.9,44.6L624.3,49.0L624.3,49.9L610.9,56.4Z" fill="url(#v84)" stroke="#000" stroke-opacity="0.72" stroke-width="1.3" stroke-linejoin="round"/>
<path d="M497.5,21.2L482.4,11.8L504.3,8.7L510.2,13.4L505.0,20.4Z" fill="url(#v84)" stroke="#000" stroke-opacity="0.72" stroke-width="1.3" stroke-linejoin="round"/>
<path d="M530.7,103.1L519.5,106.4L517.1,109.6L519.0,114.6L535.9,116.3L541.0,109.1Z" fill="url(#v113)" stroke="#000" stroke-opacity="0.72" stroke-width="1.3" stroke-linejoin="round"/>
<path d="M598.6,117.1L598.6,107.9L581.3,104.5L578.3,105.7L577.8,108.5L585.6,116.6Z" fill="url(#v113)" stroke="#000" stroke-opacity="0.72" stroke-width="1.3" stroke-linejoin="round"/>
<path d="M512.0,79.6L504.3,70.6L482.3,76.8L482.3,78.3L499.9,85.0L511.4,81.8Z" fill="url(#v96)" stroke="#000" stroke-opacity="0.72" stroke-width="1.3" stroke-linejoin="round"/>
<path d="M511.4,81.8L499.9,85.0L498.9,90.6L509.1,96.6L512.4,96.6L515.0,95.1L515.0,84.0Z" fill="url(#v90)" stroke="#000" stroke-opacity="0.72" stroke-width="1.3" stroke-linejoin="round"/>
<path d="M482.9,97.3L498.9,90.6L509.1,96.6L500.1,102.5Z" fill="url(#v96)" stroke="#000" stroke-opacity="0.72" stroke-width="1.3" stroke-linejoin="round"/>
<path d="M515.5,65.0L504.6,69.8L504.3,70.6L512.0,79.6L526.1,73.5L524.4,66.2Z" fill="url(#v84)" stroke="#000" stroke-opacity="0.72" stroke-width="1.3" stroke-linejoin="round"/>
<path d="M527.0,64.9L524.4,66.2L526.1,73.5L535.7,77.9L544.2,73.1L542.1,65.9Z" fill="url(#v90)" stroke="#000" stroke-opacity="0.72" stroke-width="1.3" stroke-linejoin="round"/>
<path d="M546.3,63.1L560.8,66.0L559.1,72.9L554.9,74.7L544.2,73.1L542.1,65.9Z" fill="url(#v84)" stroke="#000" stroke-opacity="0.72" stroke-width="1.3" stroke-linejoin="round"/>
<path d="M540.2,95.1L533.9,94.8L532.8,94.0L531.1,85.9L536.1,81.6L553.0,85.3L553.4,88.8Z" fill="url(#v84)" stroke="#000" stroke-opacity="0.72" stroke-width="1.3" stroke-linejoin="round"/>
<path d="M540.2,95.1L533.9,94.8L530.7,103.1L541.0,109.1L552.5,106.3L554.0,104.2Z" fill="url(#v90)" stroke="#000" stroke-opacity="0.72" stroke-width="1.3" stroke-linejoin="round"/>
<path d="M515.0,84.0L515.0,95.1L532.8,94.0L531.1,85.9Z" fill="url(#v78)" stroke="#000" stroke-opacity="0.72" stroke-width="1.3" stroke-linejoin="round"/>
<path d="M499.3,117.9L494.4,111.8L501.3,107.1L517.1,109.6L519.0,114.6L515.5,117.9Z" fill="url(#v84)" stroke="#000" stroke-opacity="0.72" stroke-width="1.3" stroke-linejoin="round"/>
<path d="M573.7,62.8L580.9,66.5L582.7,73.1L580.3,75.7L574.9,77.5L559.1,72.9L560.8,66.0L568.4,62.2Z" fill="url(#v90)" stroke="#000" stroke-opacity="0.72" stroke-width="1.3" stroke-linejoin="round"/>
<path d="M580.3,75.7L592.9,87.1L587.0,92.2L574.3,90.1L571.3,82.3L574.9,77.5Z" fill="url(#v96)" stroke="#000" stroke-opacity="0.72" stroke-width="1.3" stroke-linejoin="round"/>
<path d="M605.8,82.5L596.1,73.6L582.7,73.1L580.3,75.7L592.9,87.1L604.1,85.0L605.9,82.9Z" fill="url(#v96)" stroke="#000" stroke-opacity="0.72" stroke-width="1.3" stroke-linejoin="round"/>
<path d="M605.8,82.5L596.1,73.6L606.3,66.7L614.3,73.9Z" fill="url(#v90)" stroke="#000" stroke-opacity="0.72" stroke-width="1.3" stroke-linejoin="round"/>
<path d="M603.0,99.3L588.1,95.3L587.0,92.2L592.9,87.1L604.1,85.0L611.6,93.6Z" fill="url(#v90)" stroke="#000" stroke-opacity="0.72" stroke-width="1.3" stroke-linejoin="round"/>
<path d="M588.1,95.3L587.0,92.2L574.3,90.1L563.8,94.8L563.1,100.6L578.3,105.7L581.3,104.5Z" fill="url(#v90)" stroke="#000" stroke-opacity="0.72" stroke-width="1.3" stroke-linejoin="round"/>
<path d="M554.0,104.2L552.5,106.3L560.3,116.5L562.6,117.3L577.8,108.5L578.3,105.7L563.1,100.6Z" fill="url(#v78)" stroke="#000" stroke-opacity="0.72" stroke-width="1.3" stroke-linejoin="round"/>
<path d="M585.6,116.6L577.8,108.5L562.6,117.3L565.8,121.6L580.1,121.1Z" fill="url(#v78)" stroke="#000" stroke-opacity="0.72" stroke-width="1.3" stroke-linejoin="round"/>
<path d="M604.1,104.7L624.3,108.6L624.3,109.9L606.2,118.3L599.2,117.5L598.6,117.1L598.6,107.9Z" fill="url(#v84)" stroke="#000" stroke-opacity="0.72" stroke-width="1.3" stroke-linejoin="round"/>
<path d="M603.0,99.3L588.1,95.3L581.3,104.5L598.6,107.9L604.1,104.7Z" fill="url(#v116)" stroke="#000" stroke-opacity="0.72" stroke-width="1.3" stroke-linejoin="round"/>
<path d="M603.0,99.3L611.6,93.6L624.3,95.5L624.3,108.6L604.1,104.7Z" fill="url(#v113)" stroke="#000" stroke-opacity="0.72" stroke-width="1.3" stroke-linejoin="round"/>
<path d="M540.2,95.1L554.0,104.2L563.1,100.6L563.8,94.8L553.4,88.8Z" fill="url(#v67)" stroke="#000" stroke-opacity="0.72" stroke-width="1.3" stroke-linejoin="round"/>
<path d="M526.0,9.0L517.8,13.6L525.9,21.6L534.8,21.3L538.3,12.3L534.5,9.6Z" fill="url(#v61)" stroke="#000" stroke-opacity="0.72" stroke-width="1.3" stroke-linejoin="round"/>
<path d="M611.6,93.6L604.1,85.0L605.9,82.9L624.3,83.4L624.3,95.5Z" fill="url(#v110)" stroke="#000" stroke-opacity="0.72" stroke-width="1.3" stroke-linejoin="round"/>
<path d="M530.0,56.0L527.0,53.8L514.3,53.6L510.3,56.7L515.5,65.0L524.4,66.2L527.0,64.9Z" fill="url(#v80)" stroke="#000" stroke-opacity="0.72" stroke-width="1.3" stroke-linejoin="round"/>
<path d="M510.3,56.7L502.1,56.5L494.7,61.9L504.6,69.8L515.5,65.0Z" fill="url(#v83)" stroke="#000" stroke-opacity="0.72" stroke-width="1.3" stroke-linejoin="round"/>
<path d="M499.0,129.8L517.2,129.8L515.5,117.9L499.3,117.9L495.5,122.6Z" fill="url(#v71)" stroke="#000" stroke-opacity="0.72" stroke-width="1.3" stroke-linejoin="round"/>
<path d="M502.1,56.5L494.2,48.7L482.3,50.3L482.3,62.1L494.7,61.9Z" fill="url(#v89)" stroke="#000" stroke-opacity="0.72" stroke-width="1.3" stroke-linejoin="round"/>
<path d="M495.5,122.6L482.3,121.8L482.3,129.8L499.0,129.8Z" fill="url(#v66)" stroke="#000" stroke-opacity="0.72" stroke-width="1.3" stroke-linejoin="round"/>
<path d="M499.9,44.1L494.2,48.7L482.3,50.3L482.3,37.2L492.2,37.1Z" fill="url(#v69)" stroke="#000" stroke-opacity="0.72" stroke-width="1.3" stroke-linejoin="round"/>
<path d="M560.3,116.5L544.1,119.9L548.8,129.8L562.9,129.8L565.8,121.6L562.6,117.3Z" fill="url(#v104)" stroke="#000" stroke-opacity="0.72" stroke-width="1.3" stroke-linejoin="round"/>
<path d="M568.4,62.2L560.8,66.0L546.3,63.1L546.0,55.0L546.4,54.6L558.1,53.1L561.4,54.0Z" fill="url(#v72)" stroke="#000" stroke-opacity="0.72" stroke-width="1.3" stroke-linejoin="round"/>
<path d="M569.4,8.1L572.8,7.7L575.6,-2.8L550.8,-2.8L554.6,2.8Z" fill="url(#v85)" stroke="#000" stroke-opacity="0.72" stroke-width="1.3" stroke-linejoin="round"/>
<path d="M556.3,17.4L548.6,12.1L538.3,12.3L534.8,21.3L538.8,23.6L551.3,22.2Z" fill="url(#v90)" stroke="#000" stroke-opacity="0.72" stroke-width="1.3" stroke-linejoin="round"/>
<path d="M599.2,117.5L592.7,129.8L617.6,129.8L606.2,118.3Z" fill="url(#v58)" stroke="#000" stroke-opacity="0.72" stroke-width="1.3" stroke-linejoin="round"/>
<path d="M494.7,61.9L482.3,62.1L482.3,76.8L504.3,70.6L504.6,69.8Z" fill="url(#v73)" stroke="#000" stroke-opacity="0.72" stroke-width="1.3" stroke-linejoin="round"/>
<path d="M492.2,37.1L482.3,37.2L482.3,26.6L492.3,26.8L497.2,31.6Z" fill="url(#v67)" stroke="#000" stroke-opacity="0.72" stroke-width="1.3" stroke-linejoin="round"/>
<path d="M593.2,61.7L606.3,66.2L606.3,66.7L596.1,73.6L582.7,73.1L580.9,66.5Z" fill="url(#v73)" stroke="#000" stroke-opacity="0.72" stroke-width="1.3" stroke-linejoin="round"/>
<path d="M535.9,116.3L519.0,114.6L515.5,117.9L517.2,129.8L528.6,129.8L537.3,117.8Z" fill="url(#v50)" stroke="#000" stroke-opacity="0.72" stroke-width="1.3" stroke-linejoin="round"/>
<path d="M504.3,8.7L507.7,-2.8L482.3,-2.8L482.3,11.8L482.4,11.8Z" fill="url(#v76)" stroke="#000" stroke-opacity="0.72" stroke-width="1.3" stroke-linejoin="round"/>
<path d="M610.0,64.0L624.3,64.7L624.3,49.9L610.9,56.4Z" fill="url(#v44)" stroke="#000" stroke-opacity="0.72" stroke-width="1.3" stroke-linejoin="round"/>
<path d="M530.7,103.1L519.5,106.4L512.4,96.6L515.0,95.1L532.8,94.0L533.9,94.8Z" fill="url(#v59)" stroke="#000" stroke-opacity="0.72" stroke-width="1.3" stroke-linejoin="round"/>
<path d="M560.3,116.5L552.5,106.3L541.0,109.1L535.9,116.3L537.3,117.8L544.1,119.9Z" fill="url(#v85)" stroke="#000" stroke-opacity="0.72" stroke-width="1.3" stroke-linejoin="round"/>
<path d="M530.0,56.0L546.0,55.0L546.3,63.1L542.1,65.9L527.0,64.9Z" fill="url(#v119)" stroke="#000" stroke-opacity="0.72" stroke-width="1.3" stroke-linejoin="round"/>
<path d="M573.7,62.8L582.8,51.8L582.8,51.8L573.1,49.1L561.4,54.0L568.4,62.2Z" fill="url(#v75)" stroke="#000" stroke-opacity="0.72" stroke-width="1.3" stroke-linejoin="round"/>
<path d="M624.3,-2.8L609.1,-2.8L605.0,5.9L621.3,11.8L624.3,11.8Z" fill="url(#v87)" stroke="#000" stroke-opacity="0.72" stroke-width="1.3" stroke-linejoin="round"/>
<path d="M510.2,13.4L517.8,13.6L526.0,9.0L519.1,-2.8L507.7,-2.8L504.3,8.7Z" fill="url(#v77)" stroke="#000" stroke-opacity="0.72" stroke-width="1.3" stroke-linejoin="round"/>
<path d="M505.0,20.4L510.2,13.4L517.8,13.6L525.9,21.6L518.2,27.6L513.1,27.9Z" fill="url(#v95)" stroke="#000" stroke-opacity="0.72" stroke-width="1.3" stroke-linejoin="round"/>
<path d="M482.3,97.3L482.3,78.3L499.9,85.0L498.9,90.6L482.9,97.3Z" fill="url(#v96)" stroke="#000" stroke-opacity="0.72" stroke-width="1.3" stroke-linejoin="round"/>
<path d="M557.8,31.0L551.3,22.2L556.3,17.4L559.5,17.1L570.7,22.1L572.2,26.0Z" fill="url(#v51)" stroke="#000" stroke-opacity="0.72" stroke-width="1.3" stroke-linejoin="round"/>
<path d="M573.7,62.8L580.9,66.5L593.2,61.7L593.9,56.5L582.8,51.8Z" fill="url(#v62)" stroke="#000" stroke-opacity="0.72" stroke-width="1.3" stroke-linejoin="round"/>
<path d="M593.2,61.7L606.3,66.2L610.0,64.0L610.9,56.4L600.4,53.9L593.9,56.5Z" fill="url(#v87)" stroke="#000" stroke-opacity="0.72" stroke-width="1.3" stroke-linejoin="round"/>
<path d="M482.3,110.8L494.4,111.8L501.3,107.1L500.1,102.5L482.9,97.3L482.3,97.3Z" fill="url(#v82)" stroke="#000" stroke-opacity="0.72" stroke-width="1.3" stroke-linejoin="round"/>
<path d="M589.9,-2.8L592.9,7.4L581.9,11.0L572.8,7.7L575.6,-2.8Z" fill="url(#v81)" stroke="#000" stroke-opacity="0.72" stroke-width="1.3" stroke-linejoin="round"/>
<path d="M580.1,121.1L565.8,121.6L562.9,129.8L587.0,129.8Z" fill="url(#v64)" stroke="#000" stroke-opacity="0.72" stroke-width="1.3" stroke-linejoin="round"/>
<path d="M604.9,24.8L602.0,19.6L602.8,18.3L621.3,11.8L624.3,11.8L624.3,23.9L608.0,25.9Z" fill="url(#v80)" stroke="#000" stroke-opacity="0.72" stroke-width="1.3" stroke-linejoin="round"/>
<path d="M553.4,88.8L553.0,85.3L554.8,83.9L571.3,82.3L574.3,90.1L563.8,94.8Z" fill="url(#v62)" stroke="#000" stroke-opacity="0.72" stroke-width="1.3" stroke-linejoin="round"/>
<path d="M508.5,31.4L513.1,27.9L505.0,20.4L497.5,21.2L492.3,26.8L497.2,31.6Z" fill="url(#v89)" stroke="#000" stroke-opacity="0.72" stroke-width="1.3" stroke-linejoin="round"/>
<path d="M608.5,36.2L609.9,35.1L624.3,34.4L624.3,49.0L610.9,44.6Z" fill="url(#v85)" stroke="#000" stroke-opacity="0.72" stroke-width="1.3" stroke-linejoin="round"/>
<path d="M512.0,79.6L526.1,73.5L535.7,77.9L536.1,81.6L531.1,85.9L515.0,84.0L511.4,81.8Z" fill="url(#v92)" stroke="#000" stroke-opacity="0.72" stroke-width="1.3" stroke-linejoin="round"/>
<path d="M624.3,109.9L624.3,129.8L617.6,129.8L606.2,118.3Z" fill="url(#v76)" stroke="#000" stroke-opacity="0.72" stroke-width="1.3" stroke-linejoin="round"/>
<path d="M590.8,43.4L600.4,46.8L610.9,44.6L608.5,36.2L595.3,36.2L589.4,40.8Z" fill="url(#v111)" stroke="#000" stroke-opacity="0.72" stroke-width="1.3" stroke-linejoin="round"/>
<path d="M589.9,-2.8L592.9,7.4L595.1,7.8L605.0,5.9L609.1,-2.8Z" fill="url(#v87)" stroke="#000" stroke-opacity="0.72" stroke-width="1.3" stroke-linejoin="round"/>
<path d="M497.5,21.2L482.4,11.8L482.3,11.8L482.3,26.6L492.3,26.8Z" fill="url(#v91)" stroke="#000" stroke-opacity="0.72" stroke-width="1.3" stroke-linejoin="round"/>
<path d="M544.2,73.1L535.7,77.9L536.1,81.6L553.0,85.3L554.8,83.9L554.9,74.7Z" fill="url(#v74)" stroke="#000" stroke-opacity="0.72" stroke-width="1.3" stroke-linejoin="round"/>
<path d="M604.9,24.8L602.0,19.6L589.1,20.0L584.6,26.8L593.5,29.8Z" fill="url(#v64)" stroke="#000" stroke-opacity="0.72" stroke-width="1.3" stroke-linejoin="round"/>
<path d="M609.9,35.1L624.3,34.4L624.3,23.9L608.0,25.9Z" fill="url(#v78)" stroke="#000" stroke-opacity="0.72" stroke-width="1.3" stroke-linejoin="round"/>
<path d="M526.0,9.0L519.1,-2.8L542.7,-2.8L534.5,9.6Z" fill="url(#v41)" stroke="#000" stroke-opacity="0.72" stroke-width="1.3" stroke-linejoin="round"/>
<path d="M482.3,110.8L494.4,111.8L499.3,117.9L495.5,122.6L482.3,121.8Z" fill="url(#v73)" stroke="#000" stroke-opacity="0.72" stroke-width="1.3" stroke-linejoin="round"/>
<path d="M559.5,17.1L569.4,8.1L554.6,2.8L548.6,12.1L556.3,17.4Z" fill="url(#v87)" stroke="#000" stroke-opacity="0.72" stroke-width="1.3" stroke-linejoin="round"/>
<path d="M605.8,82.5L614.3,73.9L624.3,73.8L624.3,83.4L605.9,82.9Z" fill="url(#v43)" stroke="#000" stroke-opacity="0.72" stroke-width="1.3" stroke-linejoin="round"/>
<path d="M544.1,119.9L537.3,117.8L528.6,129.8L548.8,129.8Z" fill="url(#v66)" stroke="#000" stroke-opacity="0.72" stroke-width="1.3" stroke-linejoin="round"/>
<path d="M606.3,66.2L606.3,66.7L614.3,73.9L624.3,73.8L624.3,64.7L610.0,64.0Z" fill="url(#v86)" stroke="#000" stroke-opacity="0.72" stroke-width="1.3" stroke-linejoin="round"/>
<path d="M548.8,41.4L548.5,34.3L557.8,31.1L567.8,40.3L558.1,43.7Z" fill="url(#v95)" stroke="#000" stroke-opacity="0.72" stroke-width="1.3" stroke-linejoin="round"/>
<path d="M598.6,117.1L585.6,116.6L580.1,121.1L587.0,129.8L592.7,129.8L599.2,117.5Z" fill="url(#v92)" stroke="#000" stroke-opacity="0.72" stroke-width="1.3" stroke-linejoin="round"/>
<path d="M501.3,107.1L517.1,109.6L519.5,106.4L512.4,96.6L509.1,96.6L500.1,102.5Z" fill="url(#v93)" stroke="#000" stroke-opacity="0.72" stroke-width="1.3" stroke-linejoin="round"/>
<path d="M559.1,72.9L574.9,77.5L571.3,82.3L554.8,83.9L554.9,74.7Z" fill="url(#v67)" stroke="#000" stroke-opacity="0.72" stroke-width="1.3" stroke-linejoin="round"/>
<ellipse cx="556.4" cy="15.6" rx="6.9" ry="6.9" fill="url(#gk)" opacity="0.5"/>
<ellipse cx="596.8" cy="43.7" rx="6.9" ry="6.9" fill="url(#gk)" opacity="0.6"/>
<ellipse cx="565.2" cy="57.8" rx="6.9" ry="6.9" fill="url(#gk)" opacity="0.45"/>
<ellipse cx="494.8" cy="45.5" rx="6.9" ry="6.9" fill="url(#gk)" opacity="0.45"/>
<ellipse cx="547.6" cy="114.5" rx="6.9" ry="6.9" fill="url(#gk)" opacity="0.7"/>
</g></g>
<clipPath id="cpd2"><rect x="494.8" y="122.0" width="117.0" height="116.7"/></clipPath>
<g clip-path="url(#cpd2)">
<filter id="bld2" x="-5%" y="-5%" width="110%" height="110%"><feGaussianBlur stdDeviation="1.1"/></filter>
<g filter="url(#bld2)" style="isolation:isolate">
<rect x="490.8" y="118.0" width="125.0" height="124.7" fill="rgb(76,76,76)"/>
<ellipse cx="510.2" cy="118.0" rx="6.4" ry="13.8" fill="url(#d79)" style="mix-blend-mode:lighten"/>
<ellipse cx="509.4" cy="128.2" rx="6.2" ry="13.8" fill="url(#d69)" style="mix-blend-mode:lighten"/>
<ellipse cx="508.2" cy="138.2" rx="6.2" ry="11.7" fill="url(#d71)" style="mix-blend-mode:lighten"/>
<ellipse cx="506.5" cy="147.8" rx="6.0" ry="11.8" fill="url(#d69)" style="mix-blend-mode:lighten"/>
<ellipse cx="505.5" cy="158.5" rx="6.4" ry="11.4" fill="url(#d71)" style="mix-blend-mode:lighten"/>
<ellipse cx="503.3" cy="168.4" rx="6.5" ry="11.6" fill="url(#d69)" style="mix-blend-mode:lighten"/>
<ellipse cx="503.7" cy="177.0" rx="6.0" ry="13.9" fill="url(#d81)" style="mix-blend-mode:lighten"/>
<ellipse cx="502.0" cy="186.7" rx="6.6" ry="13.1" fill="url(#d72)" style="mix-blend-mode:lighten"/>
<ellipse cx="501.1" cy="197.6" rx="6.1" ry="11.5" fill="url(#d74)" style="mix-blend-mode:lighten"/>
<ellipse cx="498.7" cy="206.0" rx="6.3" ry="11.0" fill="url(#d74)" style="mix-blend-mode:lighten"/>
<ellipse cx="498.0" cy="216.0" rx="6.5" ry="12.4" fill="url(#d75)" style="mix-blend-mode:lighten"/>
<ellipse cx="497.1" cy="225.0" rx="5.8" ry="13.9" fill="url(#d81)" style="mix-blend-mode:lighten"/>
<ellipse cx="496.6" cy="233.0" rx="5.8" ry="13.4" fill="url(#d83)" style="mix-blend-mode:lighten"/>
<ellipse cx="495.2" cy="242.1" rx="5.8" ry="11.5" fill="url(#d71)" style="mix-blend-mode:lighten"/>
<ellipse cx="522.9" cy="118.0" rx="6.5" ry="13.8" fill="url(#d74)" style="mix-blend-mode:lighten"/>
<ellipse cx="522.1" cy="127.0" rx="6.4" ry="11.3" fill="url(#d70)" style="mix-blend-mode:lighten"/>
<ellipse cx="521.5" cy="137.3" rx="5.8" ry="13.8" fill="url(#d75)" style="mix-blend-mode:lighten"/>
<ellipse cx="519.8" cy="145.6" rx="6.5" ry="12.0" fill="url(#d72)" style="mix-blend-mode:lighten"/>
<ellipse cx="518.9" cy="156.3" rx="6.1" ry="11.5" fill="url(#d67)" style="mix-blend-mode:lighten"/>
<ellipse cx="517.2" cy="164.6" rx="6.6" ry="11.5" fill="url(#d73)" style="mix-blend-mode:lighten"/>
<ellipse cx="517.6" cy="172.7" rx="6.1" ry="11.7" fill="url(#d71)" style="mix-blend-mode:lighten"/>
<ellipse cx="516.2" cy="182.5" rx="6.1" ry="11.2" fill="url(#d69)" style="mix-blend-mode:lighten"/>
<ellipse cx="513.6" cy="193.2" rx="6.5" ry="11.4" fill="url(#d71)" style="mix-blend-mode:lighten"/>
<ellipse cx="513.8" cy="203.4" rx="6.4" ry="11.3" fill="url(#d73)" style="mix-blend-mode:lighten"/>
<ellipse cx="511.5" cy="212.7" rx="6.0" ry="12.4" fill="url(#d77)" style="mix-blend-mode:lighten"/>
<ellipse cx="511.3" cy="223.7" rx="6.2" ry="12.5" fill="url(#d79)" style="mix-blend-mode:lighten"/>
<ellipse cx="509.4" cy="233.9" rx="6.1" ry="11.4" fill="url(#d70)" style="mix-blend-mode:lighten"/>
<ellipse cx="509.2" cy="243.1" rx="6.3" ry="12.5" fill="url(#d80)" style="mix-blend-mode:lighten"/>
<ellipse cx="537.8" cy="118.0" rx="6.4" ry="13.6" fill="url(#d75)" style="mix-blend-mode:lighten"/>
<ellipse cx="537.8" cy="127.1" rx="6.4" ry="13.0" fill="url(#d82)" style="mix-blend-mode:lighten"/>
<ellipse cx="535.9" cy="137.4" rx="6.0" ry="12.5" fill="url(#d81)" style="mix-blend-mode:lighten"/>
<ellipse cx="535.2" cy="147.7" rx="6.6" ry="12.9" fill="url(#d74)" style="mix-blend-mode:lighten"/>
<ellipse cx="533.0" cy="157.4" rx="6.0" ry="13.0" fill="url(#d78)" style="mix-blend-mode:lighten"/>
<ellipse cx="533.1" cy="166.8" rx="6.4" ry="12.0" fill="url(#d79)" style="mix-blend-mode:lighten"/>
<ellipse cx="531.8" cy="176.7" rx="6.1" ry="13.5" fill="url(#d81)" style="mix-blend-mode:lighten"/>
<ellipse cx="530.5" cy="187.3" rx="6.6" ry="12.6" fill="url(#d83)" style="mix-blend-mode:lighten"/>
<ellipse cx="528.5" cy="196.9" rx="6.5" ry="12.4" fill="url(#d81)" style="mix-blend-mode:lighten"/>
<ellipse cx="528.2" cy="207.0" rx="5.9" ry="13.3" fill="url(#d79)" style="mix-blend-mode:lighten"/>
<ellipse cx="526.9" cy="216.7" rx="6.3" ry="13.3" fill="url(#d75)" style="mix-blend-mode:lighten"/>
<ellipse cx="525.8" cy="226.7" rx="5.9" ry="12.3" fill="url(#d69)" style="mix-blend-mode:lighten"/>
<ellipse cx="523.8" cy="236.6" rx="6.3" ry="11.1" fill="url(#d79)" style="mix-blend-mode:lighten"/>
<ellipse cx="552.5" cy="118.0" rx="5.9" ry="12.0" fill="url(#d70)" style="mix-blend-mode:lighten"/>
<ellipse cx="551.5" cy="126.5" rx="6.2" ry="12.1" fill="url(#d70)" style="mix-blend-mode:lighten"/>
<ellipse cx="550.9" cy="136.4" rx="6.5" ry="11.0" fill="url(#d74)" style="mix-blend-mode:lighten"/>
<ellipse cx="549.3" cy="145.6" rx="5.9" ry="13.5" fill="url(#d78)" style="mix-blend-mode:lighten"/>
<ellipse cx="547.8" cy="154.7" rx="5.9" ry="12.6" fill="url(#d82)" style="mix-blend-mode:lighten"/>
<ellipse cx="547.6" cy="163.7" rx="6.5" ry="12.3" fill="url(#d88)" style="mix-blend-mode:lighten"/>
<ellipse cx="546.5" cy="174.2" rx="5.9" ry="12.8" fill="url(#d80)" style="mix-blend-mode:lighten"/>
<ellipse cx="545.8" cy="183.9" rx="6.3" ry="12.1" fill="url(#d90)" style="mix-blend-mode:lighten"/>
<ellipse cx="543.0" cy="194.5" rx="6.3" ry="12.8" fill="url(#d77)" style="mix-blend-mode:lighten"/>
<ellipse cx="543.0" cy="203.0" rx="6.1" ry="12.3" fill="url(#d87)" style="mix-blend-mode:lighten"/>
<ellipse cx="541.4" cy="211.6" rx="6.1" ry="13.9" fill="url(#d87)" style="mix-blend-mode:lighten"/>
<ellipse cx="540.6" cy="222.4" rx="6.6" ry="12.5" fill="url(#d76)" style="mix-blend-mode:lighten"/>
<ellipse cx="539.1" cy="231.6" rx="6.2" ry="11.9" fill="url(#d86)" style="mix-blend-mode:lighten"/>
<ellipse cx="537.6" cy="241.1" rx="6.2" ry="11.9" fill="url(#d80)" style="mix-blend-mode:lighten"/>
<ellipse cx="567.6" cy="118.0" rx="6.2" ry="11.8" fill="url(#d69)" style="mix-blend-mode:lighten"/>
<ellipse cx="566.2" cy="128.8" rx="6.0" ry="11.5" fill="url(#d72)" style="mix-blend-mode:lighten"/>
<ellipse cx="564.1" cy="139.8" rx="6.2" ry="12.9" fill="url(#d78)" style="mix-blend-mode:lighten"/>
<ellipse cx="563.7" cy="149.6" rx="6.4" ry="11.9" fill="url(#d71)" style="mix-blend-mode:lighten"/>
<ellipse cx="561.9" cy="159.2" rx="6.2" ry="12.4" fill="url(#d73)" style="mix-blend-mode:lighten"/>
<ellipse cx="561.4" cy="168.3" rx="5.8" ry="11.8" fill="url(#d77)" style="mix-blend-mode:lighten"/>
<ellipse cx="560.6" cy="177.6" rx="6.2" ry="11.0" fill="url(#d82)" style="mix-blend-mode:lighten"/>
<ellipse cx="558.6" cy="188.0" rx="6.4" ry="12.9" fill="url(#d78)" style="mix-blend-mode:lighten"/>
<ellipse cx="558.2" cy="197.4" rx="6.1" ry="13.6" fill="url(#d76)" style="mix-blend-mode:lighten"/>
<ellipse cx="556.2" cy="206.0" rx="5.9" ry="13.5" fill="url(#d83)" style="mix-blend-mode:lighten"/>
<ellipse cx="555.2" cy="216.1" rx="6.4" ry="13.7" fill="url(#d76)" style="mix-blend-mode:lighten"/>
<ellipse cx="554.3" cy="224.5" rx="6.2" ry="12.0" fill="url(#d80)" style="mix-blend-mode:lighten"/>
<ellipse cx="553.4" cy="233.0" rx="5.9" ry="11.7" fill="url(#d85)" style="mix-blend-mode:lighten"/>
<ellipse cx="552.5" cy="243.4" rx="5.8" ry="13.2" fill="url(#d83)" style="mix-blend-mode:lighten"/>
<ellipse cx="581.1" cy="118.0" rx="5.8" ry="13.5" fill="url(#d81)" style="mix-blend-mode:lighten"/>
<ellipse cx="579.5" cy="126.7" rx="6.4" ry="11.4" fill="url(#d85)" style="mix-blend-mode:lighten"/>
<ellipse cx="578.8" cy="135.5" rx="6.3" ry="12.2" fill="url(#d74)" style="mix-blend-mode:lighten"/>
<ellipse cx="577.4" cy="144.0" rx="5.9" ry="12.1" fill="url(#d73)" style="mix-blend-mode:lighten"/>
<ellipse cx="575.5" cy="152.2" rx="6.4" ry="13.6" fill="url(#d81)" style="mix-blend-mode:lighten"/>
<ellipse cx="575.1" cy="160.6" rx="6.3" ry="12.5" fill="url(#d77)" style="mix-blend-mode:lighten"/>
<ellipse cx="573.7" cy="171.5" rx="6.4" ry="11.5" fill="url(#d74)" style="mix-blend-mode:lighten"/>
<ellipse cx="572.7" cy="181.3" rx="6.2" ry="12.9" fill="url(#d87)" style="mix-blend-mode:lighten"/>
<ellipse cx="571.7" cy="190.1" rx="6.4" ry="12.6" fill="url(#d79)" style="mix-blend-mode:lighten"/>
<ellipse cx="570.2" cy="198.5" rx="6.4" ry="11.5" fill="url(#d82)" style="mix-blend-mode:lighten"/>
<ellipse cx="569.6" cy="208.7" rx="6.3" ry="11.3" fill="url(#d79)" style="mix-blend-mode:lighten"/>
<ellipse cx="568.5" cy="217.1" rx="6.5" ry="12.4" fill="url(#d83)" style="mix-blend-mode:lighten"/>
<ellipse cx="567.8" cy="226.0" rx="6.4" ry="11.2" fill="url(#d81)" style="mix-blend-mode:lighten"/>
<ellipse cx="567.0" cy="234.5" rx="6.0" ry="11.3" fill="url(#d92)" style="mix-blend-mode:lighten"/>
<ellipse cx="593.2" cy="118.0" rx="5.9" ry="12.9" fill="url(#d81)" style="mix-blend-mode:lighten"/>
<ellipse cx="591.5" cy="127.1" rx="6.3" ry="12.0" fill="url(#d74)" style="mix-blend-mode:lighten"/>
<ellipse cx="590.2" cy="136.2" rx="6.3" ry="13.4" fill="url(#d82)" style="mix-blend-mode:lighten"/>
<ellipse cx="590.2" cy="145.5" rx="6.3" ry="12.7" fill="url(#d79)" style="mix-blend-mode:lighten"/>
<ellipse cx="588.3" cy="155.7" rx="5.8" ry="11.6" fill="url(#d74)" style="mix-blend-mode:lighten"/>
<ellipse cx="588.1" cy="163.9" rx="6.4" ry="11.0" fill="url(#d81)" style="mix-blend-mode:lighten"/>
<ellipse cx="587.0" cy="173.3" rx="6.1" ry="12.4" fill="url(#d84)" style="mix-blend-mode:lighten"/>
<ellipse cx="584.8" cy="181.6" rx="6.1" ry="12.2" fill="url(#d78)" style="mix-blend-mode:lighten"/>
<ellipse cx="583.5" cy="192.2" rx="6.0" ry="11.5" fill="url(#d86)" style="mix-blend-mode:lighten"/>
<ellipse cx="582.6" cy="201.1" rx="5.8" ry="13.8" fill="url(#d95)" style="mix-blend-mode:lighten"/>
<ellipse cx="582.6" cy="210.2" rx="6.3" ry="12.4" fill="url(#d104)" style="mix-blend-mode:lighten"/>
<ellipse cx="580.0" cy="221.0" rx="6.0" ry="13.0" fill="url(#d106)" style="mix-blend-mode:lighten"/>
<ellipse cx="578.9" cy="231.2" rx="5.8" ry="11.7" fill="url(#d100)" style="mix-blend-mode:lighten"/>
<ellipse cx="578.2" cy="239.4" rx="6.1" ry="11.9" fill="url(#d113)" style="mix-blend-mode:lighten"/>
<ellipse cx="605.8" cy="118.0" rx="6.4" ry="11.5" fill="url(#d86)" style="mix-blend-mode:lighten"/>
<ellipse cx="605.4" cy="126.7" rx="6.3" ry="12.3" fill="url(#d90)" style="mix-blend-mode:lighten"/>
<ellipse cx="603.0" cy="137.6" rx="6.4" ry="12.2" fill="url(#d78)" style="mix-blend-mode:lighten"/>
<ellipse cx="602.9" cy="145.8" rx="6.2" ry="12.1" fill="url(#d92)" style="mix-blend-mode:lighten"/>
<ellipse cx="601.2" cy="154.1" rx="6.2" ry="13.8" fill="url(#d91)" style="mix-blend-mode:lighten"/>
<ellipse cx="600.5" cy="162.2" rx="6.1" ry="11.2" fill="url(#d80)" style="mix-blend-mode:lighten"/>
<ellipse cx="599.7" cy="171.0" rx="5.8" ry="11.1" fill="url(#d84)" style="mix-blend-mode:lighten"/>
<ellipse cx="598.0" cy="181.9" rx="6.1" ry="12.6" fill="url(#d88)" style="mix-blend-mode:lighten"/>
<ellipse cx="597.2" cy="190.2" rx="6.2" ry="13.8" fill="url(#d87)" style="mix-blend-mode:lighten"/>
<ellipse cx="596.9" cy="200.0" rx="5.8" ry="12.6" fill="url(#d95)" style="mix-blend-mode:lighten"/>
<ellipse cx="595.3" cy="209.4" rx="6.3" ry="13.2" fill="url(#d102)" style="mix-blend-mode:lighten"/>
<ellipse cx="593.6" cy="220.2" rx="6.5" ry="11.7" fill="url(#d106)" style="mix-blend-mode:lighten"/>
<ellipse cx="592.6" cy="228.5" rx="6.4" ry="13.5" fill="url(#d102)" style="mix-blend-mode:lighten"/>
<ellipse cx="591.3" cy="237.4" rx="6.0" ry="11.3" fill="url(#d103)" style="mix-blend-mode:lighten"/>
<ellipse cx="620.1" cy="118.0" rx="5.8" ry="13.1" fill="url(#d108)" style="mix-blend-mode:lighten"/>
<ellipse cx="618.5" cy="126.1" rx="6.1" ry="11.3" fill="url(#d108)" style="mix-blend-mode:lighten"/>
<ellipse cx="617.6" cy="135.4" rx="6.2" ry="13.7" fill="url(#d113)" style="mix-blend-mode:lighten"/>
<ellipse cx="617.1" cy="145.4" rx="6.2" ry="13.5" fill="url(#d108)" style="mix-blend-mode:lighten"/>
<ellipse cx="616.2" cy="155.3" rx="6.4" ry="11.8" fill="url(#d106)" style="mix-blend-mode:lighten"/>
<ellipse cx="614.1" cy="165.8" rx="5.9" ry="11.5" fill="url(#d88)" style="mix-blend-mode:lighten"/>
<ellipse cx="613.5" cy="174.6" rx="5.9" ry="13.3" fill="url(#d82)" style="mix-blend-mode:lighten"/>
<ellipse cx="611.3" cy="184.2" rx="5.9" ry="12.1" fill="url(#d70)" style="mix-blend-mode:lighten"/>
<ellipse cx="611.5" cy="194.8" rx="6.0" ry="12.3" fill="url(#d69)" style="mix-blend-mode:lighten"/>
<ellipse cx="609.4" cy="203.9" rx="6.3" ry="13.5" fill="url(#d52)" style="mix-blend-mode:lighten"/>
<ellipse cx="607.8" cy="214.1" rx="5.9" ry="13.1" fill="url(#d51)" style="mix-blend-mode:lighten"/>
<ellipse cx="608.0" cy="223.4" rx="5.9" ry="12.0" fill="url(#d46)" style="mix-blend-mode:lighten"/>
<ellipse cx="606.0" cy="234.2" rx="6.2" ry="13.3" fill="url(#d32)" style="mix-blend-mode:lighten"/>
<ellipse cx="633.5" cy="118.0" rx="6.3" ry="11.3" fill="url(#d101)" style="mix-blend-mode:lighten"/>
<ellipse cx="632.1" cy="128.4" rx="6.6" ry="11.1" fill="url(#d86)" style="mix-blend-mode:lighten"/>
<ellipse cx="631.0" cy="138.2" rx="6.1" ry="11.6" fill="url(#d97)" style="mix-blend-mode:lighten"/>
<ellipse cx="629.5" cy="147.0" rx="6.1" ry="13.3" fill="url(#d91)" style="mix-blend-mode:lighten"/>
<ellipse cx="628.7" cy="155.7" rx="6.6" ry="13.5" fill="url(#d85)" style="mix-blend-mode:lighten"/>
<ellipse cx="627.9" cy="166.3" rx="5.9" ry="13.5" fill="url(#d86)" style="mix-blend-mode:lighten"/>
<ellipse cx="625.8" cy="175.7" rx="5.9" ry="13.2" fill="url(#d81)" style="mix-blend-mode:lighten"/>
<ellipse cx="624.8" cy="186.4" rx="6.1" ry="13.0" fill="url(#d88)" style="mix-blend-mode:lighten"/>
<ellipse cx="624.2" cy="197.0" rx="6.1" ry="11.0" fill="url(#d87)" style="mix-blend-mode:lighten"/>
<ellipse cx="623.0" cy="206.6" rx="6.1" ry="12.0" fill="url(#d76)" style="mix-blend-mode:lighten"/>
<ellipse cx="621.6" cy="214.7" rx="6.2" ry="13.1" fill="url(#d78)" style="mix-blend-mode:lighten"/>
<ellipse cx="621.5" cy="223.9" rx="6.5" ry="13.1" fill="url(#d83)" style="mix-blend-mode:lighten"/>
<ellipse cx="619.6" cy="233.9" rx="6.1" ry="12.8" fill="url(#d81)" style="mix-blend-mode:lighten"/>
<ellipse cx="618.4" cy="243.9" rx="5.9" ry="11.3" fill="url(#d73)" style="mix-blend-mode:lighten"/>
<ellipse cx="498.6" cy="118.0" rx="5.5" ry="7.5" fill="url(#d79)" style="mix-blend-mode:lighten"/>
<ellipse cx="498.8" cy="124.9" rx="5.5" ry="7.5" fill="url(#d77)" style="mix-blend-mode:lighten"/>
<ellipse cx="497.8" cy="131.0" rx="5.5" ry="7.5" fill="url(#d80)" style="mix-blend-mode:lighten"/>
<ellipse cx="498.8" cy="138.0" rx="5.5" ry="7.5" fill="url(#d80)" style="mix-blend-mode:lighten"/>
<ellipse cx="498.7" cy="145.3" rx="5.5" ry="7.5" fill="url(#d80)" style="mix-blend-mode:lighten"/>
<ellipse cx="498.0" cy="152.3" rx="5.5" ry="7.5" fill="url(#d79)" style="mix-blend-mode:lighten"/>
<ellipse cx="498.0" cy="158.8" rx="5.5" ry="7.5" fill="url(#d82)" style="mix-blend-mode:lighten"/>
<ellipse cx="498.2" cy="166.2" rx="5.5" ry="7.5" fill="url(#d79)" style="mix-blend-mode:lighten"/>
<ellipse cx="497.9" cy="171.7" rx="5.5" ry="7.5" fill="url(#d77)" style="mix-blend-mode:lighten"/>
<ellipse cx="498.8" cy="178.6" rx="5.5" ry="7.5" fill="url(#d119)" style="mix-blend-mode:lighten"/>
<ellipse cx="497.8" cy="185.3" rx="5.5" ry="7.5" fill="url(#d117)" style="mix-blend-mode:lighten"/>
<ellipse cx="498.6" cy="192.2" rx="5.5" ry="7.5" fill="url(#d118)" style="mix-blend-mode:lighten"/>
<ellipse cx="498.0" cy="198.4" rx="5.5" ry="7.5" fill="url(#d119)" style="mix-blend-mode:lighten"/>
<ellipse cx="498.4" cy="204.5" rx="5.5" ry="7.5" fill="url(#d115)" style="mix-blend-mode:lighten"/>
<ellipse cx="498.5" cy="211.8" rx="5.5" ry="7.5" fill="url(#d115)" style="mix-blend-mode:lighten"/>
<ellipse cx="497.8" cy="218.8" rx="5.5" ry="7.5" fill="url(#d115)" style="mix-blend-mode:lighten"/>
<ellipse cx="498.8" cy="225.5" rx="5.5" ry="7.5" fill="url(#d119)" style="mix-blend-mode:lighten"/>
<ellipse cx="498.2" cy="232.4" rx="5.5" ry="7.5" fill="url(#d117)" style="mix-blend-mode:lighten"/>
<ellipse cx="498.1" cy="239.0" rx="5.5" ry="7.5" fill="url(#d119)" style="mix-blend-mode:lighten"/>
<ellipse cx="609.8" cy="232.0" rx="9.0" ry="14.0" fill="url(#gk)" opacity="0.85"/>
<ellipse cx="610.8" cy="217.0" rx="6.0" ry="10.0" fill="url(#gk)" opacity="0.5"/>
</g></g>
<defs><radialGradient id="d15"><stop offset="0" stop-color="rgb(32,32,32)"/><stop offset="0.3" stop-color="rgb(25,25,25)"/><stop offset="0.5" stop-color="rgb(12,12,12)"/><stop offset="0.65" stop-color="rgb(0,0,0)"/><stop offset="0.75" stop-color="rgb(0,0,0)"/><stop offset="0.85" stop-color="rgb(0,0,0)"/><stop offset="0.92" stop-color="rgb(0,0,0)"/><stop offset="0.97" stop-color="rgb(0,0,0)"/><stop offset="1.0" stop-color="rgb(0,0,0)"/></radialGradient><radialGradient id="v15" r="0.55"><stop offset="0" stop-color="rgb(32,32,32)"/><stop offset="0.4" stop-color="rgb(11,11,11)"/><stop offset="0.6" stop-color="rgb(0,0,0)"/><stop offset="0.75" stop-color="rgb(0,0,0)"/><stop offset="0.87" stop-color="rgb(0,0,0)"/><stop offset="1.0" stop-color="rgb(0,0,0)"/></radialGradient><radialGradient id="d22"><stop offset="0" stop-color="rgb(47,47,47)"/><stop offset="0.3" stop-color="rgb(40,40,40)"/><stop offset="0.5" stop-color="rgb(27,27,27)"/><stop offset="0.65" stop-color="rgb(10,10,10)"/><stop offset="0.75" stop-color="rgb(0,0,0)"/><stop offset="0.85" stop-color="rgb(0,0,0)"/><stop offset="0.92" stop-color="rgb(0,0,0)"/><stop offset="0.97" stop-color="rgb(0,0,0)"/><stop offset="1.0" stop-color="rgb(0,0,0)"/></radialGradient><radialGradient id="v22" r="0.55"><stop offset="0" stop-color="rgb(47,47,47)"/><stop offset="0.4" stop-color="rgb(26,26,26)"/><stop offset="0.6" stop-color="rgb(7,7,7)"/><stop offset="0.75" stop-color="rgb(0,0,0)"/><stop offset="0.87" stop-color="rgb(0,0,0)"/><stop offset="1.0" stop-color="rgb(0,0,0)"/></radialGradient><radialGradient id="d23"><stop offset="0" stop-color="rgb(49,49,49)"/><stop offset="0.3" stop-color="rgb(42,42,42)"/><stop offset="0.5" stop-color="rgb(29,29,29)"/><stop offset="0.65" stop-color="rgb(13,13,13)"/><stop offset="0.75" stop-color="rgb(0,0,0)"/><stop offset="0.85" stop-color="rgb(0,0,0)"/><stop offset="0.92" stop-color="rgb(0,0,0)"/><stop offset="0.97" stop-color="rgb(0,0,0)"/><stop offset="1.0" stop-color="rgb(0,0,0)"/></radialGradient><radialGradient id="v23" r="0.55"><stop offset="0" stop-color="rgb(49,49,49)"/><stop offset="0.4" stop-color="rgb(28,28,28)"/><stop offset="0.6" stop-color="rgb(9,9,9)"/><stop offset="0.75" stop-color="rgb(0,0,0)"/><stop offset="0.87" stop-color="rgb(0,0,0)"/><stop offset="1.0" stop-color="rgb(0,0,0)"/></radialGradient><radialGradient id="d28"><stop offset="0" stop-color="rgb(60,60,60)"/><stop offset="0.3" stop-color="rgb(53,53,53)"/><stop offset="0.5" stop-color="rgb(40,40,40)"/><stop offset="0.65" stop-color="rgb(23,23,23)"/><stop offset="0.75" stop-color="rgb(8,8,8)"/><stop offset="0.85" stop-color="rgb(0,0,0)"/><stop offset="0.92" stop-color="rgb(0,0,0)"/><stop offset="0.97" stop-color="rgb(0,0,0)"/><stop offset="1.0" stop-color="rgb(0,0,0)"/></radialGradient><radialGradient id="v28" r="0.55"><stop offset="0" stop-color="rgb(60,60,60)"/><stop offset="0.4" stop-color="rgb(39,39,39)"/><stop offset="0.6" stop-color="rgb(19,19,19)"/><stop offset="0.75" stop-color="rgb(2,2,2)"/><stop offset="0.87" stop-color="rgb(0,0,0)"/><stop offset="1.0" stop-color="rgb(0,0,0)"/></radialGradient><radialGradient id="d32"><stop offset="0" stop-color="rgb(69,69,69)"/><stop offset="0.3" stop-color="rgb(62,62,62)"/><stop offset="0.5" stop-color="rgb(48,48,48)"/><stop offset="0.65" stop-color="rgb(32,32,32)"/><stop offset="0.75" stop-color="rgb(17,17,17)"/><stop offset="0.85" stop-color="rgb(0,0,0)"/><stop offset="0.92" stop-color="rgb(0,0,0)"/><stop offset="0.97" stop-color="rgb(0,0,0)"/><stop offset="1.0" stop-color="rgb(0,0,0)"/></radialGradient><radialGradient id="v32" r="0.55"><stop offset="0" stop-color="rgb(69,69,69)"/><stop offset="0.4" stop-color="rgb(47,47,47)"/><stop offset="0.6" stop-color="rgb(28,28,28)"/><stop offset="0.75" stop-color="rgb(11,11,11)"/><stop offset="0.87" stop-color="rgb(0,0,0)"/><stop offset="1.0" stop-color="rgb(0,0,0)"/></radialGradient><radialGradient id="d33"><stop offset="0" stop-color="rgb(71,71,71)"/><stop offset="0.3" stop-color="rgb(64,64,64)"/><stop offset="0.5" stop-color="rgb(50,50,50)"/><stop offset="0.65" stop-color="rgb(34,34,34)"/><stop offset="0.75" stop-color="rgb(19,19,19)"/><stop offset="0.85" stop-color="rgb(0,0,0)"/><stop offset="0.92" stop-color="rgb(0,0,0)"/><stop offset="0.97" stop-color="rgb(0,0,0)"/><stop offset="1.0" stop-color="rgb(0,0,0)"/></radialGradient><radialGradient id="v33" r="0.55"><stop offset="0" stop-color="rgb(71,71,71)"/><stop offset="0.4" stop-color="rgb(50,50,50)"/><stop offset="0.6" stop-color="rgb(30,30,30)"/><stop offset="0.75" stop-color="rgb(13,13,13)"/><stop offset="0.87" stop-color="rgb(0,0,0)"/><stop offset="1.0" stop-color="rgb(0,0,0)"/></radialGradient><radialGradient id="d35"><stop offset="0" stop-color="rgb(75,75,75)"/><stop offset="0.3" stop-color="rgb(68,68,68)"/><stop offset="0.5" stop-color="rgb(55,55,55)"/><stop offset="0.65" stop-color="rgb(38,38,38)"/><stop offset="0.75" stop-color="rgb(23,23,23)"/><stop offset="0.85" stop-color="rgb(3,3,3)"/><stop offset="0.92" stop-color="rgb(0,0,0)"/><stop offset="0.97" stop-color="rgb(0,0,0)"/><stop offset="1.0" stop-color="rgb(0,0,0)"/></radialGradient><radialGradient id="v35" r="0.55"><stop offset="0" stop-color="rgb(75,75,75)"/><stop offset="0.4" stop-color="rgb(54,54,54)"/><stop offset="0.6" stop-color="rgb(34,34,34)"/><stop offset="0.75" stop-color="rgb(17,17,17)"/><stop offset="0.87" stop-color="rgb(2,2,2)"/><stop offset="1.0" stop-color="rgb(0,0,0)"/></radialGradient><radialGradient id="d36"><stop offset="0" stop-color="rgb(77,77,77)"/><stop offset="0.3" stop-color="rgb(70,70,70)"/><stop offset="0.5" stop-color="rgb(57,57,57)"/><stop offset="0.65" stop-color="rgb(40,40,40)"/><stop offset="0.75" stop-color="rgb(25,25,25)"/><stop offset="0.85" stop-color="rgb(5,5,5)"/><stop offset="0.92" stop-color="rgb(0,0,0)"/><stop offset="0.97" stop-color="rgb(0,0,0)"/><stop offset="1.0" stop-color="rgb(0,0,0)"/></radialGradient><radialGradient id="v36" r="0.55"><stop offset="0" stop-color="rgb(77,77,77)"/><stop offset="0.4" stop-color="rgb(56,56,56)"/><stop offset="0.6" stop-color="rgb(37,37,37)"/><stop offset="0.75" stop-color="rgb(19,19,19)"/><stop offset="0.87" stop-color="rgb(4,4,4)"/><stop offset="1.0" stop-color="rgb(0,0,0)"/></radialGradient><radialGradient id="d37"><stop offset="0" stop-color="rgb(79,79,79)"/><stop offset="0.3" stop-color="rgb(72,72,72)"/><stop offset="0.5" stop-color="rgb(59,59,59)"/><stop offset="0.65" stop-color="rgb(43,43,43)"/><stop offset="0.75" stop-color="rgb(27,27,27)"/><stop offset="0.85" stop-color="rgb(7,7,7)"/><stop offset="0.92" stop-color="rgb(0,0,0)"/><stop offset="0.97" stop-color="rgb(0,0,0)"/><stop offset="1.0" stop-color="rgb(0,0,0)"/></radialGradient><radialGradient id="v37" r="0.55"><stop offset="0" stop-color="rgb(79,79,79)"/><stop offset="0.4" stop-color="rgb(58,58,58)"/><stop offset="0.6" stop-color="rgb(39,39,39)"/><stop offset="0.75" stop-color="rgb(21,21,21)"/><stop offset="0.87" stop-color="rgb(6,6,6)"/><stop offset="1.0" stop-color="rgb(0,0,0)"/></radialGradient><radialGradient id="d38"><stop offset="0" stop-color="rgb(81,81,81)"/><stop offset="0.3" stop-color="rgb(74,74,74)"/><stop offset="0.5" stop-color="rgb(61,61,61)"/><stop offset="0.65" stop-color="rgb(45,45,45)"/><stop offset="0.75" stop-color="rgb(30,30,30)"/><stop offset="0.85" stop-color="rgb(9,9,9)"/><stop offset="0.92" stop-color="rgb(0,0,0)"/><stop offset="0.97" stop-color="rgb(0,0,0)"/><stop offset="1.0" stop-color="rgb(0,0,0)"/></radialGradient><radialGradient id="v38" r="0.55"><stop offset="0" stop-color="rgb(81,81,81)"/><stop offset="0.4" stop-color="rgb(60,60,60)"/><stop offset="0.6" stop-color="rgb(41,41,41)"/><stop offset="0.75" stop-color="rgb(23,23,23)"/><stop offset="0.87" stop-color="rgb(8,8,8)"/><stop offset="1.0" stop-color="rgb(0,0,0)"/></radialGradient><radialGradient id="d39"><stop offset="0" stop-color="rgb(84,84,84)"/><stop offset="0.3" stop-color="rgb(77,77,77)"/><stop offset="0.5" stop-color="rgb(63,63,63)"/><stop offset="0.65" stop-color="rgb(47,47,47)"/><stop offset="0.75" stop-color="rgb(32,32,32)"/><stop offset="0.85" stop-color="rgb(11,11,11)"/><stop offset="0.92" stop-color="rgb(0,0,0)"/><stop offset="0.97" stop-color="rgb(0,0,0)"/><stop offset="1.0" stop-color="rgb(0,0,0)"/></radialGradient><radialGradient id="v39" r="0.55"><stop offset="0" stop-color="rgb(84,84,84)"/><stop offset="0.4" stop-color="rgb(62,62,62)"/><stop offset="0.6" stop-color="rgb(43,43,43)"/><stop offset="0.75" stop-color="rgb(26,26,26)"/><stop offset="0.87" stop-color="rgb(10,10,10)"/><stop offset="1.0" stop-color="rgb(0,0,0)"/></radialGradient><radialGradient id="d40"><stop offset="0" stop-color="rgb(86,86,86)"/><stop offset="0.3" stop-color="rgb(79,79,79)"/><stop offset="0.5" stop-color="rgb(65,65,65)"/><stop offset="0.65" stop-color="rgb(49,49,49)"/><stop offset="0.75" stop-color="rgb(34,34,34)"/><stop offset="0.85" stop-color="rgb(13,13,13)"/><stop offset="0.92" stop-color="rgb(0,0,0)"/><stop offset="0.97" stop-color="rgb(0,0,0)"/><stop offset="1.0" stop-color="rgb(0,0,0)"/></radialGradient><radialGradient id="v40" r="0.55"><stop offset="0" stop-color="rgb(86,86,86)"/><stop offset="0.4" stop-color="rgb(65,65,65)"/><stop offset="0.6" stop-color="rgb(45,45,45)"/><stop offset="0.75" stop-color="rgb(28,28,28)"/><stop offset="0.87" stop-color="rgb(12,12,12)"/><stop offset="1.0" stop-color="rgb(0,0,0)"/></radialGradient><radialGradient id="d41"><stop offset="0" stop-color="rgb(88,88,88)"/><stop offset="0.3" stop-color="rgb(81,81,81)"/><stop offset="0.5" stop-color="rgb(67,67,67)"/><stop offset="0.65" stop-color="rgb(51,51,51)"/><stop offset="0.75" stop-color="rgb(36,36,36)"/><stop offset="0.85" stop-color="rgb(15,15,15)"/><stop offset="0.92" stop-color="rgb(0,0,0)"/><stop offset="0.97" stop-color="rgb(0,0,0)"/><stop offset="1.0" stop-color="rgb(0,0,0)"/></radialGradient><radialGradient id="v41" r="0.55"><stop offset="0" stop-color="rgb(88,88,88)"/><stop offset="0.4" stop-color="rgb(67,67,67)"/><stop offset="0.6" stop-color="rgb(47,47,47)"/><stop offset="0.75" stop-color="rgb(30,30,30)"/><stop offset="0.87" stop-color="rgb(14,14,14)"/><stop offset="1.0" stop-color="rgb(0,0,0)"/></radialGradient><radialGradient id="d42"><stop offset="0" stop-color="rgb(90,90,90)"/><stop offset="0.3" stop-color="rgb(83,83,83)"/><stop offset="0.5" stop-color="rgb(70,70,70)"/><stop offset="0.65" stop-color="rgb(53,53,53)"/><stop offset="0.75" stop-color="rgb(38,38,38)"/><stop offset="0.85" stop-color="rgb(18,18,18)"/><stop offset="0.92" stop-color="rgb(0,0,0)"/><stop offset="0.97" stop-color="rgb(0,0,0)"/><stop offset="1.0" stop-color="rgb(0,0,0)"/></radialGradient><radialGradient id="v42" r="0.55"><stop offset="0" stop-color="rgb(90,90,90)"/><stop offset="0.4" stop-color="rgb(69,69,69)"/><stop offset="0.6" stop-color="rgb(49,49,49)"/><stop offset="0.75" stop-color="rgb(32,32,32)"/><stop offset="0.87" stop-color="rgb(17,17,17)"/><stop offset="1.0" stop-color="rgb(0,0,0)"/></radialGradient><radialGradient id="d43"><stop offset="0" stop-color="rgb(92,92,92)"/><stop offset="0.3" stop-color="rgb(85,85,85)"/><stop offset="0.5" stop-color="rgb(72,72,72)"/><stop offset="0.65" stop-color="rgb(55,55,55)"/><stop offset="0.75" stop-color="rgb(40,40,40)"/><stop offset="0.85" stop-color="rgb(20,20,20)"/><stop offset="0.92" stop-color="rgb(0,0,0)"/><stop offset="0.97" stop-color="rgb(0,0,0)"/><stop offset="1.0" stop-color="rgb(0,0,0)"/></radialGradient><radialGradient id="v43" r="0.55"><stop offset="0" stop-color="rgb(92,92,92)"/><stop offset="0.4" stop-color="rgb(71,71,71)"/><stop offset="0.6" stop-color="rgb(52,52,52)"/><stop offset="0.75" stop-color="rgb(34,34,34)"/><stop offset="0.87" stop-color="rgb(19,19,19)"/><stop offset="1.0" stop-color="rgb(0,0,0)"/></radialGradient><radialGradient id="d44"><stop offset="0" stop-color="rgb(94,94,94)"/><stop offset="0.3" stop-color="rgb(87,87,87)"/><stop offset="0.5" stop-color="rgb(74,74,74)"/><stop offset="0.65" stop-color="rgb(58,58,58)"/><stop offset="0.75" stop-color="rgb(42,42,42)"/><stop offset="0.85" stop-color="rgb(22,22,22)"/><stop offset="0.92" stop-color="rgb(1,1,1)"/><stop offset="0.97" stop-color="rgb(0,0,0)"/><stop offset="1.0" stop-color="rgb(0,0,0)"/></radialGradient><radialGradient id="v44" r="0.55"><stop offset="0" stop-color="rgb(94,94,94)"/><stop offset="0.4" stop-color="rgb(73,73,73)"/><stop offset="0.6" stop-color="rgb(54,54,54)"/><stop offset="0.75" stop-color="rgb(36,36,36)"/><stop offset="0.87" stop-color="rgb(21,21,21)"/><stop offset="1.0" stop-color="rgb(2,2,2)"/></radialGradient><radialGradient id="d45"><stop offset="0" stop-color="rgb(96,96,96)"/><stop offset="0.3" stop-color="rgb(89,89,89)"/><stop offset="0.5" stop-color="rgb(76,76,76)"/><stop offset="0.65" stop-color="rgb(60,60,60)"/><stop offset="0.75" stop-color="rgb(45,45,45)"/><stop offset="0.85" stop-color="rgb(24,24,24)"/><stop offset="0.92" stop-color="rgb(3,3,3)"/><stop offset="0.97" stop-color="rgb(0,0,0)"/><stop offset="1.0" stop-color="rgb(0,0,0)"/></radialGradient><radialGradient id="v45" r="0.55"><stop offset="0" stop-color="rgb(96,96,96)"/><stop offset="0.4" stop-color="rgb(75,75,75)"/><stop offset="0.6" stop-color="rgb(56,56,56)"/><stop offset="0.75" stop-color="rgb(38,38,38)"/><stop offset="0.87" stop-color="rgb(23,23,23)"/><stop offset="1.0" stop-color="rgb(5,5,5)"/></radialGradient><radialGradient id="d46"><stop offset="0" stop-color="rgb(99,99,99)"/><stop offset="0.3" stop-color="rgb(92,92,92)"/><stop offset="0.5" stop-color="rgb(78,78,78)"/><stop offset="0.65" stop-color="rgb(62,62,62)"/><stop offset="0.75" stop-color="rgb(47,47,47)"/><stop offset="0.85" stop-color="rgb(26,26,26)"/><stop offset="0.92" stop-color="rgb(6,6,6)"/><stop offset="0.97" stop-color="rgb(0,0,0)"/><stop offset="1.0" stop-color="rgb(0,0,0)"/></radialGradient><radialGradient id="v46" r="0.55"><stop offset="0" stop-color="rgb(99,99,99)"/><stop offset="0.4" stop-color="rgb(77,77,77)"/><stop offset="0.6" stop-color="rgb(58,58,58)"/><stop offset="0.75" stop-color="rgb(41,41,41)"/><stop offset="0.87" stop-color="rgb(25,25,25)"/><stop offset="1.0" stop-color="rgb(7,7,7)"/></radialGradient><radialGradient id="d47"><stop offset="0" stop-color="rgb(101,101,101)"/><stop offset="0.3" stop-color="rgb(94,94,94)"/><stop offset="0.5" stop-color="rgb(80,80,80)"/><stop offset="0.65" stop-color="rgb(64,64,64)"/><stop offset="0.75" stop-color="rgb(49,49,49)"/><stop offset="0.85" stop-color="rgb(28,28,28)"/><stop offset="0.92" stop-color="rgb(8,8,8)"/><stop offset="0.97" stop-color="rgb(0,0,0)"/><stop offset="1.0" stop-color="rgb(0,0,0)"/></radialGradient><radialGradient id="v47" r="0.55"><stop offset="0" stop-color="rgb(101,101,101)"/><stop offset="0.4" stop-color="rgb(80,80,80)"/><stop offset="0.6" stop-color="rgb(60,60,60)"/><stop offset="0.75" stop-color="rgb(43,43,43)"/><stop offset="0.87" stop-color="rgb(27,27,27)"/><stop offset="1.0" stop-color="rgb(9,9,9)"/></radialGradient><radialGradient id="d48"><stop offset="0" stop-color="rgb(103,103,103)"/><stop offset="0.3" stop-color="rgb(96,96,96)"/><stop offset="0.5" stop-color="rgb(82,82,82)"/><stop offset="0.65" stop-color="rgb(66,66,66)"/><stop offset="0.75" stop-color="rgb(51,51,51)"/><stop offset="0.85" stop-color="rgb(30,30,30)"/><stop offset="0.92" stop-color="rgb(10,10,10)"/><stop offset="0.97" stop-color="rgb(0,0,0)"/><stop offset="1.0" stop-color="rgb(0,0,0)"/></radialGradient><radialGradient id="v48" r="0.55"><stop offset="0" stop-color="rgb(103,103,103)"/><stop offset="0.4" stop-color="rgb(82,82,82)"/><stop offset="0.6" stop-color="rgb(62,62,62)"/><stop offset="0.75" stop-color="rgb(45,45,45)"/><stop offset="0.87" stop-color="rgb(29,29,29)"/><stop offset="1.0" stop-color="rgb(11,11,11)"/></radialGradient><radialGradient id="d49"><stop offset="0" stop-color="rgb(105,105,105)"/><stop offset="0.3" stop-color="rgb(98,98,98)"/><stop offset="0.5" stop-color="rgb(85,85,85)"/><stop offset="0.65" stop-color="rgb(68,68,68)"/><stop offset="0.75" stop-color="rgb(53,53,53)"/><stop offset="0.85" stop-color="rgb(33,33,33)"/><stop offset="0.92" stop-color="rgb(12,12,12)"/><stop offset="0.97" stop-color="rgb(0,0,0)"/><stop offset="1.0" stop-color="rgb(0,0,0)"/></radialGradient><radialGradient id="v49" r="0.55"><stop offset="0" stop-color="rgb(105,105,105)"/><stop offset="0.4" stop-color="rgb(84,84,84)"/><stop offset="0.6" stop-color="rgb(64,64,64)"/><stop offset="0.75" stop-color="rgb(47,47,47)"/><stop offset="0.87" stop-color="rgb(32,32,32)"/><stop offset="1.0" stop-color="rgb(13,13,13)"/></radialGradient><radialGradient id="d50"><stop offset="0" stop-color="rgb(107,107,107)"/><stop offset="0.3" stop-color="rgb(100,100,100)"/><stop offset="0.5" stop-color="rgb(87,87,87)"/><stop offset="0.65" stop-color="rgb(70,70,70)"/><stop offset="0.75" stop-color="rgb(55,55,55)"/><stop offset="0.85" stop-color="rgb(35,35,35)"/><stop offset="0.92" stop-color="rgb(14,14,14)"/><stop offset="0.97" stop-color="rgb(0,0,0)"/><stop offset="1.0" stop-color="rgb(0,0,0)"/></radialGradient><radialGradient id="v50" r="0.55"><stop offset="0" stop-color="rgb(107,107,107)"/><stop offset="0.4" stop-color="rgb(86,86,86)"/><stop offset="0.6" stop-color="rgb(67,67,67)"/><stop offset="0.75" stop-color="rgb(49,49,49)"/><stop offset="0.87" stop-color="rgb(34,34,34)"/><stop offset="1.0" stop-color="rgb(15,15,15)"/></radialGradient><radialGradient id="d51"><stop offset="0" stop-color="rgb(109,109,109)"/><stop offset="0.3" stop-color="rgb(102,102,102)"/><stop offset="0.5" stop-color="rgb(89,89,89)"/><stop offset="0.65" stop-color="rgb(73,73,73)"/><stop offset="0.75" stop-color="rgb(57,57,57)"/><stop offset="0.85" stop-color="rgb(37,37,37)"/><stop offset="0.92" stop-color="rgb(16,16,16)"/><stop offset="0.97" stop-color="rgb(0,0,0)"/><stop offset="1.0" stop-color="rgb(0,0,0)"/></radialGradient><radialGradient id="v51" r="0.55"><stop offset="0" stop-color="rgb(109,109,109)"/><stop offset="0.4" stop-color="rgb(88,88,88)"/><stop offset="0.6" stop-color="rgb(69,69,69)"/><stop offset="0.75" stop-color="rgb(51,51,51)"/><stop offset="0.87" stop-color="rgb(36,36,36)"/><stop offset="1.0" stop-color="rgb(17,17,17)"/></radialGradient><radialGradient id="d52"><stop offset="0" stop-color="rgb(111,111,111)"/><stop offset="0.3" stop-color="rgb(104,104,104)"/><stop offset="0.5" stop-color="rgb(91,91,91)"/><stop offset="0.65" stop-color="rgb(75,75,75)"/><stop offset="0.75" stop-color="rgb(60,60,60)"/><stop offset="0.85" stop-color="rgb(39,39,39)"/><stop offset="0.92" stop-color="rgb(18,18,18)"/><stop offset="0.97" stop-color="rgb(0,0,0)"/><stop offset="1.0" stop-color="rgb(0,0,0)"/></radialGradient><radialGradient id="v52" r="0.55"><stop offset="0" stop-color="rgb(111,111,111)"/><stop offset="0.4" stop-color="rgb(90,90,90)"/><stop offset="0.6" stop-color="rgb(71,71,71)"/><stop offset="0.75" stop-color="rgb(53,53,53)"/><stop offset="0.87" stop-color="rgb(38,38,38)"/><stop offset="1.0" stop-color="rgb(20,20,20)"/></radialGradient><radialGradient id="d53"><stop offset="0" stop-color="rgb(114,114,114)"/><stop offset="0.3" stop-color="rgb(107,107,107)"/><stop offset="0.5" stop-color="rgb(93,93,93)"/><stop offset="0.65" stop-color="rgb(77,77,77)"/><stop offset="0.75" stop-color="rgb(62,62,62)"/><stop offset="0.85" stop-color="rgb(41,41,41)"/><stop offset="0.92" stop-color="rgb(21,21,21)"/><stop offset="0.97" stop-color="rgb(0,0,0)"/><stop offset="1.0" stop-color="rgb(0,0,0)"/></radialGradient><radialGradient id="v53" r="0.55"><stop offset="0" stop-color="rgb(114,114,114)"/><stop offset="0.4" stop-color="rgb(92,92,92)"/><stop offset="0.6" stop-color="rgb(73,73,73)"/><stop offset="0.75" stop-color="rgb(56,56,56)"/><stop offset="0.87" stop-color="rgb(40,40,40)"/><stop offset="1.0" stop-color="rgb(22,22,22)"/></radialGradient><radialGradient id="d54"><stop offset="0" stop-color="rgb(116,116,116)"/><stop offset="0.3" stop-color="rgb(109,109,109)"/><stop offset="0.5" stop-color="rgb(95,95,95)"/><stop offset="0.65" stop-color="rgb(79,79,79)"/><stop offset="0.75" stop-color="rgb(64,64,64)"/><stop offset="0.85" stop-color="rgb(43,43,43)"/><stop offset="0.92" stop-color="rgb(23,23,23)"/><stop offset="0.97" stop-color="rgb(0,0,0)"/><stop offset="1.0" stop-color="rgb(0,0,0)"/></radialGradient><radialGradient id="v54" r="0.55"><stop offset="0" stop-color="rgb(116,116,116)"/><stop offset="0.4" stop-color="rgb(95,95,95)"/><stop offset="0.6" stop-color="rgb(75,75,75)"/><stop offset="0.75" stop-color="rgb(58,58,58)"/><stop offset="0.87" stop-color="rgb(42,42,42)"/><stop offset="1.0" stop-color="rgb(24,24,24)"/></radialGradient><radialGradient id="d55"><stop offset="0" stop-color="rgb(118,118,118)"/><stop offset="0.3" stop-color="rgb(111,111,111)"/><stop offset="0.5" stop-color="rgb(97,97,97)"/><stop offset="0.65" stop-color="rgb(81,81,81)"/><stop offset="0.75" stop-color="rgb(66,66,66)"/><stop offset="0.85" stop-color="rgb(45,45,45)"/><stop offset="0.92" stop-color="rgb(25,25,25)"/><stop offset="0.97" stop-color="rgb(2,2,2)"/><stop offset="1.0" stop-color="rgb(0,0,0)"/></radialGradient><radialGradient id="v55" r="0.55"><stop offset="0" stop-color="rgb(118,118,118)"/><stop offset="0.4" stop-color="rgb(97,97,97)"/><stop offset="0.6" stop-color="rgb(77,77,77)"/><stop offset="0.75" stop-color="rgb(60,60,60)"/><stop offset="0.87" stop-color="rgb(44,44,44)"/><stop offset="1.0" stop-color="rgb(26,26,26)"/></radialGradient><radialGradient id="d56"><stop offset="0" stop-color="rgb(120,120,120)"/><stop offset="0.3" stop-color="rgb(113,113,113)"/><stop offset="0.5" stop-color="rgb(100,100,100)"/><stop offset="0.65" stop-color="rgb(83,83,83)"/><stop offset="0.75" stop-color="rgb(68,68,68)"/><stop offset="0.85" stop-color="rgb(48,48,48)"/><stop offset="0.92" stop-color="rgb(27,27,27)"/><stop offset="0.97" stop-color="rgb(4,4,4)"/><stop offset="1.0" stop-color="rgb(0,0,0)"/></radialGradient><radialGradient id="v56" r="0.55"><stop offset="0" stop-color="rgb(120,120,120)"/><stop offset="0.4" stop-color="rgb(99,99,99)"/><stop offset="0.6" stop-color="rgb(79,79,79)"/><stop offset="0.75" stop-color="rgb(62,62,62)"/><stop offset="0.87" stop-color="rgb(47,47,47)"/><stop offset="1.0" stop-color="rgb(28,28,28)"/></radialGradient><radialGradient id="d57"><stop offset="0" stop-color="rgb(122,122,122)"/><stop offset="0.3" stop-color="rgb(115,115,115)"/><stop offset="0.5" stop-color="rgb(102,102,102)"/><stop offset="0.65" stop-color="rgb(85,85,85)"/><stop offset="0.75" stop-color="rgb(70,70,70)"/><stop offset="0.85" stop-color="rgb(50,50,50)"/><stop offset="0.92" stop-color="rgb(29,29,29)"/><stop offset="0.97" stop-color="rgb(6,6,6)"/><stop offset="1.0" stop-color="rgb(0,0,0)"/></radialGradient><radialGradient id="v57" r="0.55"><stop offset="0" stop-color="rgb(122,122,122)"/><stop offset="0.4" stop-color="rgb(101,101,101)"/><stop offset="0.6" stop-color="rgb(82,82,82)"/><stop offset="0.75" stop-color="rgb(64,64,64)"/><stop offset="0.87" stop-color="rgb(49,49,49)"/><stop offset="1.0" stop-color="rgb(30,30,30)"/></radialGradient><radialGradient id="d58"><stop offset="0" stop-color="rgb(124,124,124)"/><stop offset="0.3" stop-color="rgb(117,117,117)"/><stop offset="0.5" stop-color="rgb(104,104,104)"/><stop offset="0.65" stop-color="rgb(88,88,88)"/><stop offset="0.75" stop-color="rgb(72,72,72)"/><stop offset="0.85" stop-color="rgb(52,52,52)"/><stop offset="0.92" stop-color="rgb(31,31,31)"/><stop offset="0.97" stop-color="rgb(8,8,8)"/><stop offset="1.0" stop-color="rgb(0,0,0)"/></radialGradient><radialGradient id="v58" r="0.55"><stop offset="0" stop-color="rgb(124,124,124)"/><stop offset="0.4" stop-color="rgb(103,103,103)"/><stop offset="0.6" stop-color="rgb(84,84,84)"/><stop offset="0.75" stop-color="rgb(66,66,66)"/><stop offset="0.87" stop-color="rgb(51,51,51)"/><stop offset="1.0" stop-color="rgb(32,32,32)"/></radialGradient><radialGradient id="d59"><stop offset="0" stop-color="rgb(126,126,126)"/><stop offset="0.3" stop-color="rgb(119,119,119)"/><stop offset="0.5" stop-color="rgb(106,106,106)"/><stop offset="0.65" stop-color="rgb(90,90,90)"/><stop offset="0.75" stop-color="rgb(75,75,75)"/><stop offset="0.85" stop-color="rgb(54,54,54)"/><stop offset="0.92" stop-color="rgb(33,33,33)"/><stop offset="0.97" stop-color="rgb(11,11,11)"/><stop offset="1.0" stop-color="rgb(0,0,0)"/></radialGradient><radialGradient id="v59" r="0.55"><stop offset="0" stop-color="rgb(126,126,126)"/><stop offset="0.4" stop-color="rgb(105,105,105)"/><stop offset="0.6" stop-color="rgb(86,86,86)"/><stop offset="0.75" stop-color="rgb(68,68,68)"/><stop offset="0.87" stop-color="rgb(53,53,53)"/><stop offset="1.0" stop-color="rgb(35,35,35)"/></radialGradient><radialGradient id="d60"><stop offset="0" stop-color="rgb(129,129,129)"/><stop offset="0.3" stop-color="rgb(122,122,122)"/><stop offset="0.5" stop-color="rgb(108,108,108)"/><stop offset="0.65" stop-color="rgb(92,92,92)"/><stop offset="0.75" stop-color="rgb(77,77,77)"/><stop offset="0.85" stop-color="rgb(56,56,56)"/><stop offset="0.92" stop-color="rgb(36,36,36)"/><stop offset="0.97" stop-color="rgb(13,13,13)"/><stop offset="1.0" stop-color="rgb(0,0,0)"/></radialGradient><radialGradient id="v60" r="0.55"><stop offset="0" stop-color="rgb(129,129,129)"/><stop offset="0.4" stop-color="rgb(107,107,107)"/><stop offset="0.6" stop-color="rgb(88,88,88)"/><stop offset="0.75" stop-color="rgb(71,71,71)"/><stop offset="0.87" stop-color="rgb(55,55,55)"/><stop offset="1.0" stop-color="rgb(37,37,37)"/></radialGradient><radialGradient id="d61"><stop offset="0" stop-color="rgb(131,131,131)"/><stop offset="0.3" stop-color="rgb(124,124,124)"/><stop offset="0.5" stop-color="rgb(110,110,110)"/><stop offset="0.65" stop-color="rgb(94,94,94)"/><stop offset="0.75" stop-color="rgb(79,79,79)"/><stop offset="0.85" stop-color="rgb(58,58,58)"/><stop offset="0.92" stop-color="rgb(38,38,38)"/><stop offset="0.97" stop-color="rgb(15,15,15)"/><stop offset="1.0" stop-color="rgb(0,0,0)"/></radialGradient><radialGradient id="v61" r="0.55"><stop offset="0" stop-color="rgb(131,131,131)"/><stop offset="0.4" stop-color="rgb(110,110,110)"/><stop offset="0.6" stop-color="rgb(90,90,90)"/><stop offset="0.75" stop-color="rgb(73,73,73)"/><stop offset="0.87" stop-color="rgb(57,57,57)"/><stop offset="1.0" stop-color="rgb(39,39,39)"/></radialGradient><radialGradient id="d62"><stop offset="0" stop-color="rgb(133,133,133)"/><stop offset="0.3" stop-color="rgb(126,126,126)"/><stop offset="0.5" stop-color="rgb(112,112,112)"/><stop offset="0.65" stop-color="rgb(96,96,96)"/><stop offset="0.75" stop-color="rgb(81,81,81)"/><stop offset="0.85" stop-color="rgb(60,60,60)"/><stop offset="0.92" stop-color="rgb(40,40,40)"/><stop offset="0.97" stop-color="rgb(17,17,17)"/><stop offset="1.0" stop-color="rgb(0,0,0)"/></radialGradient><radialGradient id="v62" r="0.55"><stop offset="0" stop-color="rgb(133,133,133)"/><stop offset="0.4" stop-color="rgb(112,112,112)"/><stop offset="0.6" stop-color="rgb(92,92,92)"/><stop offset="0.75" stop-color="rgb(75,75,75)"/><stop offset="0.87" stop-color="rgb(59,59,59)"/><stop offset="1.0" stop-color="rgb(41,41,41)"/></radialGradient><radialGradient id="d63"><stop offset="0" stop-color="rgb(135,135,135)"/><stop offset="0.3" stop-color="rgb(128,128,128)"/><stop offset="0.5" stop-color="rgb(115,115,115)"/><stop offset="0.65" stop-color="rgb(98,98,98)"/><stop offset="0.75" stop-color="rgb(83,83,83)"/><stop offset="0.85" stop-color="rgb(63,63,63)"/><stop offset="0.92" stop-color="rgb(42,42,42)"/><stop offset="0.97" stop-color="rgb(19,19,19)"/><stop offset="1.0" stop-color="rgb(0,0,0)"/></radialGradient><radialGradient id="v63" r="0.55"><stop offset="0" stop-color="rgb(135,135,135)"/><stop offset="0.4" stop-color="rgb(114,114,114)"/><stop offset="0.6" stop-color="rgb(94,94,94)"/><stop offset="0.75" stop-color="rgb(77,77,77)"/><stop offset="0.87" stop-color="rgb(62,62,62)"/><stop offset="1.0" stop-color="rgb(43,43,43)"/></radialGradient><radialGradient id="d64"><stop offset="0" stop-color="rgb(137,137,137)"/><stop offset="0.3" stop-color="rgb(130,130,130)"/><stop offset="0.5" stop-color="rgb(117,117,117)"/><stop offset="0.65" stop-color="rgb(100,100,100)"/><stop offset="0.75" stop-color="rgb(85,85,85)"/><stop offset="0.85" stop-color="rgb(65,65,65)"/><stop offset="0.92" stop-color="rgb(44,44,44)"/><stop offset="0.97" stop-color="rgb(21,21,21)"/><stop offset="1.0" stop-color="rgb(0,0,0)"/></radialGradient><radialGradient id="v64" r="0.55"><stop offset="0" stop-color="rgb(137,137,137)"/><stop offset="0.4" stop-color="rgb(116,116,116)"/><stop offset="0.6" stop-color="rgb(97,97,97)"/><stop offset="0.75" stop-color="rgb(79,79,79)"/><stop offset="0.87" stop-color="rgb(64,64,64)"/><stop offset="1.0" stop-color="rgb(45,45,45)"/></radialGradient><radialGradient id="d65"><stop offset="0" stop-color="rgb(139,139,139)"/><stop offset="0.3" stop-color="rgb(132,132,132)"/><stop offset="0.5" stop-color="rgb(119,119,119)"/><stop offset="0.65" stop-color="rgb(103,103,103)"/><stop offset="0.75" stop-color="rgb(87,87,87)"/><stop offset="0.85" stop-color="rgb(67,67,67)"/><stop offset="0.92" stop-color="rgb(46,46,46)"/><stop offset="0.97" stop-color="rgb(23,23,23)"/><stop offset="1.0" stop-color="rgb(0,0,0)"/></radialGradient><radialGradient id="v65" r="0.55"><stop offset="0" stop-color="rgb(139,139,139)"/><stop offset="0.4" stop-color="rgb(118,118,118)"/><stop offset="0.6" stop-color="rgb(99,99,99)"/><stop offset="0.75" stop-color="rgb(81,81,81)"/><stop offset="0.87" stop-color="rgb(66,66,66)"/><stop offset="1.0" stop-color="rgb(47,47,47)"/></radialGradient><radialGradient id="d66"><stop offset="0" stop-color="rgb(141,141,141)"/><stop offset="0.3" stop-color="rgb(134,134,134)"/><stop offset="0.5" stop-color="rgb(121,121,121)"/><stop offset="0.65" stop-color="rgb(105,105,105)"/><stop offset="0.75" stop-color="rgb(90,90,90)"/><stop offset="0.85" stop-color="rgb(69,69,69)"/><stop offset="0.92" stop-color="rgb(48,48,48)"/><stop offset="0.97" stop-color="rgb(26,26,26)"/><stop offset="1.0" stop-color="rgb(0,0,0)"/></radialGradient><radialGradient id="v66" r="0.55"><stop offset="0" stop-color="rgb(141,141,141)"/><stop offset="0.4" stop-color="rgb(120,120,120)"/><stop offset="0.6" stop-color="rgb(101,101,101)"/><stop offset="0.75" stop-color="rgb(83,83,83)"/><stop offset="0.87" stop-color="rgb(68,68,68)"/><stop offset="1.0" stop-color="rgb(50,50,50)"/></radialGradient><radialGradient id="d67"><stop offset="0" stop-color="rgb(144,144,144)"/><stop offset="0.3" stop-color="rgb(137,137,137)"/><stop offset="0.5" stop-color="rgb(123,123,123)"/><stop offset="0.65" stop-color="rgb(107,107,107)"/><stop offset="0.75" stop-color="rgb(92,92,92)"/><stop offset="0.85" stop-color="rgb(71,71,71)"/><stop offset="0.92" stop-color="rgb(51,51,51)"/><stop offset="0.97" stop-color="rgb(28,28,28)"/><stop offset="1.0" stop-color="rgb(0,0,0)"/></radialGradient><radialGradient id="v67" r="0.55"><stop offset="0" stop-color="rgb(144,144,144)"/><stop offset="0.4" stop-color="rgb(122,122,122)"/><stop offset="0.6" stop-color="rgb(103,103,103)"/><stop offset="0.75" stop-color="rgb(86,86,86)"/><stop offset="0.87" stop-color="rgb(70,70,70)"/><stop offset="1.0" stop-color="rgb(52,52,52)"/></radialGradient><radialGradient id="d68"><stop offset="0" stop-color="rgb(146,146,146)"/><stop offset="0.3" stop-color="rgb(139,139,139)"/><stop offset="0.5" stop-color="rgb(125,125,125)"/><stop offset="0.65" stop-color="rgb(109,109,109)"/><stop offset="0.75" stop-color="rgb(94,94,94)"/><stop offset="0.85" stop-color="rgb(73,73,73)"/><stop offset="0.92" stop-color="rgb(53,53,53)"/><stop offset="0.97" stop-color="rgb(30,30,30)"/><stop offset="1.0" stop-color="rgb(0,0,0)"/></radialGradient><radialGradient id="v68" r="0.55"><stop offset="0" stop-color="rgb(146,146,146)"/><stop offset="0.4" stop-color="rgb(125,125,125)"/><stop offset="0.6" stop-color="rgb(105,105,105)"/><stop offset="0.75" stop-color="rgb(88,88,88)"/><stop offset="0.87" stop-color="rgb(72,72,72)"/><stop offset="1.0" stop-color="rgb(54,54,54)"/></radialGradient><radialGradient id="d69"><stop offset="0" stop-color="rgb(148,148,148)"/><stop offset="0.3" stop-color="rgb(141,141,141)"/><stop offset="0.5" stop-color="rgb(127,127,127)"/><stop offset="0.65" stop-color="rgb(111,111,111)"/><stop offset="0.75" stop-color="rgb(96,96,96)"/><stop offset="0.85" stop-color="rgb(75,75,75)"/><stop offset="0.92" stop-color="rgb(55,55,55)"/><stop offset="0.97" stop-color="rgb(32,32,32)"/><stop offset="1.0" stop-color="rgb(0,0,0)"/></radialGradient><radialGradient id="v69" r="0.55"><stop offset="0" stop-color="rgb(148,148,148)"/><stop offset="0.4" stop-color="rgb(127,127,127)"/><stop offset="0.6" stop-color="rgb(107,107,107)"/><stop offset="0.75" stop-color="rgb(90,90,90)"/><stop offset="0.87" stop-color="rgb(74,74,74)"/><stop offset="1.0" stop-color="rgb(56,56,56)"/></radialGradient><radialGradient id="d70"><stop offset="0" stop-color="rgb(150,150,150)"/><stop offset="0.3" stop-color="rgb(143,143,143)"/><stop offset="0.5" stop-color="rgb(130,130,130)"/><stop offset="0.65" stop-color="rgb(113,113,113)"/><stop offset="0.75" stop-color="rgb(98,98,98)"/><stop offset="0.85" stop-color="rgb(78,78,78)"/><stop offset="0.92" stop-color="rgb(57,57,57)"/><stop offset="0.97" stop-color="rgb(34,34,34)"/><stop offset="1.0" stop-color="rgb(0,0,0)"/></radialGradient><radialGradient id="v70" r="0.55"><stop offset="0" stop-color="rgb(150,150,150)"/><stop offset="0.4" stop-color="rgb(129,129,129)"/><stop offset="0.6" stop-color="rgb(109,109,109)"/><stop offset="0.75" stop-color="rgb(92,92,92)"/><stop offset="0.87" stop-color="rgb(77,77,77)"/><stop offset="1.0" stop-color="rgb(58,58,58)"/></radialGradient><radialGradient id="d71"><stop offset="0" stop-color="rgb(152,152,152)"/><stop offset="0.3" stop-color="rgb(145,145,145)"/><stop offset="0.5" stop-color="rgb(132,132,132)"/><stop offset="0.65" stop-color="rgb(115,115,115)"/><stop offset="0.75" stop-color="rgb(100,100,100)"/><stop offset="0.85" stop-color="rgb(80,80,80)"/><stop offset="0.92" stop-color="rgb(59,59,59)"/><stop offset="0.97" stop-color="rgb(36,36,36)"/><stop offset="1.0" stop-color="rgb(0,0,0)"/></radialGradient><radialGradient id="v71" r="0.55"><stop offset="0" stop-color="rgb(152,152,152)"/><stop offset="0.4" stop-color="rgb(131,131,131)"/><stop offset="0.6" stop-color="rgb(112,112,112)"/><stop offset="0.75" stop-color="rgb(94,94,94)"/><stop offset="0.87" stop-color="rgb(79,79,79)"/><stop offset="1.0" stop-color="rgb(60,60,60)"/></radialGradient><radialGradient id="d72"><stop offset="0" stop-color="rgb(154,154,154)"/><stop offset="0.3" stop-color="rgb(147,147,147)"/><stop offset="0.5" stop-color="rgb(134,134,134)"/><stop offset="0.65" stop-color="rgb(118,118,118)"/><stop offset="0.75" stop-color="rgb(102,102,102)"/><stop offset="0.85" stop-color="rgb(82,82,82)"/><stop offset="0.92" stop-color="rgb(61,61,61)"/><stop offset="0.97" stop-color="rgb(38,38,38)"/><stop offset="1.0" stop-color="rgb(1,1,1)"/></radialGradient><radialGradient id="v72" r="0.55"><stop offset="0" stop-color="rgb(154,154,154)"/><stop offset="0.4" stop-color="rgb(133,133,133)"/><stop offset="0.6" stop-color="rgb(114,114,114)"/><stop offset="0.75" stop-color="rgb(96,96,96)"/><stop offset="0.87" stop-color="rgb(81,81,81)"/><stop offset="1.0" stop-color="rgb(62,62,62)"/></radialGradient><radialGradient id="d73"><stop offset="0" stop-color="rgb(156,156,156)"/><stop offset="0.3" stop-color="rgb(149,149,149)"/><stop offset="0.5" stop-color="rgb(136,136,136)"/><stop offset="0.65" stop-color="rgb(120,120,120)"/><stop offset="0.75" stop-color="rgb(105,105,105)"/><stop offset="0.85" stop-color="rgb(84,84,84)"/><stop offset="0.92" stop-color="rgb(63,63,63)"/><stop offset="0.97" stop-color="rgb(41,41,41)"/><stop offset="1.0" stop-color="rgb(3,3,3)"/></radialGradient><radialGradient id="v73" r="0.55"><stop offset="0" stop-color="rgb(156,156,156)"/><stop offset="0.4" stop-color="rgb(135,135,135)"/><stop offset="0.6" stop-color="rgb(116,116,116)"/><stop offset="0.75" stop-color="rgb(98,98,98)"/><stop offset="0.87" stop-color="rgb(83,83,83)"/><stop offset="1.0" stop-color="rgb(65,65,65)"/></radialGradient><radialGradient id="d74"><stop offset="0" stop-color="rgb(159,159,159)"/><stop offset="0.3" stop-color="rgb(152,152,152)"/><stop offset="0.5" stop-color="rgb(138,138,138)"/><stop offset="0.65" stop-color="rgb(122,122,122)"/><stop offset="0.75" stop-color="rgb(107,107,107)"/><stop offset="0.85" stop-color="rgb(86,86,86)"/><stop offset="0.92" stop-color="rgb(66,66,66)"/><stop offset="0.97" stop-color="rgb(43,43,43)"/><stop offset="1.0" stop-color="rgb(6,6,6)"/></radialGradient><radialGradient id="v74" r="0.55"><stop offset="0" stop-color="rgb(159,159,159)"/><stop offset="0.4" stop-color="rgb(137,137,137)"/><stop offset="0.6" stop-color="rgb(118,118,118)"/><stop offset="0.75" stop-color="rgb(101,101,101)"/><stop offset="0.87" stop-color="rgb(85,85,85)"/><stop offset="1.0" stop-color="rgb(67,67,67)"/></radialGradient><radialGradient id="d75"><stop offset="0" stop-color="rgb(161,161,161)"/><stop offset="0.3" stop-color="rgb(154,154,154)"/><stop offset="0.5" stop-color="rgb(140,140,140)"/><stop offset="0.65" stop-color="rgb(124,124,124)"/><stop offset="0.75" stop-color="rgb(109,109,109)"/><stop offset="0.85" stop-color="rgb(88,88,88)"/><stop offset="0.92" stop-color="rgb(68,68,68)"/><stop offset="0.97" stop-color="rgb(45,45,45)"/><stop offset="1.0" stop-color="rgb(8,8,8)"/></radialGradient><radialGradient id="v75" r="0.55"><stop offset="0" stop-color="rgb(161,161,161)"/><stop offset="0.4" stop-color="rgb(140,140,140)"/><stop offset="0.6" stop-color="rgb(120,120,120)"/><stop offset="0.75" stop-color="rgb(103,103,103)"/><stop offset="0.87" stop-color="rgb(87,87,87)"/><stop offset="1.0" stop-color="rgb(69,69,69)"/></radialGradient><radialGradient id="d76"><stop offset="0" stop-color="rgb(163,163,163)"/><stop offset="0.3" stop-color="rgb(156,156,156)"/><stop offset="0.5" stop-color="rgb(142,142,142)"/><stop offset="0.65" stop-color="rgb(126,126,126)"/><stop offset="0.75" stop-color="rgb(111,111,111)"/><stop offset="0.85" stop-color="rgb(90,90,90)"/><stop offset="0.92" stop-color="rgb(70,70,70)"/><stop offset="0.97" stop-color="rgb(47,47,47)"/><stop offset="1.0" stop-color="rgb(10,10,10)"/></radialGradient><radialGradient id="v76" r="0.55"><stop offset="0" stop-color="rgb(163,163,163)"/><stop offset="0.4" stop-color="rgb(142,142,142)"/><stop offset="0.6" stop-color="rgb(122,122,122)"/><stop offset="0.75" stop-color="rgb(105,105,105)"/><stop offset="0.87" stop-color="rgb(89,89,89)"/><stop offset="1.0" stop-color="rgb(71,71,71)"/></radialGradient><radialGradient id="d77"><stop offset="0" stop-color="rgb(165,165,165)"/><stop offset="0.3" stop-color="rgb(158,158,158)"/><stop offset="0.5" stop-color="rgb(145,145,145)"/><stop offset="0.65" stop-color="rgb(128,128,128)"/><stop offset="0.75" stop-color="rgb(113,113,113)"/><stop offset="0.85" stop-color="rgb(93,93,93)"/><stop offset="0.92" stop-color="rgb(72,72,72)"/><stop offset="0.97" stop-color="rgb(49,49,49)"/><stop offset="1.0" stop-color="rgb(12,12,12)"/></radialGradient><radialGradient id="v77" r="0.55"><stop offset="0" stop-color="rgb(165,165,165)"/><stop offset="0.4" stop-color="rgb(144,144,144)"/><stop offset="0.6" stop-color="rgb(124,124,124)"/><stop offset="0.75" stop-color="rgb(107,107,107)"/><stop offset="0.87" stop-color="rgb(92,92,92)"/><stop offset="1.0" stop-color="rgb(73,73,73)"/></radialGradient><radialGradient id="d78"><stop offset="0" stop-color="rgb(167,167,167)"/><stop offset="0.3" stop-color="rgb(160,160,160)"/><stop offset="0.5" stop-color="rgb(147,147,147)"/><stop offset="0.65" stop-color="rgb(130,130,130)"/><stop offset="0.75" stop-color="rgb(115,115,115)"/><stop offset="0.85" stop-color="rgb(95,95,95)"/><stop offset="0.92" stop-color="rgb(74,74,74)"/><stop offset="0.97" stop-color="rgb(51,51,51)"/><stop offset="1.0" stop-color="rgb(14,14,14)"/></radialGradient><radialGradient id="v78" r="0.55"><stop offset="0" stop-color="rgb(167,167,167)"/><stop offset="0.4" stop-color="rgb(146,146,146)"/><stop offset="0.6" stop-color="rgb(127,127,127)"/><stop offset="0.75" stop-color="rgb(109,109,109)"/><stop offset="0.87" stop-color="rgb(94,94,94)"/><stop offset="1.0" stop-color="rgb(75,75,75)"/></radialGradient><radialGradient id="d79"><stop offset="0" stop-color="rgb(169,169,169)"/><stop offset="0.3" stop-color="rgb(162,162,162)"/><stop offset="0.5" stop-color="rgb(149,149,149)"/><stop offset="0.65" stop-color="rgb(133,133,133)"/><stop offset="0.75" stop-color="rgb(117,117,117)"/><stop offset="0.85" stop-color="rgb(97,97,97)"/><stop offset="0.92" stop-color="rgb(76,76,76)"/><stop offset="0.97" stop-color="rgb(53,53,53)"/><stop offset="1.0" stop-color="rgb(16,16,16)"/></radialGradient><radialGradient id="v79" r="0.55"><stop offset="0" stop-color="rgb(169,169,169)"/><stop offset="0.4" stop-color="rgb(148,148,148)"/><stop offset="0.6" stop-color="rgb(129,129,129)"/><stop offset="0.75" stop-color="rgb(111,111,111)"/><stop offset="0.87" stop-color="rgb(96,96,96)"/><stop offset="1.0" stop-color="rgb(77,77,77)"/></radialGradient><radialGradient id="d80"><stop offset="0" stop-color="rgb(171,171,171)"/><stop offset="0.3" stop-color="rgb(164,164,164)"/><stop offset="0.5" stop-color="rgb(151,151,151)"/><stop offset="0.65" stop-color="rgb(135,135,135)"/><stop offset="0.75" stop-color="rgb(120,120,120)"/><stop offset="0.85" stop-color="rgb(99,99,99)"/><stop offset="0.92" stop-color="rgb(78,78,78)"/><stop offset="0.97" stop-color="rgb(56,56,56)"/><stop offset="1.0" stop-color="rgb(18,18,18)"/></radialGradient><radialGradient id="v80" r="0.55"><stop offset="0" stop-color="rgb(171,171,171)"/><stop offset="0.4" stop-color="rgb(150,150,150)"/><stop offset="0.6" stop-color="rgb(131,131,131)"/><stop offset="0.75" stop-color="rgb(113,113,113)"/><stop offset="0.87" stop-color="rgb(98,98,98)"/><stop offset="1.0" stop-color="rgb(80,80,80)"/></radialGradient><radialGradient id="d81"><stop offset="0" stop-color="rgb(174,174,174)"/><stop offset="0.3" stop-color="rgb(167,167,167)"/><stop offset="0.5" stop-color="rgb(153,153,153)"/><stop offset="0.65" stop-color="rgb(137,137,137)"/><stop offset="0.75" stop-color="rgb(122,122,122)"/><stop offset="0.85" stop-color="rgb(101,101,101)"/><stop offset="0.92" stop-color="rgb(81,81,81)"/><stop offset="0.97" stop-color="rgb(58,58,58)"/><stop offset="1.0" stop-color="rgb(21,21,21)"/></radialGradient><radialGradient id="v81" r="0.55"><stop offset="0" stop-color="rgb(174,174,174)"/><stop offset="0.4" stop-color="rgb(152,152,152)"/><stop offset="0.6" stop-color="rgb(133,133,133)"/><stop offset="0.75" stop-color="rgb(116,116,116)"/><stop offset="0.87" stop-color="rgb(100,100,100)"/><stop offset="1.0" stop-color="rgb(82,82,82)"/></radialGradient><radialGradient id="d82"><stop offset="0" stop-color="rgb(176,176,176)"/><stop offset="0.3" stop-color="rgb(169,169,169)"/><stop offset="0.5" stop-color="rgb(155,155,155)"/><stop offset="0.65" stop-color="rgb(139,139,139)"/><stop offset="0.75" stop-color="rgb(124,124,124)"/><stop offset="0.85" stop-color="rgb(103,103,103)"/><stop offset="0.92" stop-color="rgb(83,83,83)"/><stop offset="0.97" stop-color="rgb(60,60,60)"/><stop offset="1.0" stop-color="rgb(23,23,23)"/></radialGradient><radialGradient id="v82" r="0.55"><stop offset="0" stop-color="rgb(176,176,176)"/><stop offset="0.4" stop-color="rgb(155,155,155)"/><stop offset="0.6" stop-color="rgb(135,135,135)"/><stop offset="0.75" stop-color="rgb(118,118,118)"/><stop offset="0.87" stop-color="rgb(102,102,102)"/><stop offset="1.0" stop-color="rgb(84,84,84)"/></radialGradient><radialGradient id="d83"><stop offset="0" stop-color="rgb(178,178,178)"/><stop offset="0.3" stop-color="rgb(171,171,171)"/><stop offset="0.5" stop-color="rgb(157,157,157)"/><stop offset="0.65" stop-color="rgb(141,141,141)"/><stop offset="0.75" stop-color="rgb(126,126,126)"/><stop offset="0.85" stop-color="rgb(105,105,105)"/><stop offset="0.92" stop-color="rgb(85,85,85)"/><stop offset="0.97" stop-color="rgb(62,62,62)"/><stop offset="1.0" stop-color="rgb(25,25,25)"/></radialGradient><radialGradient id="v83" r="0.55"><stop offset="0" stop-color="rgb(178,178,178)"/><stop offset="0.4" stop-color="rgb(157,157,157)"/><stop offset="0.6" stop-color="rgb(137,137,137)"/><stop offset="0.75" stop-color="rgb(120,120,120)"/><stop offset="0.87" stop-color="rgb(104,104,104)"/><stop offset="1.0" stop-color="rgb(86,86,86)"/></radialGradient><radialGradient id="d84"><stop offset="0" stop-color="rgb(180,180,180)"/><stop offset="0.3" stop-color="rgb(173,173,173)"/><stop offset="0.5" stop-color="rgb(160,160,160)"/><stop offset="0.65" stop-color="rgb(143,143,143)"/><stop offset="0.75" stop-color="rgb(128,128,128)"/><stop offset="0.85" stop-color="rgb(108,108,108)"/><stop offset="0.92" stop-color="rgb(87,87,87)"/><stop offset="0.97" stop-color="rgb(64,64,64)"/><stop offset="1.0" stop-color="rgb(27,27,27)"/></radialGradient><radialGradient id="v84" r="0.55"><stop offset="0" stop-color="rgb(180,180,180)"/><stop offset="0.4" stop-color="rgb(159,159,159)"/><stop offset="0.6" stop-color="rgb(139,139,139)"/><stop offset="0.75" stop-color="rgb(122,122,122)"/><stop offset="0.87" stop-color="rgb(107,107,107)"/><stop offset="1.0" stop-color="rgb(88,88,88)"/></radialGradient><radialGradient id="d85"><stop offset="0" stop-color="rgb(182,182,182)"/><stop offset="0.3" stop-color="rgb(175,175,175)"/><stop offset="0.5" stop-color="rgb(162,162,162)"/><stop offset="0.65" stop-color="rgb(145,145,145)"/><stop offset="0.75" stop-color="rgb(130,130,130)"/><stop offset="0.85" stop-color="rgb(110,110,110)"/><stop offset="0.92" stop-color="rgb(89,89,89)"/><stop offset="0.97" stop-color="rgb(66,66,66)"/><stop offset="1.0" stop-color="rgb(29,29,29)"/></radialGradient><radialGradient id="v85" r="0.55"><stop offset="0" stop-color="rgb(182,182,182)"/><stop offset="0.4" stop-color="rgb(161,161,161)"/><stop offset="0.6" stop-color="rgb(142,142,142)"/><stop offset="0.75" stop-color="rgb(124,124,124)"/><stop offset="0.87" stop-color="rgb(109,109,109)"/><stop offset="1.0" stop-color="rgb(90,90,90)"/></radialGradient><radialGradient id="d86"><stop offset="0" stop-color="rgb(184,184,184)"/><stop offset="0.3" stop-color="rgb(177,177,177)"/><stop offset="0.5" stop-color="rgb(164,164,164)"/><stop offset="0.65" stop-color="rgb(148,148,148)"/><stop offset="0.75" stop-color="rgb(132,132,132)"/><stop offset="0.85" stop-color="rgb(112,112,112)"/><stop offset="0.92" stop-color="rgb(91,91,91)"/><stop offset="0.97" stop-color="rgb(68,68,68)"/><stop offset="1.0" stop-color="rgb(31,31,31)"/></radialGradient><radialGradient id="v86" r="0.55"><stop offset="0" stop-color="rgb(184,184,184)"/><stop offset="0.4" stop-color="rgb(163,163,163)"/><stop offset="0.6" stop-color="rgb(144,144,144)"/><stop offset="0.75" stop-color="rgb(126,126,126)"/><stop offset="0.87" stop-color="rgb(111,111,111)"/><stop offset="1.0" stop-color="rgb(92,92,92)"/></radialGradient><radialGradient id="d87"><stop offset="0" stop-color="rgb(186,186,186)"/><stop offset="0.3" stop-color="rgb(179,179,179)"/><stop offset="0.5" stop-color="rgb(166,166,166)"/><stop offset="0.65" stop-color="rgb(150,150,150)"/><stop offset="0.75" stop-color="rgb(135,135,135)"/><stop offset="0.85" stop-color="rgb(114,114,114)"/><stop offset="0.92" stop-color="rgb(93,93,93)"/><stop offset="0.97" stop-color="rgb(71,71,71)"/><stop offset="1.0" stop-color="rgb(33,33,33)"/></radialGradient><radialGradient id="v87" r="0.55"><stop offset="0" stop-color="rgb(186,186,186)"/><stop offset="0.4" stop-color="rgb(165,165,165)"/><stop offset="0.6" stop-color="rgb(146,146,146)"/><stop offset="0.75" stop-color="rgb(128,128,128)"/><stop offset="0.87" stop-color="rgb(113,113,113)"/><stop offset="1.0" stop-color="rgb(95,95,95)"/></radialGradient><radialGradient id="d88"><stop offset="0" stop-color="rgb(189,189,189)"/><stop offset="0.3" stop-color="rgb(182,182,182)"/><stop offset="0.5" stop-color="rgb(168,168,168)"/><stop offset="0.65" stop-color="rgb(152,152,152)"/><stop offset="0.75" stop-color="rgb(137,137,137)"/><stop offset="0.85" stop-color="rgb(116,116,116)"/><stop offset="0.92" stop-color="rgb(96,96,96)"/><stop offset="0.97" stop-color="rgb(73,73,73)"/><stop offset="1.0" stop-color="rgb(36,36,36)"/></radialGradient><radialGradient id="v88" r="0.55"><stop offset="0" stop-color="rgb(189,189,189)"/><stop offset="0.4" stop-color="rgb(167,167,167)"/><stop offset="0.6" stop-color="rgb(148,148,148)"/><stop offset="0.75" stop-color="rgb(131,131,131)"/><stop offset="0.87" stop-color="rgb(115,115,115)"/><stop offset="1.0" stop-color="rgb(97,97,97)"/></radialGradient><radialGradient id="d89"><stop offset="0" stop-color="rgb(191,191,191)"/><stop offset="0.3" stop-color="rgb(184,184,184)"/><stop offset="0.5" stop-color="rgb(170,170,170)"/><stop offset="0.65" stop-color="rgb(154,154,154)"/><stop offset="0.75" stop-color="rgb(139,139,139)"/><stop offset="0.85" stop-color="rgb(118,118,118)"/><stop offset="0.92" stop-color="rgb(98,98,98)"/><stop offset="0.97" stop-color="rgb(75,75,75)"/><stop offset="1.0" stop-color="rgb(38,38,38)"/></radialGradient><radialGradient id="v89" r="0.55"><stop offset="0" stop-color="rgb(191,191,191)"/><stop offset="0.4" stop-color="rgb(170,170,170)"/><stop offset="0.6" stop-color="rgb(150,150,150)"/><stop offset="0.75" stop-color="rgb(133,133,133)"/><stop offset="0.87" stop-color="rgb(117,117,117)"/><stop offset="1.0" stop-color="rgb(99,99,99)"/></radialGradient><radialGradient id="d90"><stop offset="0" stop-color="rgb(193,193,193)"/><stop offset="0.3" stop-color="rgb(186,186,186)"/><stop offset="0.5" stop-color="rgb(172,172,172)"/><stop offset="0.65" stop-color="rgb(156,156,156)"/><stop offset="0.75" stop-color="rgb(141,141,141)"/><stop offset="0.85" stop-color="rgb(120,120,120)"/><stop offset="0.92" stop-color="rgb(100,100,100)"/><stop offset="0.97" stop-color="rgb(77,77,77)"/><stop offset="1.0" stop-color="rgb(40,40,40)"/></radialGradient><radialGradient id="v90" r="0.55"><stop offset="0" stop-color="rgb(193,193,193)"/><stop offset="0.4" stop-color="rgb(172,172,172)"/><stop offset="0.6" stop-color="rgb(152,152,152)"/><stop offset="0.75" stop-color="rgb(135,135,135)"/><stop offset="0.87" stop-color="rgb(119,119,119)"/><stop offset="1.0" stop-color="rgb(101,101,101)"/></radialGradient><radialGradient id="d91"><stop offset="0" stop-color="rgb(195,195,195)"/><stop offset="0.3" stop-color="rgb(188,188,188)"/><stop offset="0.5" stop-color="rgb(175,175,175)"/><stop offset="0.65" stop-color="rgb(158,158,158)"/><stop offset="0.75" stop-color="rgb(143,143,143)"/><stop offset="0.85" stop-color="rgb(123,123,123)"/><stop offset="0.92" stop-color="rgb(102,102,102)"/><stop offset="0.97" stop-color="rgb(79,79,79)"/><stop offset="1.0" stop-color="rgb(42,42,42)"/></radialGradient><radialGradient id="v91" r="0.55"><stop offset="0" stop-color="rgb(195,195,195)"/><stop offset="0.4" stop-color="rgb(174,174,174)"/><stop offset="0.6" stop-color="rgb(154,154,154)"/><stop offset="0.75" stop-color="rgb(137,137,137)"/><stop offset="0.87" stop-color="rgb(122,122,122)"/><stop offset="1.0" stop-color="rgb(103,103,103)"/></radialGradient><radialGradient id="d92"><stop offset="0" stop-color="rgb(197,197,197)"/><stop offset="0.3" stop-color="rgb(190,190,190)"/><stop offset="0.5" stop-color="rgb(177,177,177)"/><stop offset="0.65" stop-color="rgb(160,160,160)"/><stop offset="0.75" stop-color="rgb(145,145,145)"/><stop offset="0.85" stop-color="rgb(125,125,125)"/><stop offset="0.92" stop-color="rgb(104,104,104)"/><stop offset="0.97" stop-color="rgb(81,81,81)"/><stop offset="1.0" stop-color="rgb(44,44,44)"/></radialGradient><radialGradient id="v92" r="0.55"><stop offset="0" stop-color="rgb(197,197,197)"/><stop offset="0.4" stop-color="rgb(176,176,176)"/><stop offset="0.6" stop-color="rgb(157,157,157)"/><stop offset="0.75" stop-color="rgb(139,139,139)"/><stop offset="0.87" stop-color="rgb(124,124,124)"/><stop offset="1.0" stop-color="rgb(105,105,105)"/></radialGradient><radialGradient id="d93"><stop offset="0" stop-color="rgb(199,199,199)"/><stop offset="0.3" stop-color="rgb(192,192,192)"/><stop offset="0.5" stop-color="rgb(179,179,179)"/><stop offset="0.65" stop-color="rgb(163,163,163)"/><stop offset="0.75" stop-color="rgb(147,147,147)"/><stop offset="0.85" stop-color="rgb(127,127,127)"/><stop offset="0.92" stop-color="rgb(106,106,106)"/><stop offset="0.97" stop-color="rgb(83,83,83)"/><stop offset="1.0" stop-color="rgb(46,46,46)"/></radialGradient><radialGradient id="v93" r="0.55"><stop offset="0" stop-color="rgb(199,199,199)"/><stop offset="0.4" stop-color="rgb(178,178,178)"/><stop offset="0.6" stop-color="rgb(159,159,159)"/><stop offset="0.75" stop-color="rgb(141,141,141)"/><stop offset="0.87" stop-color="rgb(126,126,126)"/><stop offset="1.0" stop-color="rgb(107,107,107)"/></radialGradient><radialGradient id="d94"><stop offset="0" stop-color="rgb(201,201,201)"/><stop offset="0.3" stop-color="rgb(194,194,194)"/><stop offset="0.5" stop-color="rgb(181,181,181)"/><stop offset="0.65" stop-color="rgb(165,165,165)"/><stop offset="0.75" stop-color="rgb(150,150,150)"/><stop offset="0.85" stop-color="rgb(129,129,129)"/><stop offset="0.92" stop-color="rgb(108,108,108)"/><stop offset="0.97" stop-color="rgb(86,86,86)"/><stop offset="1.0" stop-color="rgb(48,48,48)"/></radialGradient><radialGradient id="v94" r="0.55"><stop offset="0" stop-color="rgb(201,201,201)"/><stop offset="0.4" stop-color="rgb(180,180,180)"/><stop offset="0.6" stop-color="rgb(161,161,161)"/><stop offset="0.75" stop-color="rgb(143,143,143)"/><stop offset="0.87" stop-color="rgb(128,128,128)"/><stop offset="1.0" stop-color="rgb(110,110,110)"/></radialGradient><radialGradient id="d95"><stop offset="0" stop-color="rgb(204,204,204)"/><stop offset="0.3" stop-color="rgb(197,197,197)"/><stop offset="0.5" stop-color="rgb(183,183,183)"/><stop offset="0.65" stop-color="rgb(167,167,167)"/><stop offset="0.75" stop-color="rgb(152,152,152)"/><stop offset="0.85" stop-color="rgb(131,131,131)"/><stop offset="0.92" stop-color="rgb(111,111,111)"/><stop offset="0.97" stop-color="rgb(88,88,88)"/><stop offset="1.0" stop-color="rgb(51,51,51)"/></radialGradient><radialGradient id="v95" r="0.55"><stop offset="0" stop-color="rgb(204,204,204)"/><stop offset="0.4" stop-color="rgb(182,182,182)"/><stop offset="0.6" stop-color="rgb(163,163,163)"/><stop offset="0.75" stop-color="rgb(146,146,146)"/><stop offset="0.87" stop-color="rgb(130,130,130)"/><stop offset="1.0" stop-color="rgb(112,112,112)"/></radialGradient><radialGradient id="d96"><stop offset="0" stop-color="rgb(206,206,206)"/><stop offset="0.3" stop-color="rgb(199,199,199)"/><stop offset="0.5" stop-color="rgb(185,185,185)"/><stop offset="0.65" stop-color="rgb(169,169,169)"/><stop offset="0.75" stop-color="rgb(154,154,154)"/><stop offset="0.85" stop-color="rgb(133,133,133)"/><stop offset="0.92" stop-color="rgb(113,113,113)"/><stop offset="0.97" stop-color="rgb(90,90,90)"/><stop offset="1.0" stop-color="rgb(53,53,53)"/></radialGradient><radialGradient id="v96" r="0.55"><stop offset="0" stop-color="rgb(206,206,206)"/><stop offset="0.4" stop-color="rgb(185,185,185)"/><stop offset="0.6" stop-color="rgb(165,165,165)"/><stop offset="0.75" stop-color="rgb(148,148,148)"/><stop offset="0.87" stop-color="rgb(132,132,132)"/><stop offset="1.0" stop-color="rgb(114,114,114)"/></radialGradient><radialGradient id="d97"><stop offset="0" stop-color="rgb(208,208,208)"/><stop offset="0.3" stop-color="rgb(201,201,201)"/><stop offset="0.5" stop-color="rgb(187,187,187)"/><stop offset="0.65" stop-color="rgb(171,171,171)"/><stop offset="0.75" stop-color="rgb(156,156,156)"/><stop offset="0.85" stop-color="rgb(135,135,135)"/><stop offset="0.92" stop-color="rgb(115,115,115)"/><stop offset="0.97" stop-color="rgb(92,92,92)"/><stop offset="1.0" stop-color="rgb(55,55,55)"/></radialGradient><radialGradient id="v97" r="0.55"><stop offset="0" stop-color="rgb(208,208,208)"/><stop offset="0.4" stop-color="rgb(187,187,187)"/><stop offset="0.6" stop-color="rgb(167,167,167)"/><stop offset="0.75" stop-color="rgb(150,150,150)"/><stop offset="0.87" stop-color="rgb(134,134,134)"/><stop offset="1.0" stop-color="rgb(116,116,116)"/></radialGradient><radialGradient id="d98"><stop offset="0" stop-color="rgb(210,210,210)"/><stop offset="0.3" stop-color="rgb(203,203,203)"/><stop offset="0.5" stop-color="rgb(190,190,190)"/><stop offset="0.65" stop-color="rgb(173,173,173)"/><stop offset="0.75" stop-color="rgb(158,158,158)"/><stop offset="0.85" stop-color="rgb(138,138,138)"/><stop offset="0.92" stop-color="rgb(117,117,117)"/><stop offset="0.97" stop-color="rgb(94,94,94)"/><stop offset="1.0" stop-color="rgb(57,57,57)"/></radialGradient><radialGradient id="v98" r="0.55"><stop offset="0" stop-color="rgb(210,210,210)"/><stop offset="0.4" stop-color="rgb(189,189,189)"/><stop offset="0.6" stop-color="rgb(169,169,169)"/><stop offset="0.75" stop-color="rgb(152,152,152)"/><stop offset="0.87" stop-color="rgb(137,137,137)"/><stop offset="1.0" stop-color="rgb(118,118,118)"/></radialGradient><radialGradient id="d99"><stop offset="0" stop-color="rgb(212,212,212)"/><stop offset="0.3" stop-color="rgb(205,205,205)"/><stop offset="0.5" stop-color="rgb(192,192,192)"/><stop offset="0.65" stop-color="rgb(175,175,175)"/><stop offset="0.75" stop-color="rgb(160,160,160)"/><stop offset="0.85" stop-color="rgb(140,140,140)"/><stop offset="0.92" stop-color="rgb(119,119,119)"/><stop offset="0.97" stop-color="rgb(96,96,96)"/><stop offset="1.0" stop-color="rgb(59,59,59)"/></radialGradient><radialGradient id="v99" r="0.55"><stop offset="0" stop-color="rgb(212,212,212)"/><stop offset="0.4" stop-color="rgb(191,191,191)"/><stop offset="0.6" stop-color="rgb(172,172,172)"/><stop offset="0.75" stop-color="rgb(154,154,154)"/><stop offset="0.87" stop-color="rgb(139,139,139)"/><stop offset="1.0" stop-color="rgb(120,120,120)"/></radialGradient><radialGradient id="d100"><stop offset="0" stop-color="rgb(214,214,214)"/><stop offset="0.3" stop-color="rgb(207,207,207)"/><stop offset="0.5" stop-color="rgb(194,194,194)"/><stop offset="0.65" stop-color="rgb(178,178,178)"/><stop offset="0.75" stop-color="rgb(162,162,162)"/><stop offset="0.85" stop-color="rgb(142,142,142)"/><stop offset="0.92" stop-color="rgb(121,121,121)"/><stop offset="0.97" stop-color="rgb(98,98,98)"/><stop offset="1.0" stop-color="rgb(61,61,61)"/></radialGradient><radialGradient id="v100" r="0.55"><stop offset="0" stop-color="rgb(214,214,214)"/><stop offset="0.4" stop-color="rgb(193,193,193)"/><stop offset="0.6" stop-color="rgb(174,174,174)"/><stop offset="0.75" stop-color="rgb(156,156,156)"/><stop offset="0.87" stop-color="rgb(141,141,141)"/><stop offset="1.0" stop-color="rgb(122,122,122)"/></radialGradient><radialGradient id="d101"><stop offset="0" stop-color="rgb(216,216,216)"/><stop offset="0.3" stop-color="rgb(209,209,209)"/><stop offset="0.5" stop-color="rgb(196,196,196)"/><stop offset="0.65" stop-color="rgb(180,180,180)"/><stop offset="0.75" stop-color="rgb(165,165,165)"/><stop offset="0.85" stop-color="rgb(144,144,144)"/><stop offset="0.92" stop-color="rgb(123,123,123)"/><stop offset="0.97" stop-color="rgb(101,101,101)"/><stop offset="1.0" stop-color="rgb(63,63,63)"/></radialGradient><radialGradient id="v101" r="0.55"><stop offset="0" stop-color="rgb(216,216,216)"/><stop offset="0.4" stop-color="rgb(195,195,195)"/><stop offset="0.6" stop-color="rgb(176,176,176)"/><stop offset="0.75" stop-color="rgb(158,158,158)"/><stop offset="0.87" stop-color="rgb(143,143,143)"/><stop offset="1.0" stop-color="rgb(125,125,125)"/></radialGradient><radialGradient id="d102"><stop offset="0" stop-color="rgb(219,219,219)"/><stop offset="0.3" stop-color="rgb(212,212,212)"/><stop offset="0.5" stop-color="rgb(198,198,198)"/><stop offset="0.65" stop-color="rgb(182,182,182)"/><stop offset="0.75" stop-color="rgb(167,167,167)"/><stop offset="0.85" stop-color="rgb(146,146,146)"/><stop offset="0.92" stop-color="rgb(126,126,126)"/><stop offset="0.97" stop-color="rgb(103,103,103)"/><stop offset="1.0" stop-color="rgb(66,66,66)"/></radialGradient><radialGradient id="v102" r="0.55"><stop offset="0" stop-color="rgb(219,219,219)"/><stop offset="0.4" stop-color="rgb(197,197,197)"/><stop offset="0.6" stop-color="rgb(178,178,178)"/><stop offset="0.75" stop-color="rgb(161,161,161)"/><stop offset="0.87" stop-color="rgb(145,145,145)"/><stop offset="1.0" stop-color="rgb(127,127,127)"/></radialGradient><radialGradient id="d103"><stop offset="0" stop-color="rgb(221,221,221)"/><stop offset="0.3" stop-color="rgb(214,214,214)"/><stop offset="0.5" stop-color="rgb(200,200,200)"/><stop offset="0.65" stop-color="rgb(184,184,184)"/><stop offset="0.75" stop-color="rgb(169,169,169)"/><stop offset="0.85" stop-color="rgb(148,148,148)"/><stop offset="0.92" stop-color="rgb(128,128,128)"/><stop offset="0.97" stop-color="rgb(105,105,105)"/><stop offset="1.0" stop-color="rgb(68,68,68)"/></radialGradient><radialGradient id="v103" r="0.55"><stop offset="0" stop-color="rgb(221,221,221)"/><stop offset="0.4" stop-color="rgb(200,200,200)"/><stop offset="0.6" stop-color="rgb(180,180,180)"/><stop offset="0.75" stop-color="rgb(163,163,163)"/><stop offset="0.87" stop-color="rgb(147,147,147)"/><stop offset="1.0" stop-color="rgb(129,129,129)"/></radialGradient><radialGradient id="d104"><stop offset="0" stop-color="rgb(223,223,223)"/><stop offset="0.3" stop-color="rgb(216,216,216)"/><stop offset="0.5" stop-color="rgb(202,202,202)"/><stop offset="0.65" stop-color="rgb(186,186,186)"/><stop offset="0.75" stop-color="rgb(171,171,171)"/><stop offset="0.85" stop-color="rgb(150,150,150)"/><stop offset="0.92" stop-color="rgb(130,130,130)"/><stop offset="0.97" stop-color="rgb(107,107,107)"/><stop offset="1.0" stop-color="rgb(70,70,70)"/></radialGradient><radialGradient id="v104" r="0.55"><stop offset="0" stop-color="rgb(223,223,223)"/><stop offset="0.4" stop-color="rgb(202,202,202)"/><stop offset="0.6" stop-color="rgb(182,182,182)"/><stop offset="0.75" stop-color="rgb(165,165,165)"/><stop offset="0.87" stop-color="rgb(149,149,149)"/><stop offset="1.0" stop-color="rgb(131,131,131)"/></radialGradient><radialGradient id="d105"><stop offset="0" stop-color="rgb(225,225,225)"/><stop offset="0.3" stop-color="rgb(218,218,218)"/><stop offset="0.5" stop-color="rgb(205,205,205)"/><stop offset="0.65" stop-color="rgb(188,188,188)"/><stop offset="0.75" stop-color="rgb(173,173,173)"/><stop offset="0.85" stop-color="rgb(153,153,153)"/><stop offset="0.92" stop-color="rgb(132,132,132)"/><stop offset="0.97" stop-color="rgb(109,109,109)"/><stop offset="1.0" stop-color="rgb(72,72,72)"/></radialGradient><radialGradient id="v105" r="0.55"><stop offset="0" stop-color="rgb(225,225,225)"/><stop offset="0.4" stop-color="rgb(204,204,204)"/><stop offset="0.6" stop-color="rgb(184,184,184)"/><stop offset="0.75" stop-color="rgb(167,167,167)"/><stop offset="0.87" stop-color="rgb(152,152,152)"/><stop offset="1.0" stop-color="rgb(133,133,133)"/></radialGradient><radialGradient id="d106"><stop offset="0" stop-color="rgb(227,227,227)"/><stop offset="0.3" stop-color="rgb(220,220,220)"/><stop offset="0.5" stop-color="rgb(207,207,207)"/><stop offset="0.65" stop-color="rgb(190,190,190)"/><stop offset="0.75" stop-color="rgb(175,175,175)"/><stop offset="0.85" stop-color="rgb(155,155,155)"/><stop offset="0.92" stop-color="rgb(134,134,134)"/><stop offset="0.97" stop-color="rgb(111,111,111)"/><stop offset="1.0" stop-color="rgb(74,74,74)"/></radialGradient><radialGradient id="v106" r="0.55"><stop offset="0" stop-color="rgb(227,227,227)"/><stop offset="0.4" stop-color="rgb(206,206,206)"/><stop offset="0.6" stop-color="rgb(187,187,187)"/><stop offset="0.75" stop-color="rgb(169,169,169)"/><stop offset="0.87" stop-color="rgb(154,154,154)"/><stop offset="1.0" stop-color="rgb(135,135,135)"/></radialGradient><radialGradient id="d107"><stop offset="0" stop-color="rgb(229,229,229)"/><stop offset="0.3" stop-color="rgb(222,222,222)"/><stop offset="0.5" stop-color="rgb(209,209,209)"/><stop offset="0.65" stop-color="rgb(193,193,193)"/><stop offset="0.75" stop-color="rgb(177,177,177)"/><stop offset="0.85" stop-color="rgb(157,157,157)"/><stop offset="0.92" stop-color="rgb(136,136,136)"/><stop offset="0.97" stop-color="rgb(113,113,113)"/><stop offset="1.0" stop-color="rgb(76,76,76)"/></radialGradient><radialGradient id="v107" r="0.55"><stop offset="0" stop-color="rgb(229,229,229)"/><stop offset="0.4" stop-color="rgb(208,208,208)"/><stop offset="0.6" stop-color="rgb(189,189,189)"/><stop offset="0.75" stop-color="rgb(171,171,171)"/><stop offset="0.87" stop-color="rgb(156,156,156)"/><stop offset="1.0" stop-color="rgb(137,137,137)"/></radialGradient><radialGradient id="d108"><stop offset="0" stop-color="rgb(231,231,231)"/><stop offset="0.3" stop-color="rgb(224,224,224)"/><stop offset="0.5" stop-color="rgb(211,211,211)"/><stop offset="0.65" stop-color="rgb(195,195,195)"/><stop offset="0.75" stop-color="rgb(180,180,180)"/><stop offset="0.85" stop-color="rgb(159,159,159)"/><stop offset="0.92" stop-color="rgb(138,138,138)"/><stop offset="0.97" stop-color="rgb(116,116,116)"/><stop offset="1.0" stop-color="rgb(78,78,78)"/></radialGradient><radialGradient id="v108" r="0.55"><stop offset="0" stop-color="rgb(231,231,231)"/><stop offset="0.4" stop-color="rgb(210,210,210)"/><stop offset="0.6" stop-color="rgb(191,191,191)"/><stop offset="0.75" stop-color="rgb(173,173,173)"/><stop offset="0.87" stop-color="rgb(158,158,158)"/><stop offset="1.0" stop-color="rgb(140,140,140)"/></radialGradient><radialGradient id="d109"><stop offset="0" stop-color="rgb(234,234,234)"/><stop offset="0.3" stop-color="rgb(227,227,227)"/><stop offset="0.5" stop-color="rgb(213,213,213)"/><stop offset="0.65" stop-color="rgb(197,197,197)"/><stop offset="0.75" stop-color="rgb(182,182,182)"/><stop offset="0.85" stop-color="rgb(161,161,161)"/><stop offset="0.92" stop-color="rgb(141,141,141)"/><stop offset="0.97" stop-color="rgb(118,118,118)"/><stop offset="1.0" stop-color="rgb(81,81,81)"/></radialGradient><radialGradient id="v109" r="0.55"><stop offset="0" stop-color="rgb(234,234,234)"/><stop offset="0.4" stop-color="rgb(212,212,212)"/><stop offset="0.6" stop-color="rgb(193,193,193)"/><stop offset="0.75" stop-color="rgb(176,176,176)"/><stop offset="0.87" stop-color="rgb(160,160,160)"/><stop offset="1.0" stop-color="rgb(142,142,142)"/></radialGradient><radialGradient id="d110"><stop offset="0" stop-color="rgb(236,236,236)"/><stop offset="0.3" stop-color="rgb(229,229,229)"/><stop offset="0.5" stop-color="rgb(215,215,215)"/><stop offset="0.65" stop-color="rgb(199,199,199)"/><stop offset="0.75" stop-color="rgb(184,184,184)"/><stop offset="0.85" stop-color="rgb(163,163,163)"/><stop offset="0.92" stop-color="rgb(143,143,143)"/><stop offset="0.97" stop-color="rgb(120,120,120)"/><stop offset="1.0" stop-color="rgb(83,83,83)"/></radialGradient><radialGradient id="v110" r="0.55"><stop offset="0" stop-color="rgb(236,236,236)"/><stop offset="0.4" stop-color="rgb(215,215,215)"/><stop offset="0.6" stop-color="rgb(195,195,195)"/><stop offset="0.75" stop-color="rgb(178,178,178)"/><stop offset="0.87" stop-color="rgb(162,162,162)"/><stop offset="1.0" stop-color="rgb(144,144,144)"/></radialGradient><radialGradient id="d111"><stop offset="0" stop-color="rgb(238,238,238)"/><stop offset="0.3" stop-color="rgb(231,231,231)"/><stop offset="0.5" stop-color="rgb(217,217,217)"/><stop offset="0.65" stop-color="rgb(201,201,201)"/><stop offset="0.75" stop-color="rgb(186,186,186)"/><stop offset="0.85" stop-color="rgb(165,165,165)"/><stop offset="0.92" stop-color="rgb(145,145,145)"/><stop offset="0.97" stop-color="rgb(122,122,122)"/><stop offset="1.0" stop-color="rgb(85,85,85)"/></radialGradient><radialGradient id="v111" r="0.55"><stop offset="0" stop-color="rgb(238,238,238)"/><stop offset="0.4" stop-color="rgb(217,217,217)"/><stop offset="0.6" stop-color="rgb(197,197,197)"/><stop offset="0.75" stop-color="rgb(180,180,180)"/><stop offset="0.87" stop-color="rgb(164,164,164)"/><stop offset="1.0" stop-color="rgb(146,146,146)"/></radialGradient><radialGradient id="d112"><stop offset="0" stop-color="rgb(240,240,240)"/><stop offset="0.3" stop-color="rgb(233,233,233)"/><stop offset="0.5" stop-color="rgb(220,220,220)"/><stop offset="0.65" stop-color="rgb(203,203,203)"/><stop offset="0.75" stop-color="rgb(188,188,188)"/><stop offset="0.85" stop-color="rgb(168,168,168)"/><stop offset="0.92" stop-color="rgb(147,147,147)"/><stop offset="0.97" stop-color="rgb(124,124,124)"/><stop offset="1.0" stop-color="rgb(87,87,87)"/></radialGradient><radialGradient id="v112" r="0.55"><stop offset="0" stop-color="rgb(240,240,240)"/><stop offset="0.4" stop-color="rgb(219,219,219)"/><stop offset="0.6" stop-color="rgb(199,199,199)"/><stop offset="0.75" stop-color="rgb(182,182,182)"/><stop offset="0.87" stop-color="rgb(167,167,167)"/><stop offset="1.0" stop-color="rgb(148,148,148)"/></radialGradient><radialGradient id="d113"><stop offset="0" stop-color="rgb(242,242,242)"/><stop offset="0.3" stop-color="rgb(235,235,235)"/><stop offset="0.5" stop-color="rgb(222,222,222)"/><stop offset="0.65" stop-color="rgb(205,205,205)"/><stop offset="0.75" stop-color="rgb(190,190,190)"/><stop offset="0.85" stop-color="rgb(170,170,170)"/><stop offset="0.92" stop-color="rgb(149,149,149)"/><stop offset="0.97" stop-color="rgb(126,126,126)"/><stop offset="1.0" stop-color="rgb(89,89,89)"/></radialGradient><radialGradient id="v113" r="0.55"><stop offset="0" stop-color="rgb(242,242,242)"/><stop offset="0.4" stop-color="rgb(221,221,221)"/><stop offset="0.6" stop-color="rgb(202,202,202)"/><stop offset="0.75" stop-color="rgb(184,184,184)"/><stop offset="0.87" stop-color="rgb(169,169,169)"/><stop offset="1.0" stop-color="rgb(150,150,150)"/></radialGradient><radialGradient id="d114"><stop offset="0" stop-color="rgb(244,244,244)"/><stop offset="0.3" stop-color="rgb(237,237,237)"/><stop offset="0.5" stop-color="rgb(224,224,224)"/><stop offset="0.65" stop-color="rgb(208,208,208)"/><stop offset="0.75" stop-color="rgb(192,192,192)"/><stop offset="0.85" stop-color="rgb(172,172,172)"/><stop offset="0.92" stop-color="rgb(151,151,151)"/><stop offset="0.97" stop-color="rgb(128,128,128)"/><stop offset="1.0" stop-color="rgb(91,91,91)"/></radialGradient><radialGradient id="v114" r="0.55"><stop offset="0" stop-color="rgb(244,244,244)"/><stop offset="0.4" stop-color="rgb(223,223,223)"/><stop offset="0.6" stop-color="rgb(204,204,204)"/><stop offset="0.75" stop-color="rgb(186,186,186)"/><stop offset="0.87" stop-color="rgb(171,171,171)"/><stop offset="1.0" stop-color="rgb(152,152,152)"/></radialGradient><radialGradient id="d115"><stop offset="0" stop-color="rgb(246,246,246)"/><stop offset="0.3" stop-color="rgb(239,239,239)"/><stop offset="0.5" stop-color="rgb(226,226,226)"/><stop offset="0.65" stop-color="rgb(210,210,210)"/><stop offset="0.75" stop-color="rgb(195,195,195)"/><stop offset="0.85" stop-color="rgb(174,174,174)"/><stop offset="0.92" stop-color="rgb(153,153,153)"/><stop offset="0.97" stop-color="rgb(131,131,131)"/><stop offset="1.0" stop-color="rgb(93,93,93)"/></radialGradient><radialGradient id="v115" r="0.55"><stop offset="0" stop-color="rgb(246,246,246)"/><stop offset="0.4" stop-color="rgb(225,225,225)"/><stop offset="0.6" stop-color="rgb(206,206,206)"/><stop offset="0.75" stop-color="rgb(188,188,188)"/><stop offset="0.87" stop-color="rgb(173,173,173)"/><stop offset="1.0" stop-color="rgb(155,155,155)"/></radialGradient><radialGradient id="d116"><stop offset="0" stop-color="rgb(249,249,249)"/><stop offset="0.3" stop-color="rgb(242,242,242)"/><stop offset="0.5" stop-color="rgb(228,228,228)"/><stop offset="0.65" stop-color="rgb(212,212,212)"/><stop offset="0.75" stop-color="rgb(197,197,197)"/><stop offset="0.85" stop-color="rgb(176,176,176)"/><stop offset="0.92" stop-color="rgb(156,156,156)"/><stop offset="0.97" stop-color="rgb(133,133,133)"/><stop offset="1.0" stop-color="rgb(96,96,96)"/></radialGradient><radialGradient id="v116" r="0.55"><stop offset="0" stop-color="rgb(249,249,249)"/><stop offset="0.4" stop-color="rgb(227,227,227)"/><stop offset="0.6" stop-color="rgb(208,208,208)"/><stop offset="0.75" stop-color="rgb(191,191,191)"/><stop offset="0.87" stop-color="rgb(175,175,175)"/><stop offset="1.0" stop-color="rgb(157,157,157)"/></radialGradient><radialGradient id="d117"><stop offset="0" stop-color="rgb(251,251,251)"/><stop offset="0.3" stop-color="rgb(244,244,244)"/><stop offset="0.5" stop-color="rgb(230,230,230)"/><stop offset="0.65" stop-color="rgb(214,214,214)"/><stop offset="0.75" stop-color="rgb(199,199,199)"/><stop offset="0.85" stop-color="rgb(178,178,178)"/><stop offset="0.92" stop-color="rgb(158,158,158)"/><stop offset="0.97" stop-color="rgb(135,135,135)"/><stop offset="1.0" stop-color="rgb(98,98,98)"/></radialGradient><radialGradient id="v117" r="0.55"><stop offset="0" stop-color="rgb(251,251,251)"/><stop offset="0.4" stop-color="rgb(230,230,230)"/><stop offset="0.6" stop-color="rgb(210,210,210)"/><stop offset="0.75" stop-color="rgb(193,193,193)"/><stop offset="0.87" stop-color="rgb(177,177,177)"/><stop offset="1.0" stop-color="rgb(159,159,159)"/></radialGradient><radialGradient id="d118"><stop offset="0" stop-color="rgb(253,253,253)"/><stop offset="0.3" stop-color="rgb(246,246,246)"/><stop offset="0.5" stop-color="rgb(232,232,232)"/><stop offset="0.65" stop-color="rgb(216,216,216)"/><stop offset="0.75" stop-color="rgb(201,201,201)"/><stop offset="0.85" stop-color="rgb(180,180,180)"/><stop offset="0.92" stop-color="rgb(160,160,160)"/><stop offset="0.97" stop-color="rgb(137,137,137)"/><stop offset="1.0" stop-color="rgb(100,100,100)"/></radialGradient><radialGradient id="v118" r="0.55"><stop offset="0" stop-color="rgb(253,253,253)"/><stop offset="0.4" stop-color="rgb(232,232,232)"/><stop offset="0.6" stop-color="rgb(212,212,212)"/><stop offset="0.75" stop-color="rgb(195,195,195)"/><stop offset="0.87" stop-color="rgb(179,179,179)"/><stop offset="1.0" stop-color="rgb(161,161,161)"/></radialGradient><radialGradient id="d119"><stop offset="0" stop-color="rgb(255,255,255)"/><stop offset="0.3" stop-color="rgb(248,248,248)"/><stop offset="0.5" stop-color="rgb(235,235,235)"/><stop offset="0.65" stop-color="rgb(218,218,218)"/><stop offset="0.75" stop-color="rgb(203,203,203)"/><stop offset="0.85" stop-color="rgb(183,183,183)"/><stop offset="0.92" stop-color="rgb(162,162,162)"/><stop offset="0.97" stop-color="rgb(139,139,139)"/><stop offset="1.0" stop-color="rgb(102,102,102)"/></radialGradient><radialGradient id="v119" r="0.55"><stop offset="0" stop-color="rgb(255,255,255)"/><stop offset="0.4" stop-color="rgb(234,234,234)"/><stop offset="0.6" stop-color="rgb(214,214,214)"/><stop offset="0.75" stop-color="rgb(197,197,197)"/><stop offset="0.87" stop-color="rgb(182,182,182)"/><stop offset="1.0" stop-color="rgb(163,163,163)"/></radialGradient></defs>
<rect x="494.8" y="122" width="117.0" height="1.3" fill="#fff"/>
<rect x="4.0" y="121.3" width="117.0" height="1.0" fill="#5a5a5a" opacity="0.8"/>
<rect x="166.6" y="121.3" width="117.0" height="1.0" fill="#5a5a5a" opacity="0.8"/>
<rect x="330.3" y="121.3" width="117.0" height="1.0" fill="#5a5a5a" opacity="0.8"/>
<rect x="509.1" y="208.5" width="29.2" height="6.7" fill="#fff"/>
<text x="504.2" y="233.4" font-size="17.3" font-weight="bold" fill="#fff" textLength="39.4" lengthAdjust="spacingAndGlyphs">1 µm</text>
<path d="M571.9,212.9 L582.5,207.6 L581.2,211.2 L600.8,211.2 L599.5,207.6 L610.2,212.9 L599.5,218.3 L600.8,214.7 L581.2,214.7 L582.5,218.3 Z" fill="#fff"/>
<rect x="61.9" y="7.8" width="3.5" height="8.8" fill="#fff"/>
<rect x="61.9" y="25.2" width="3.5" height="8.8" fill="#fff"/>
<rect x="61.9" y="42.6" width="3.5" height="8.8" fill="#fff"/>
<rect x="61.9" y="60.0" width="3.5" height="8.8" fill="#fff"/>
<rect x="61.9" y="77.4" width="3.5" height="8.8" fill="#fff"/>
<rect x="61.9" y="94.8" width="3.5" height="8.8" fill="#fff"/>
<rect x="61.9" y="112.2" width="3.5" height="5.0" fill="#fff"/>
<rect x="7.0" y="179.9" width="4.7" height="4.1" fill="#fff"/>
<rect x="21.0" y="179.9" width="12.3" height="4.1" fill="#fff"/>
<rect x="42.7" y="179.9" width="12.3" height="4.1" fill="#fff"/>
<rect x="64.3" y="179.9" width="12.6" height="4.1" fill="#fff"/>
<rect x="85.9" y="179.9" width="12.6" height="4.1" fill="#fff"/>
<rect x="107.5" y="179.9" width="12.3" height="4.1" fill="#fff"/>
<rect x="225.7" y="8.6" width="3.5" height="8.8" fill="#fff"/>
<rect x="225.7" y="26.0" width="3.5" height="8.8" fill="#fff"/>
<rect x="225.7" y="43.4" width="3.5" height="8.8" fill="#fff"/>
<rect x="225.7" y="60.8" width="3.5" height="8.8" fill="#fff"/>
<rect x="225.7" y="78.2" width="3.5" height="8.8" fill="#fff"/>
<rect x="225.7" y="95.6" width="3.5" height="8.8" fill="#fff"/>
<rect x="225.7" y="113.0" width="3.5" height="5.0" fill="#fff"/>
<rect x="168.3" y="179.9" width="4.7" height="4.1" fill="#fff"/>
<rect x="182.3" y="179.9" width="12.3" height="4.1" fill="#fff"/>
<rect x="204.0" y="179.9" width="12.3" height="4.1" fill="#fff"/>
<rect x="225.6" y="179.9" width="12.6" height="4.1" fill="#fff"/>
<rect x="247.2" y="179.9" width="12.6" height="4.1" fill="#fff"/>
<rect x="268.8" y="179.9" width="12.3" height="4.1" fill="#fff"/>
<rect x="390.7" y="8.0" width="3.5" height="8.8" fill="#fff"/>
<rect x="390.7" y="25.4" width="3.5" height="8.8" fill="#fff"/>
<rect x="390.7" y="42.8" width="3.5" height="8.8" fill="#fff"/>
<rect x="390.7" y="60.2" width="3.5" height="8.8" fill="#fff"/>
<rect x="390.7" y="77.6" width="3.5" height="8.8" fill="#fff"/>
<rect x="390.7" y="95.0" width="3.5" height="8.8" fill="#fff"/>
<rect x="390.7" y="112.4" width="3.5" height="5.0" fill="#fff"/>
<rect x="333.0" y="179.9" width="4.7" height="4.1" fill="#fff"/>
<rect x="347.0" y="179.9" width="12.3" height="4.1" fill="#fff"/>
<rect x="368.7" y="179.9" width="12.3" height="4.1" fill="#fff"/>
<rect x="390.3" y="179.9" width="12.6" height="4.1" fill="#fff"/>
<rect x="411.9" y="179.9" width="12.6" height="4.1" fill="#fff"/>
<rect x="433.5" y="179.9" width="12.3" height="4.1" fill="#fff"/>
<rect x="555.9" y="8.6" width="3.5" height="8.8" fill="#fff"/>
<rect x="555.9" y="26.0" width="3.5" height="8.8" fill="#fff"/>
<rect x="555.9" y="43.4" width="3.5" height="8.8" fill="#fff"/>
<rect x="555.9" y="60.8" width="3.5" height="8.8" fill="#fff"/>
<rect x="555.9" y="78.2" width="3.5" height="8.8" fill="#fff"/>
<rect x="555.9" y="95.6" width="3.5" height="8.8" fill="#fff"/>
<rect x="555.9" y="113.0" width="3.5" height="5.0" fill="#fff"/>
<rect x="497.3" y="179.9" width="4.7" height="4.1" fill="#fff"/>
<rect x="511.3" y="179.9" width="12.3" height="4.1" fill="#fff"/>
<rect x="533.0" y="179.9" width="12.3" height="4.1" fill="#fff"/>
<rect x="554.6" y="179.9" width="12.6" height="4.1" fill="#fff"/>
<rect x="576.2" y="179.9" width="12.6" height="4.1" fill="#fff"/>
<rect x="597.8" y="179.9" width="12.3" height="4.1" fill="#fff"/>
<rect x="33.3" y="263.0" width="112.6" height="90.1" fill="none" stroke="#444" stroke-width="0.9"/>
<path d="M33.3,353.0h2.0M145.9,353.0h-2.0M33.3,343.0h1.2M145.9,343.0h-1.2M33.3,333.0h2.0M145.9,333.0h-2.0M33.3,323.0h1.2M145.9,323.0h-1.2M33.3,313.0h2.0M145.9,313.0h-2.0M33.3,303.0h1.2M145.9,303.0h-1.2M33.3,293.0h2.0M145.9,293.0h-2.0M33.3,283.0h1.2M145.9,283.0h-1.2M33.3,273.0h2.0M145.9,273.0h-2.0M44.6,353.1v-2.0M44.6,263.0v2.0M55.8,353.1v-1.2M55.8,263.0v1.2M66.9,353.1v-2.0M66.9,263.0v2.0M78.1,353.1v-1.2M78.1,263.0v1.2M89.3,353.1v-2.0M89.3,263.0v2.0M100.4,353.1v-1.2M100.4,263.0v1.2M111.6,353.1v-2.0M111.6,263.0v2.0M122.8,353.1v-1.2M122.8,263.0v1.2M133.9,353.1v-2.0M133.9,263.0v2.0" stroke="#555" stroke-width="0.7" fill="none"/>
<text x="31.1" y="275.2" text-anchor="end" font-size="6.3" font-weight="bold" fill="#111">200</text>
<text x="31.1" y="295.2" text-anchor="end" font-size="6.3" font-weight="bold" fill="#111">100</text>
<text x="31.1" y="315.2" text-anchor="end" font-size="6.3" font-weight="bold" fill="#111">0</text>
<text x="31.1" y="335.2" text-anchor="end" font-size="6.3" font-weight="bold" fill="#111">−100</text>
<text x="31.1" y="355.2" text-anchor="end" font-size="6.3" font-weight="bold" fill="#111">−200</text>
<text x="44.6" y="359.9" text-anchor="middle" font-size="6.3" font-weight="bold" fill="#111">0</text>
<text x="66.9" y="359.9" text-anchor="middle" font-size="6.3" font-weight="bold" fill="#111">1</text>
<text x="89.3" y="359.9" text-anchor="middle" font-size="6.3" font-weight="bold" fill="#111">2</text>
<text x="111.6" y="359.9" text-anchor="middle" font-size="6.3" font-weight="bold" fill="#111">3</text>
<text x="133.9" y="359.9" text-anchor="middle" font-size="6.3" font-weight="bold" fill="#111">4</text>
<text x="65.4" y="369.2" font-size="8.4" fill="#000" textLength="47.8" lengthAdjust="spacingAndGlyphs">Position (µm)</text>
<text transform="translate(16.2,327.6) rotate(-90)" font-size="8.3" font-weight="bold" fill="#111" textLength="42.9" lengthAdjust="spacingAndGlyphs">Height (nm)</text>
<path d="M44.70,302.30C45.37,304.53 45.23,304.77 46.70,309.00C48.17,313.23 47.10,314.57 49.10,315.00C51.10,315.43 50.40,311.40 52.70,310.30C55.00,309.20 53.33,309.03 56.00,311.70C58.67,314.37 57.80,320.10 60.70,318.30C63.60,316.50 62.50,310.97 64.70,306.30C66.90,301.63 65.30,302.50 67.30,304.30C69.30,306.10 68.70,305.70 70.70,311.70C72.70,317.70 71.77,316.30 73.30,322.30C74.83,328.30 73.50,328.80 75.30,329.70C77.10,330.60 76.23,328.13 78.70,325.00C81.17,321.87 80.50,322.73 82.70,320.30C84.90,317.87 83.53,317.47 85.30,317.70C87.07,317.93 86.20,321.23 88.00,321.00C89.80,320.77 88.93,321.43 90.70,317.00C92.47,312.57 91.30,313.03 93.30,307.70C95.30,302.37 94.23,304.80 96.70,301.00C99.17,297.20 98.50,298.17 100.70,296.30C102.90,294.43 101.53,294.73 103.30,295.40C105.07,296.07 104.20,294.67 106.00,298.30C107.80,301.93 107.13,300.30 108.70,306.30C110.27,312.30 109.60,312.50 110.70,316.30C111.80,320.10 110.67,317.23 112.00,317.70C113.33,318.17 112.93,317.03 114.70,317.70C116.47,318.37 115.30,319.60 117.30,319.70C119.30,319.80 118.47,318.47 120.70,318.00C122.93,317.53 122.23,317.83 124.00,318.30C125.77,318.77 124.43,319.83 126.00,319.40C127.57,318.97 126.93,318.60 128.70,317.00C130.47,315.40 129.77,318.60 131.30,314.60C132.83,310.60 132.17,308.87 133.30,305.00C134.43,301.13 134.23,303.67 134.70,303.00" fill="none" stroke="#ff1a1a" stroke-width="1.0" stroke-linejoin="round"/>
<path d="M45.10,303.70C46.30,307.03 46.63,309.50 48.70,313.70C50.77,317.90 49.40,314.10 51.30,316.30C53.20,318.50 52.40,323.63 54.40,320.30C56.40,316.97 55.20,312.97 57.30,306.30C59.40,299.63 58.70,301.17 60.70,300.30C62.70,299.43 61.30,299.23 63.30,303.70C65.30,308.17 64.47,307.93 66.70,313.70C68.93,319.47 68.00,316.13 70.00,321.00C72.00,325.87 71.07,328.30 72.70,328.30C74.33,328.30 73.13,326.53 74.90,321.00C76.67,315.47 76.07,313.47 78.00,311.70C79.93,309.93 78.93,312.60 80.70,315.70C82.47,318.80 81.77,321.90 83.30,321.00C84.83,320.10 83.83,317.10 85.30,313.00C86.77,308.90 86.13,309.13 87.70,308.70C89.27,308.27 88.33,309.03 90.00,311.70C91.67,314.37 90.93,316.70 92.70,316.70C94.47,316.70 93.77,314.03 95.30,311.70C96.83,309.37 95.83,312.17 97.30,309.70C98.77,307.23 98.13,305.43 99.70,304.30C101.27,303.17 100.57,302.97 102.00,306.30C103.43,309.63 102.43,308.07 104.00,314.30C105.57,320.53 105.00,323.67 106.70,325.00C108.40,326.33 107.57,324.53 109.10,318.30C110.63,312.07 109.67,311.97 111.30,306.30C112.93,300.63 112.20,301.97 114.00,301.30C115.80,300.63 115.13,302.40 116.70,304.30C118.27,306.20 117.60,306.33 118.70,307.00C119.80,307.67 118.90,305.20 120.00,306.30C121.10,307.40 120.23,306.30 122.00,310.30C123.77,314.30 123.30,316.97 125.30,318.30C127.30,319.63 126.00,316.07 128.00,314.30C130.00,312.53 129.30,312.63 131.30,313.00C133.30,313.37 133.10,314.60 134.00,315.40" fill="none" stroke="#1a1aff" stroke-width="1.0" stroke-linejoin="round"/>
<line x1="83.4" y1="274.8" x2="98.1" y2="274.8" stroke="#3333ff" stroke-width="1.2"/>
<line x1="83.4" y1="282.9" x2="98.1" y2="282.9" stroke="#ff3333" stroke-width="1.2"/>
<text x="100.0" y="277.1" font-size="6.4" font-weight="bold" fill="#111" textLength="34.3" lengthAdjust="spacingAndGlyphs">shot 4 edge</text>
<text x="100.0" y="285.2" font-size="6.4" font-weight="bold" fill="#111" textLength="38.8" lengthAdjust="spacingAndGlyphs">shot 4 center</text>
<rect x="195.6" y="263.0" width="111.9" height="90.1" fill="none" stroke="#444" stroke-width="0.9"/>
<path d="M195.6,353.0h2.0M307.5,353.0h-2.0M195.6,343.0h1.2M307.5,343.0h-1.2M195.6,333.0h2.0M307.5,333.0h-2.0M195.6,323.0h1.2M307.5,323.0h-1.2M195.6,313.0h2.0M307.5,313.0h-2.0M195.6,303.0h1.2M307.5,303.0h-1.2M195.6,293.0h2.0M307.5,293.0h-2.0M195.6,283.0h1.2M307.5,283.0h-1.2M195.6,273.0h2.0M307.5,273.0h-2.0M207.0,353.1v-2.0M207.0,263.0v2.0M218.1,353.1v-1.2M218.1,263.0v1.2M229.3,353.1v-2.0M229.3,263.0v2.0M240.4,353.1v-1.2M240.4,263.0v1.2M251.6,353.1v-2.0M251.6,263.0v2.0M262.7,353.1v-1.2M262.7,263.0v1.2M273.8,353.1v-2.0M273.8,263.0v2.0M285.0,353.1v-1.2M285.0,263.0v1.2M296.1,353.1v-2.0M296.1,263.0v2.0" stroke="#555" stroke-width="0.7" fill="none"/>
<text x="193.4" y="275.2" text-anchor="end" font-size="6.3" font-weight="bold" fill="#111">200</text>
<text x="193.4" y="295.2" text-anchor="end" font-size="6.3" font-weight="bold" fill="#111">100</text>
<text x="193.4" y="315.2" text-anchor="end" font-size="6.3" font-weight="bold" fill="#111">0</text>
<text x="193.4" y="335.2" text-anchor="end" font-size="6.3" font-weight="bold" fill="#111">−100</text>
<text x="193.4" y="355.2" text-anchor="end" font-size="6.3" font-weight="bold" fill="#111">−200</text>
<text x="207.0" y="359.9" text-anchor="middle" font-size="6.3" font-weight="bold" fill="#111">0</text>
<text x="229.3" y="359.9" text-anchor="middle" font-size="6.3" font-weight="bold" fill="#111">1</text>
<text x="251.6" y="359.9" text-anchor="middle" font-size="6.3" font-weight="bold" fill="#111">2</text>
<text x="273.8" y="359.9" text-anchor="middle" font-size="6.3" font-weight="bold" fill="#111">3</text>
<text x="296.1" y="359.9" text-anchor="middle" font-size="6.3" font-weight="bold" fill="#111">4</text>
<text x="227.7" y="369.2" font-size="8.4" fill="#000" textLength="47.8" lengthAdjust="spacingAndGlyphs">Position (µm)</text>
<text transform="translate(178.5,327.6) rotate(-90)" font-size="8.3" font-weight="bold" fill="#111" textLength="42.9" lengthAdjust="spacingAndGlyphs">Height (nm)</text>
<path d="M206.90,334.20C207.87,332.30 207.70,331.53 209.80,328.50C211.90,325.47 211.30,326.60 213.20,325.10C215.10,323.60 213.77,327.77 215.50,324.00C217.23,320.23 216.53,319.87 218.40,313.80C220.27,307.73 219.07,308.83 221.10,305.80C223.13,302.77 222.37,305.83 224.50,304.70C226.63,303.57 225.43,303.93 227.50,302.40C229.57,300.87 228.67,299.73 230.70,300.10C232.73,300.47 231.63,299.70 233.60,303.50C235.57,307.30 234.87,307.33 236.60,311.50C238.33,315.67 237.00,315.63 238.80,316.00C240.60,316.37 239.73,312.60 242.00,312.60C244.27,312.60 243.47,313.33 245.60,316.00C247.73,318.67 246.33,321.33 248.40,320.60C250.47,319.87 249.70,317.60 251.80,313.80C253.90,310.00 253.03,311.87 254.70,309.20C256.37,306.53 254.97,305.03 256.80,305.80C258.63,306.57 257.93,311.10 260.20,311.50C262.47,311.90 261.33,310.03 263.60,307.00C265.87,303.97 264.87,303.17 267.00,302.40C269.13,301.63 268.10,302.03 270.00,304.70C271.90,307.37 270.90,310.03 272.70,310.40C274.50,310.77 273.53,307.33 275.40,305.80C277.27,304.27 276.33,303.53 278.30,305.80C280.27,308.07 279.53,308.07 281.30,312.60C283.07,317.13 281.93,319.00 283.60,319.40C285.27,319.80 284.50,316.43 286.30,313.80C288.10,311.17 287.10,308.87 289.00,311.50C290.90,314.13 290.27,315.27 292.00,321.70C293.73,328.13 292.70,327.17 294.20,330.80C295.70,334.43 295.73,332.00 296.50,332.60" fill="none" stroke="#ff1a1a" stroke-width="1.0" stroke-linejoin="round"/>
<path d="M206.90,283.10C207.10,287.63 206.70,288.00 207.50,296.70C208.30,305.40 207.77,307.30 209.30,309.20C210.83,311.10 210.43,303.13 212.10,302.40C213.77,301.67 212.63,301.33 214.30,307.00C215.97,312.67 215.20,312.23 217.10,319.40C219.00,326.57 218.03,326.23 220.00,328.50C221.97,330.77 221.10,328.47 223.00,326.20C224.90,323.93 223.67,322.60 225.70,321.70C227.73,320.80 227.00,320.87 229.10,323.50C231.20,326.13 230.13,324.53 232.00,329.60C233.87,334.67 233.03,339.83 234.70,338.70C236.37,337.57 235.63,335.63 237.00,326.20C238.37,316.77 237.60,318.70 238.80,310.40C240.00,302.10 239.07,302.83 240.60,301.30C242.13,299.77 241.57,299.00 243.40,305.80C245.23,312.60 244.30,313.53 246.10,321.70C247.90,329.87 246.90,331.43 248.80,330.30C250.70,329.17 249.83,324.93 251.80,318.30C253.77,311.67 253.40,313.43 254.70,310.40C256.00,307.37 254.23,308.47 255.70,309.20C257.17,309.93 256.83,309.20 259.10,312.60C261.37,316.00 260.10,314.10 262.50,319.40C264.90,324.70 264.03,328.50 266.30,328.50C268.57,328.50 267.40,325.07 269.30,319.40C271.20,313.73 270.13,311.50 272.00,311.50C273.87,311.50 273.00,310.70 274.90,319.40C276.80,328.10 276.33,328.37 277.70,337.60C279.07,346.83 278.03,347.10 279.00,347.10C279.97,347.10 279.53,347.57 280.60,337.60C281.67,327.63 281.07,330.07 282.20,317.20C283.33,304.33 282.63,311.10 284.00,299.00C285.37,286.90 284.80,290.33 286.30,280.90C287.80,271.47 287.00,274.87 288.50,270.70C290.00,266.53 289.13,267.27 290.80,268.40C292.47,269.53 291.60,269.20 293.50,274.10C295.40,279.00 295.50,280.10 296.50,283.10" fill="none" stroke="#1a1aff" stroke-width="1.0" stroke-linejoin="round"/>
<line x1="227.1" y1="271.3" x2="237.9" y2="271.3" stroke="#3333ff" stroke-width="1.2"/>
<line x1="227.1" y1="279.4" x2="237.9" y2="279.4" stroke="#ff3333" stroke-width="1.2"/>
<text x="239.8" y="273.6" font-size="6.4" font-weight="bold" fill="#111" textLength="38.6" lengthAdjust="spacingAndGlyphs">shot 10 edge</text>
<text x="239.8" y="281.7" font-size="6.4" font-weight="bold" fill="#111" textLength="42.2" lengthAdjust="spacingAndGlyphs">shot 10 center</text>
<rect x="356.6" y="263.0" width="112.0" height="90.1" fill="none" stroke="#444" stroke-width="0.9"/>
<path d="M356.6,353.0h2.0M468.6,353.0h-2.0M356.6,343.0h1.2M468.6,343.0h-1.2M356.6,333.0h2.0M468.6,333.0h-2.0M356.6,323.0h1.2M468.6,323.0h-1.2M356.6,313.0h2.0M468.6,313.0h-2.0M356.6,303.0h1.2M468.6,303.0h-1.2M356.6,293.0h2.0M468.6,293.0h-2.0M356.6,283.0h1.2M468.6,283.0h-1.2M356.6,273.0h2.0M468.6,273.0h-2.0M367.8,353.1v-2.0M367.8,263.0v2.0M379.0,353.1v-1.2M379.0,263.0v1.2M390.2,353.1v-2.0M390.2,263.0v2.0M401.4,353.1v-1.2M401.4,263.0v1.2M412.6,353.1v-2.0M412.6,263.0v2.0M423.8,353.1v-1.2M423.8,263.0v1.2M434.9,353.1v-2.0M434.9,263.0v2.0M446.1,353.1v-1.2M446.1,263.0v1.2M457.3,353.1v-2.0M457.3,263.0v2.0" stroke="#555" stroke-width="0.7" fill="none"/>
<text x="354.4" y="275.2" text-anchor="end" font-size="6.3" font-weight="bold" fill="#111">200</text>
<text x="354.4" y="295.2" text-anchor="end" font-size="6.3" font-weight="bold" fill="#111">100</text>
<text x="354.4" y="315.2" text-anchor="end" font-size="6.3" font-weight="bold" fill="#111">0</text>
<text x="354.4" y="335.2" text-anchor="end" font-size="6.3" font-weight="bold" fill="#111">−100</text>
<text x="354.4" y="355.2" text-anchor="end" font-size="6.3" font-weight="bold" fill="#111">−200</text>
<text x="367.8" y="359.9" text-anchor="middle" font-size="6.3" font-weight="bold" fill="#111">0</text>
<text x="390.2" y="359.9" text-anchor="middle" font-size="6.3" font-weight="bold" fill="#111">1</text>
<text x="412.6" y="359.9" text-anchor="middle" font-size="6.3" font-weight="bold" fill="#111">2</text>
<text x="434.9" y="359.9" text-anchor="middle" font-size="6.3" font-weight="bold" fill="#111">3</text>
<text x="457.3" y="359.9" text-anchor="middle" font-size="6.3" font-weight="bold" fill="#111">4</text>
<text x="388.7" y="369.2" font-size="8.4" fill="#000" textLength="47.8" lengthAdjust="spacingAndGlyphs">Position (µm)</text>
<text transform="translate(339.5,327.6) rotate(-90)" font-size="8.3" font-weight="bold" fill="#111" textLength="42.9" lengthAdjust="spacingAndGlyphs">Height (nm)</text>
<path d="M367.80,320.10C368.57,318.37 368.60,317.10 370.10,314.90C371.60,312.70 370.87,312.93 372.30,313.50C373.73,314.07 372.83,314.40 374.40,316.60C375.97,318.80 375.27,317.90 377.00,320.10C378.73,322.30 378.17,321.93 379.60,323.20C381.03,324.47 380.13,326.10 381.30,323.90C382.47,321.70 381.83,321.07 383.10,316.60C384.37,312.13 383.67,313.50 385.10,310.50C386.53,307.50 385.77,308.47 387.40,307.60C389.03,306.73 388.57,307.20 390.00,307.90C391.43,308.60 390.43,309.40 391.70,309.70C392.97,310.00 392.33,312.27 393.80,308.80C395.27,305.33 394.47,303.17 396.10,299.30C397.73,295.43 396.97,296.33 398.70,297.20C400.43,298.07 399.57,298.03 401.30,301.90C403.03,305.77 401.90,308.23 403.90,308.80C405.90,309.37 405.47,304.17 407.30,303.60C409.13,303.03 408.50,305.07 409.40,307.10C410.30,309.13 408.93,304.23 410.00,309.70C411.07,315.17 410.87,316.57 412.60,323.50C414.33,330.43 413.47,331.63 415.20,330.50C416.93,329.37 416.07,326.47 417.80,320.10C419.53,313.73 418.67,314.87 420.40,311.40C422.13,307.93 420.97,309.70 423.00,309.70C425.03,309.70 424.20,310.53 426.50,311.40C428.80,312.27 427.90,310.87 429.90,312.30C431.90,313.73 430.77,311.97 432.50,315.70C434.23,319.43 433.37,322.63 435.10,323.50C436.83,324.37 435.67,323.97 437.70,318.30C439.73,312.63 439.17,309.37 441.20,306.50C443.23,303.63 442.07,306.63 443.80,309.70C445.53,312.77 444.83,312.53 446.40,315.70C447.97,318.87 446.77,321.20 448.50,319.20C450.23,317.20 449.70,313.17 451.60,309.70C453.50,306.23 452.47,307.07 454.20,308.80C455.93,310.53 455.63,311.73 456.80,314.90C457.97,318.07 457.40,317.17 457.70,318.30" fill="none" stroke="#ff1a1a" stroke-width="1.0" stroke-linejoin="round"/>
<path d="M367.80,319.20C368.27,320.37 368.27,320.97 369.20,322.70C370.13,324.43 369.57,325.00 370.60,324.40C371.63,323.80 371.13,322.63 372.30,320.90C373.47,319.17 372.83,322.37 374.10,319.20C375.37,316.03 374.73,315.03 376.10,311.40C377.47,307.77 376.73,308.00 378.20,308.30C379.67,308.60 379.17,308.10 380.50,312.30C381.83,316.50 381.23,316.87 382.20,320.90C383.17,324.93 382.43,324.67 383.40,324.40C384.37,324.13 383.93,322.40 385.10,320.10C386.27,317.80 385.57,320.40 386.90,317.50C388.23,314.60 387.77,314.70 389.10,311.40C390.43,308.10 389.73,308.17 390.90,307.60C392.07,307.03 391.47,307.27 392.60,309.70C393.73,312.13 393.13,311.17 394.30,314.90C395.47,318.63 394.63,317.73 396.10,320.90C397.57,324.07 396.97,324.10 398.70,324.40C400.43,324.70 399.70,323.70 401.30,321.80C402.90,319.90 402.07,318.40 403.50,318.70C404.93,319.00 404.03,320.50 405.60,322.70C407.17,324.90 406.47,325.13 408.20,325.30C409.93,325.47 409.33,323.50 410.80,323.20C412.27,322.90 411.23,322.83 412.60,324.40C413.97,325.97 413.47,331.07 414.90,327.90C416.33,324.73 415.53,321.83 416.90,314.90C418.27,307.97 417.53,312.60 419.00,307.10C420.47,301.60 419.57,303.60 421.30,298.40C423.03,293.20 422.47,292.37 424.20,291.50C425.93,290.63 425.17,290.33 426.50,295.80C427.83,301.27 426.87,300.67 428.20,307.90C429.53,315.13 429.07,316.33 430.50,317.50C431.93,318.67 430.97,316.33 432.50,311.40C434.03,306.47 433.47,306.30 435.10,302.70C436.73,299.10 435.93,300.00 437.40,300.60C438.87,301.20 437.93,300.90 439.50,304.50C441.07,308.10 440.67,308.23 442.10,311.40C443.53,314.57 442.67,316.30 443.80,314.00C444.93,311.70 444.33,311.13 445.50,304.50C446.67,297.87 445.97,298.43 447.30,294.10C448.63,289.77 448.07,290.37 449.50,291.50C450.93,292.63 450.33,292.90 451.60,297.50C452.87,302.10 452.03,302.10 453.30,305.30C454.57,308.50 453.93,305.63 455.40,307.10C456.87,308.57 456.93,308.83 457.70,309.70" fill="none" stroke="#1a1aff" stroke-width="1.0" stroke-linejoin="round"/>
<line x1="394.0" y1="272.0" x2="404.6" y2="272.0" stroke="#3333ff" stroke-width="1.2"/>
<line x1="394.0" y1="280.0" x2="404.6" y2="280.0" stroke="#ff3333" stroke-width="1.2"/>
<text x="406.7" y="274.3" font-size="6.4" font-weight="bold" fill="#111" textLength="38.3" lengthAdjust="spacingAndGlyphs">shot 15 edge</text>
<text x="406.7" y="282.3" font-size="6.4" font-weight="bold" fill="#111" textLength="42.7" lengthAdjust="spacingAndGlyphs">shot 15 center</text>
<rect x="520.5" y="263.0" width="111.7" height="90.1" fill="none" stroke="#444" stroke-width="0.9"/>
<path d="M520.5,353.0h2.0M632.2,353.0h-2.0M520.5,343.0h1.2M632.2,343.0h-1.2M520.5,333.0h2.0M632.2,333.0h-2.0M520.5,323.0h1.2M632.2,323.0h-1.2M520.5,313.0h2.0M632.2,313.0h-2.0M520.5,303.0h1.2M632.2,303.0h-1.2M520.5,293.0h2.0M632.2,293.0h-2.0M520.5,283.0h1.2M632.2,283.0h-1.2M520.5,273.0h2.0M632.2,273.0h-2.0M531.7,353.1v-2.0M531.7,263.0v2.0M542.9,353.1v-1.2M542.9,263.0v1.2M554.1,353.1v-2.0M554.1,263.0v2.0M565.3,353.1v-1.2M565.3,263.0v1.2M576.6,353.1v-2.0M576.6,263.0v2.0M587.8,353.1v-1.2M587.8,263.0v1.2M599.0,353.1v-2.0M599.0,263.0v2.0M610.2,353.1v-1.2M610.2,263.0v1.2M621.4,353.1v-2.0M621.4,263.0v2.0" stroke="#555" stroke-width="0.7" fill="none"/>
<text x="518.3" y="275.2" text-anchor="end" font-size="6.3" font-weight="bold" fill="#111">200</text>
<text x="518.3" y="295.2" text-anchor="end" font-size="6.3" font-weight="bold" fill="#111">100</text>
<text x="518.3" y="315.2" text-anchor="end" font-size="6.3" font-weight="bold" fill="#111">0</text>
<text x="518.3" y="335.2" text-anchor="end" font-size="6.3" font-weight="bold" fill="#111">−100</text>
<text x="518.3" y="355.2" text-anchor="end" font-size="6.3" font-weight="bold" fill="#111">−200</text>
<text x="531.7" y="359.9" text-anchor="middle" font-size="6.3" font-weight="bold" fill="#111">0</text>
<text x="554.1" y="359.9" text-anchor="middle" font-size="6.3" font-weight="bold" fill="#111">1</text>
<text x="576.6" y="359.9" text-anchor="middle" font-size="6.3" font-weight="bold" fill="#111">2</text>
<text x="599.0" y="359.9" text-anchor="middle" font-size="6.3" font-weight="bold" fill="#111">3</text>
<text x="621.4" y="359.9" text-anchor="middle" font-size="6.3" font-weight="bold" fill="#111">4</text>
<text x="552.7" y="369.2" font-size="8.4" fill="#000" textLength="47.8" lengthAdjust="spacingAndGlyphs">Position (µm)</text>
<text transform="translate(503.4,327.6) rotate(-90)" font-size="8.3" font-weight="bold" fill="#111" textLength="42.9" lengthAdjust="spacingAndGlyphs">Height (nm)</text>
<path d="M531.70,303.40C532.17,303.90 532.13,305.87 533.10,304.90C534.07,303.93 533.27,302.70 534.60,300.50C535.93,298.30 535.63,298.07 537.10,298.30C538.57,298.53 537.63,298.03 539.00,301.20C540.37,304.37 539.73,302.90 541.20,307.80C542.67,312.70 542.03,314.93 543.40,315.90C544.77,316.87 544.00,313.87 545.30,310.70C546.60,307.53 546.00,308.23 547.30,306.40C548.60,304.57 547.93,304.73 549.20,305.20C550.47,305.67 549.87,304.50 551.10,307.80C552.33,311.10 551.67,310.47 552.90,315.10C554.13,319.73 553.43,320.47 554.80,321.70C556.17,322.93 555.43,319.90 557.00,318.80C558.57,317.70 557.83,317.17 559.50,318.40C561.17,319.63 560.40,319.60 562.00,322.50C563.60,325.40 562.83,327.10 564.30,327.10C565.77,327.10 564.60,326.10 566.40,322.50C568.20,318.90 567.87,317.87 569.70,316.30C571.53,314.73 570.43,316.33 571.90,317.80C573.37,319.27 573.07,319.13 574.10,320.70C575.13,322.27 573.97,323.37 575.00,322.50C576.03,321.63 575.83,321.53 577.20,318.10C578.57,314.67 577.87,315.53 579.10,312.20C580.33,308.87 579.73,308.33 580.90,308.10C582.07,307.87 581.40,307.43 582.60,311.50C583.80,315.57 583.13,315.67 584.50,320.30C585.87,324.93 585.23,324.93 586.70,325.40C588.17,325.87 587.43,325.13 588.90,321.70C590.37,318.27 589.63,317.53 591.10,315.10C592.57,312.67 591.83,313.90 593.30,314.40C594.77,314.90 594.03,315.27 595.50,316.60C596.97,317.93 596.23,319.37 597.70,318.40C599.17,317.43 598.43,317.70 599.90,313.70C601.37,309.70 600.63,309.10 602.10,306.40C603.57,303.70 602.83,304.40 604.30,305.60C605.77,306.80 605.13,307.30 606.50,310.00C607.87,312.70 606.93,314.17 608.40,313.70C609.87,313.23 609.23,311.63 610.90,308.60C612.57,305.57 611.70,305.10 613.40,304.60C615.10,304.10 614.53,305.07 616.00,307.10C617.47,309.13 616.57,311.20 617.80,310.70C619.03,310.20 618.43,309.00 619.70,305.60C620.97,302.20 620.97,302.20 621.60,300.50" fill="none" stroke="#ff1a1a" stroke-width="1.0" stroke-linejoin="round"/>
<path d="M532.10,307.80C532.43,309.03 532.27,308.57 533.10,311.50C533.93,314.43 533.37,313.93 534.60,316.60C535.83,319.27 535.33,317.80 536.80,319.50C538.27,321.20 537.63,319.50 539.00,321.70C540.37,323.90 539.93,324.00 540.90,326.10C541.87,328.20 541.07,329.70 541.90,328.00C542.73,326.30 542.43,326.77 543.40,321.00C544.37,315.23 543.83,317.03 544.80,310.70C545.77,304.37 545.30,306.37 546.30,302.00C547.30,297.63 546.67,298.70 547.80,297.60C548.93,296.50 548.50,296.27 549.70,298.70C550.90,301.13 550.23,299.43 551.40,304.90C552.57,310.37 551.97,308.77 553.20,315.10C554.43,321.43 553.97,317.93 555.10,323.90C556.23,329.87 555.47,332.00 556.60,333.00C557.73,334.00 557.40,332.37 558.50,326.90C559.60,321.43 558.83,324.43 559.90,316.60C560.97,308.77 560.63,310.73 561.70,303.40C562.77,296.07 562.13,298.10 563.10,294.60C564.07,291.10 563.50,291.43 564.60,292.90C565.70,294.37 565.17,294.77 566.40,299.00C567.63,303.23 566.93,302.40 568.30,305.60C569.67,308.80 569.03,306.80 570.50,308.60C571.97,310.40 571.33,313.70 572.70,311.00C574.07,308.30 573.23,306.07 574.60,300.50C575.97,294.93 575.43,295.53 576.80,294.30C578.17,293.07 577.33,293.27 578.70,296.80C580.07,300.33 579.47,298.80 580.90,304.90C582.33,311.00 581.57,309.50 583.00,315.10C584.43,320.70 583.73,319.00 585.20,321.70C586.67,324.40 585.93,324.40 587.40,323.20C588.87,322.00 588.13,321.53 589.60,318.10C591.07,314.67 590.33,315.60 591.80,312.90C593.27,310.20 592.53,310.47 594.00,310.00C595.47,309.53 594.73,309.80 596.20,311.50C597.67,313.20 596.93,311.43 598.40,315.10C599.87,318.77 599.13,317.60 600.60,322.50C602.07,327.40 601.33,329.80 602.80,329.80C604.27,329.80 603.63,326.90 605.00,322.50C606.37,318.10 605.57,319.43 606.90,316.60C608.23,313.77 607.67,314.23 609.00,314.00C610.33,313.77 609.63,313.57 610.90,315.90C612.17,318.23 611.60,317.33 612.80,321.00C614.00,324.67 613.33,322.90 614.50,326.90C615.67,330.90 615.20,330.47 616.30,333.00C617.40,335.53 616.93,336.07 617.80,334.50C618.67,332.93 618.03,333.30 618.90,328.30C619.77,323.30 619.50,324.37 620.40,319.50C621.30,314.63 621.20,315.63 621.60,313.70" fill="none" stroke="#1a1aff" stroke-width="1.0" stroke-linejoin="round"/>
<line x1="566.0" y1="275.2" x2="576.8" y2="275.2" stroke="#3333ff" stroke-width="1.2"/>
<line x1="566.0" y1="283.3" x2="576.8" y2="283.3" stroke="#ff3333" stroke-width="1.2"/>
<text x="579.0" y="277.5" font-size="6.4" font-weight="bold" fill="#111" textLength="38.6" lengthAdjust="spacingAndGlyphs">shot 50 edge</text>
<text x="579.0" y="285.6" font-size="6.4" font-weight="bold" fill="#111" textLength="42.4" lengthAdjust="spacingAndGlyphs">shot 50 center</text>
<path d="M603.8,314.1 H616.2" stroke="#666" stroke-width="0.7" stroke-dasharray="1.2,1"/>
<path d="M615.1,315 V335" stroke="#888" stroke-width="1.3"/>
<path d="M613.6,317.2 L615.1,314.2 L616.6,317.2 Z M613.6,332.6 L615.1,335.6 L616.6,332.6 Z" fill="#222"/>
<path d="M615.6,324.4 H621.3" stroke="#666" stroke-width="0.7" stroke-dasharray="1.2,0.8"/>
<text x="621.4" y="327.6" font-size="7.3" font-weight="bold" fill="#111">H</text>
<text x="5.1" y="25.0" style="font-family:'Liberation Serif',serif" font-weight="bold" fill="#000"><tspan font-size="26">(</tspan><tspan font-size="24.5">a</tspan><tspan font-size="18.5">1</tspan><tspan font-size="26" dx="0.8">)</tspan></text>
<text x="168.8" y="24.9" style="font-family:'Liberation Serif',serif" font-weight="bold" fill="#000"><tspan font-size="26">(</tspan><tspan font-size="24.5">b</tspan><tspan font-size="18.5">1</tspan><tspan font-size="26" dx="1.6">)</tspan></text>
<text x="335.8" y="24.6" style="font-family:'Liberation Serif',serif" font-weight="bold" fill="#000"><tspan font-size="26">(</tspan><tspan font-size="24.5">c</tspan><tspan font-size="18.5">1</tspan><tspan font-size="26" dx="2.5">)</tspan></text>
<text x="498.1" y="26.0" style="font-family:'Liberation Serif',serif" font-weight="bold" fill="#000"><tspan font-size="26">(</tspan><tspan font-size="24.5">d</tspan><tspan font-size="18.5">1</tspan><tspan font-size="26" dx="1.9">)</tspan></text>
<text x="5.4" y="141.1" style="font-family:'Liberation Serif',serif" font-weight="bold" fill="#000"><tspan font-size="26">(</tspan><tspan font-size="24.5">a</tspan><tspan font-size="18.5">2</tspan><tspan font-size="26" dx="1.0">)</tspan></text>
<text x="169.0" y="141.0" style="font-family:'Liberation Serif',serif" font-weight="bold" fill="#000"><tspan font-size="26">(</tspan><tspan font-size="24.5">b</tspan><tspan font-size="18.5">2</tspan><tspan font-size="26" dx="1.4">)</tspan></text>
<text x="334.1" y="144.2" style="font-family:'Liberation Serif',serif" font-weight="bold" fill="#000"><tspan font-size="26">(</tspan><tspan font-size="24.5">c</tspan><tspan font-size="18.5">2</tspan><tspan font-size="26" dx="0.1">)</tspan></text>
<text x="500.3" y="144.2" style="font-family:'Liberation Serif',serif" font-weight="bold" fill="#000"><tspan font-size="26">(</tspan><tspan font-size="24.5">d</tspan><tspan font-size="18.5">2</tspan><tspan font-size="26" dx="1.2">)</tspan></text>
<text x="4.9" y="256.0" style="font-family:'Liberation Serif',serif" font-weight="bold" fill="#000"><tspan font-size="20">(</tspan><tspan font-size="18.5">a</tspan><tspan font-size="18.5">3</tspan><tspan font-size="20" dx="0.8">)</tspan></text>
<text x="152.9" y="256.2" style="font-family:'Liberation Serif',serif" font-weight="bold" fill="#000"><tspan font-size="20">(</tspan><tspan font-size="18.5">b</tspan><tspan font-size="18.5">3</tspan><tspan font-size="20" dx="0.2">)</tspan></text>
<text x="311.5" y="256.6" style="font-family:'Liberation Serif',serif" font-weight="bold" fill="#000"><tspan font-size="20">(</tspan><tspan font-size="18.5">c</tspan><tspan font-size="18.5">3</tspan><tspan font-size="20" dx="0.0">)</tspan></text>
<text x="468.3" y="255.8" style="font-family:'Liberation Serif',serif" font-weight="bold" fill="#000"><tspan font-size="20">(</tspan><tspan font-size="18.5">d</tspan><tspan font-size="18.5">3</tspan><tspan font-size="20" dx="1.0">)</tspan></text>
</svg></body></html>
